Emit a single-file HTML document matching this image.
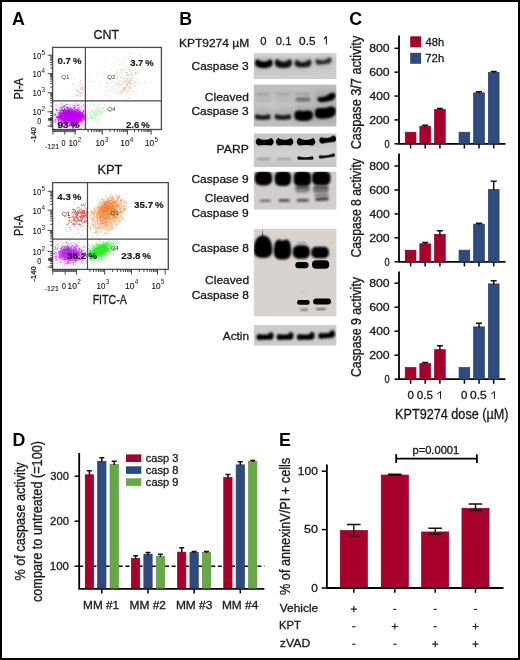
<!DOCTYPE html><html><head><meta charset="utf-8"><style>html,body{margin:0;padding:0;background:#fff;overflow:hidden}svg{display:block;will-change:transform}text{font-family:"Liberation Sans",sans-serif}</style></head><body>
<svg width="520" height="660" viewBox="0 0 520 660">
<defs>
<filter id="b05" x="-50%" y="-50%" width="200%" height="200%"><feGaussianBlur stdDeviation="0.5"/></filter>
<filter id="b1" x="-50%" y="-50%" width="200%" height="200%"><feGaussianBlur stdDeviation="1"/></filter>
<filter id="b15" x="-50%" y="-50%" width="200%" height="200%"><feGaussianBlur stdDeviation="1.5"/></filter>
<filter id="b2" x="-50%" y="-50%" width="200%" height="200%"><feGaussianBlur stdDeviation="2"/></filter>
<filter id="b3" x="-50%" y="-50%" width="200%" height="200%"><feGaussianBlur stdDeviation="3"/></filter>
</defs>
<rect x="0" y="0" width="520" height="660" fill="#fff"/>
<text x="11.9" y="24.9" font-size="17.8" font-weight="bold" fill="#000">A</text>
<text x="179.2" y="24.9" font-size="17.8" font-weight="bold" fill="#000">B</text>
<text x="349.20000000000005" y="24.9" font-size="17.8" font-weight="bold" fill="#000">C</text>
<text x="12.5" y="445.8" font-size="17.8" font-weight="bold" fill="#000">D</text>
<text x="279.0" y="445.8" font-size="17.8" font-weight="bold" fill="#000">E</text>
<text x="93.46" y="38.9" font-size="12.6" font-weight="normal" fill="#1a1a1a" stroke="#1a1a1a" stroke-width="0.3" textLength="25.72" lengthAdjust="spacingAndGlyphs" >CNT</text>
<text x="97.45" y="174.4" font-size="12.6" font-weight="normal" fill="#1a1a1a" stroke="#1a1a1a" stroke-width="0.3" textLength="24.95" lengthAdjust="spacingAndGlyphs" >KPT</text>
<path d="M107.9 84.1h1.0v1.0h-1.0zM108.4 74.2h1.0v1.0h-1.0zM97.1 75.4h1.0v1.0h-1.0zM129.8 83.1h1.0v1.0h-1.0zM128.6 81.0h1.0v1.0h-1.0zM118.3 80.2h1.0v1.0h-1.0zM85.3 88.3h1.0v1.0h-1.0zM120.1 84.0h1.0v1.0h-1.0zM84.9 57.1h1.0v1.0h-1.0zM97.8 72.4h1.0v1.0h-1.0zM116.9 77.4h1.0v1.0h-1.0zM120.3 70.3h1.0v1.0h-1.0zM116.9 82.7h1.0v1.0h-1.0zM101.4 98.6h1.0v1.0h-1.0zM120.9 92.4h1.0v1.0h-1.0zM102.1 69.1h1.0v1.0h-1.0zM106.5 76.7h1.0v1.0h-1.0zM122.1 81.0h1.0v1.0h-1.0zM104.8 66.5h1.0v1.0h-1.0zM103.7 92.7h1.0v1.0h-1.0zM99.1 80.9h1.0v1.0h-1.0zM118.8 60.1h1.0v1.0h-1.0zM112.8 93.7h1.0v1.0h-1.0zM79.8 74.1h1.0v1.0h-1.0zM110.3 68.2h1.0v1.0h-1.0zM120.0 77.3h1.0v1.0h-1.0zM88.6 87.9h1.0v1.0h-1.0zM122.7 89.4h1.0v1.0h-1.0zM135.0 82.3h1.0v1.0h-1.0zM113.9 62.4h1.0v1.0h-1.0zM121.8 70.7h1.0v1.0h-1.0zM104.8 62.8h1.0v1.0h-1.0zM96.5 71.6h1.0v1.0h-1.0zM132.6 53.6h1.0v1.0h-1.0zM88.7 80.9h1.0v1.0h-1.0zM135.1 84.9h1.0v1.0h-1.0zM117.7 69.2h1.0v1.0h-1.0zM94.1 89.7h1.0v1.0h-1.0zM129.6 79.9h1.0v1.0h-1.0zM115.9 83.2h1.0v1.0h-1.0zM137.5 85.4h1.0v1.0h-1.0zM120.3 84.6h1.0v1.0h-1.0zM86.9 93.4h1.0v1.0h-1.0zM127.3 84.4h1.0v1.0h-1.0zM80.4 70.4h1.0v1.0h-1.0zM125.5 56.3h1.0v1.0h-1.0zM109.1 90.2h1.0v1.0h-1.0zM91.0 97.3h1.0v1.0h-1.0zM120.8 76.2h1.0v1.0h-1.0zM117.2 85.8h1.0v1.0h-1.0zM113.9 91.7h1.0v1.0h-1.0zM101.4 73.0h1.0v1.0h-1.0zM128.7 78.3h1.0v1.0h-1.0zM97.9 89.4h1.0v1.0h-1.0zM135.4 72.7h1.0v1.0h-1.0zM89.9 76.4h1.0v1.0h-1.0zM109.6 74.4h1.0v1.0h-1.0zM134.5 65.7h1.0v1.0h-1.0zM132.2 62.8h1.0v1.0h-1.0zM99.4 85.6h1.0v1.0h-1.0zM130.1 88.3h1.0v1.0h-1.0zM117.5 79.7h1.0v1.0h-1.0zM114.4 84.9h1.0v1.0h-1.0zM109.2 81.3h1.0v1.0h-1.0zM121.2 78.0h1.0v1.0h-1.0zM124.2 84.8h1.0v1.0h-1.0zM144.2 81.9h1.0v1.0h-1.0zM105.2 73.5h1.0v1.0h-1.0zM111.8 89.1h1.0v1.0h-1.0zM106.6 82.6h1.0v1.0h-1.0zM94.0 80.9h1.0v1.0h-1.0zM118.4 80.9h1.0v1.0h-1.0zM105.1 85.9h1.0v1.0h-1.0zM116.5 71.7h1.0v1.0h-1.0zM150.9 82.3h1.0v1.0h-1.0zM103.1 76.8h1.0v1.0h-1.0zM108.4 77.2h1.0v1.0h-1.0zM68.4 72.2h1.0v1.0h-1.0zM128.1 64.0h1.0v1.0h-1.0zM110.9 89.4h1.0v1.0h-1.0zM125.7 95.9h1.0v1.0h-1.0zM84.8 73.8h1.0v1.0h-1.0zM106.5 85.5h1.0v1.0h-1.0zM129.4 60.6h1.0v1.0h-1.0zM122.9 60.1h1.0v1.0h-1.0zM114.8 92.3h1.0v1.0h-1.0zM109.6 80.3h1.0v1.0h-1.0zM124.8 79.7h1.0v1.0h-1.0zM110.6 96.4h1.0v1.0h-1.0zM128.8 74.5h1.0v1.0h-1.0z" fill="#c9c0c0" opacity="0.55"/>
<path d="M146.0 57.4h1.0v1.0h-1.0zM131.3 74.3h1.0v1.0h-1.0zM125.1 87.5h1.0v1.0h-1.0zM125.8 86.5h1.0v1.0h-1.0zM111.8 72.5h1.0v1.0h-1.0zM128.9 68.6h1.0v1.0h-1.0zM115.8 70.7h1.0v1.0h-1.0zM134.1 83.0h1.0v1.0h-1.0zM135.8 65.1h1.0v1.0h-1.0zM124.0 69.5h1.0v1.0h-1.0zM130.1 93.7h1.0v1.0h-1.0zM131.9 74.9h1.0v1.0h-1.0zM123.2 75.3h1.0v1.0h-1.0zM127.2 83.4h1.0v1.0h-1.0zM136.0 64.1h1.0v1.0h-1.0zM133.1 91.0h1.0v1.0h-1.0zM135.6 72.8h1.0v1.0h-1.0zM118.0 94.5h1.0v1.0h-1.0zM124.9 81.7h1.0v1.0h-1.0zM135.4 72.1h1.0v1.0h-1.0zM105.6 87.2h1.0v1.0h-1.0zM109.2 97.4h1.0v1.0h-1.0zM126.5 73.4h1.0v1.0h-1.0zM123.9 89.4h1.0v1.0h-1.0zM124.6 94.0h1.0v1.0h-1.0zM123.5 91.8h1.0v1.0h-1.0zM135.9 90.7h1.0v1.0h-1.0zM118.6 92.8h1.0v1.0h-1.0zM109.0 78.3h1.0v1.0h-1.0zM114.1 86.3h1.0v1.0h-1.0zM122.5 81.6h1.0v1.0h-1.0zM119.3 86.0h1.0v1.0h-1.0zM138.3 73.6h1.0v1.0h-1.0zM128.2 88.8h1.0v1.0h-1.0zM122.4 69.2h1.0v1.0h-1.0zM119.6 94.3h1.0v1.0h-1.0zM110.8 82.2h1.0v1.0h-1.0zM132.1 84.6h1.0v1.0h-1.0zM124.1 89.1h1.0v1.0h-1.0zM125.3 68.4h1.0v1.0h-1.0zM111.5 81.4h1.0v1.0h-1.0zM131.4 71.2h1.0v1.0h-1.0zM116.8 77.2h1.0v1.0h-1.0zM111.7 86.6h1.0v1.0h-1.0zM114.6 89.9h1.0v1.0h-1.0zM105.1 94.7h1.0v1.0h-1.0zM118.9 64.2h1.0v1.0h-1.0zM129.8 75.0h1.0v1.0h-1.0zM106.2 82.0h1.0v1.0h-1.0zM126.3 75.1h1.0v1.0h-1.0zM130.2 85.1h1.0v1.0h-1.0zM129.3 81.4h1.0v1.0h-1.0zM134.7 81.8h1.0v1.0h-1.0zM127.6 58.0h1.0v1.0h-1.0zM131.2 90.3h1.0v1.0h-1.0zM121.6 77.6h1.0v1.0h-1.0zM139.5 54.7h1.0v1.0h-1.0zM116.6 92.0h1.0v1.0h-1.0zM139.1 71.5h1.0v1.0h-1.0zM128.5 87.6h1.0v1.0h-1.0zM116.8 84.1h1.0v1.0h-1.0zM126.3 88.0h1.0v1.0h-1.0zM123.7 79.2h1.0v1.0h-1.0zM115.9 81.9h1.0v1.0h-1.0zM131.1 78.1h1.0v1.0h-1.0zM117.2 76.3h1.0v1.0h-1.0zM145.3 80.8h1.0v1.0h-1.0zM129.1 52.1h1.0v1.0h-1.0zM129.0 83.1h1.0v1.0h-1.0zM137.5 77.9h1.0v1.0h-1.0zM123.5 86.6h1.0v1.0h-1.0zM108.4 100.0h1.0v1.0h-1.0zM126.6 72.5h1.0v1.0h-1.0zM134.6 93.4h1.0v1.0h-1.0zM112.8 80.5h1.0v1.0h-1.0zM126.3 81.6h1.0v1.0h-1.0zM120.8 72.9h1.0v1.0h-1.0zM141.0 82.1h1.0v1.0h-1.0zM114.4 72.7h1.0v1.0h-1.0zM137.6 83.5h1.0v1.0h-1.0zM138.6 81.2h1.0v1.0h-1.0zM117.0 87.5h1.0v1.0h-1.0zM106.7 83.0h1.0v1.0h-1.0zM123.5 86.5h1.0v1.0h-1.0zM118.2 82.9h1.0v1.0h-1.0zM127.7 82.8h1.0v1.0h-1.0zM129.1 80.3h1.0v1.0h-1.0zM121.4 90.4h1.0v1.0h-1.0zM124.4 72.5h1.0v1.0h-1.0zM119.0 83.8h1.0v1.0h-1.0zM123.1 83.1h1.0v1.0h-1.0zM124.0 82.8h1.0v1.0h-1.0zM122.9 68.9h1.0v1.0h-1.0zM127.4 89.8h1.0v1.0h-1.0zM127.5 77.2h1.0v1.0h-1.0zM127.6 69.3h1.0v1.0h-1.0zM108.8 89.9h1.0v1.0h-1.0zM116.6 92.6h1.0v1.0h-1.0zM115.3 59.3h1.0v1.0h-1.0zM120.9 68.9h1.0v1.0h-1.0zM117.9 89.6h1.0v1.0h-1.0zM128.0 80.6h1.0v1.0h-1.0zM135.9 81.6h1.0v1.0h-1.0zM123.8 87.1h1.0v1.0h-1.0zM137.2 83.5h1.0v1.0h-1.0zM132.2 65.6h1.0v1.0h-1.0zM122.8 89.0h1.0v1.0h-1.0zM121.6 93.1h1.0v1.0h-1.0zM128.8 87.5h1.0v1.0h-1.0zM133.9 73.4h1.0v1.0h-1.0zM121.3 91.3h1.0v1.0h-1.0zM131.8 76.8h1.0v1.0h-1.0zM114.7 88.0h1.0v1.0h-1.0zM126.9 90.8h1.0v1.0h-1.0zM130.3 77.8h1.0v1.0h-1.0zM130.8 82.7h1.0v1.0h-1.0zM125.6 80.7h1.0v1.0h-1.0zM122.1 89.0h1.0v1.0h-1.0zM115.6 79.3h1.0v1.0h-1.0zM124.0 66.2h1.0v1.0h-1.0z" fill="#e8a878" opacity="0.55"/>
<path d="M125.5 71.8h1.0v1.0h-1.0zM124.6 90.7h1.0v1.0h-1.0zM129.0 81.4h1.0v1.0h-1.0zM126.2 75.1h1.0v1.0h-1.0zM133.4 80.3h1.0v1.0h-1.0zM130.8 73.5h1.0v1.0h-1.0zM126.4 72.1h1.0v1.0h-1.0zM129.7 87.4h1.0v1.0h-1.0zM120.4 91.2h1.0v1.0h-1.0zM129.2 69.3h1.0v1.0h-1.0zM120.6 83.9h1.0v1.0h-1.0zM124.8 76.8h1.0v1.0h-1.0zM127.1 85.6h1.0v1.0h-1.0zM129.2 86.3h1.0v1.0h-1.0zM132.3 86.1h1.0v1.0h-1.0zM122.4 85.7h1.0v1.0h-1.0zM123.3 80.8h1.0v1.0h-1.0zM126.7 84.4h1.0v1.0h-1.0zM128.7 71.0h1.0v1.0h-1.0zM122.7 88.8h1.0v1.0h-1.0zM126.3 82.6h1.0v1.0h-1.0zM126.8 79.0h1.0v1.0h-1.0zM129.5 83.6h1.0v1.0h-1.0zM126.7 79.7h1.0v1.0h-1.0zM126.4 65.8h1.0v1.0h-1.0zM123.6 88.2h1.0v1.0h-1.0zM121.7 91.4h1.0v1.0h-1.0zM127.5 73.9h1.0v1.0h-1.0zM126.1 82.8h1.0v1.0h-1.0zM128.6 86.4h1.0v1.0h-1.0zM126.9 78.2h1.0v1.0h-1.0zM126.5 84.1h1.0v1.0h-1.0zM129.6 83.1h1.0v1.0h-1.0zM124.5 77.5h1.0v1.0h-1.0zM125.7 80.4h1.0v1.0h-1.0zM123.1 87.6h1.0v1.0h-1.0zM125.3 86.7h1.0v1.0h-1.0zM128.8 79.0h1.0v1.0h-1.0zM135.1 72.5h1.0v1.0h-1.0zM130.9 80.4h1.0v1.0h-1.0zM130.9 63.1h1.0v1.0h-1.0zM124.4 88.7h1.0v1.0h-1.0zM129.1 97.8h1.0v1.0h-1.0zM128.1 91.6h1.0v1.0h-1.0zM129.7 87.5h1.0v1.0h-1.0zM128.8 80.9h1.0v1.0h-1.0zM128.8 74.5h1.0v1.0h-1.0zM131.1 72.2h1.0v1.0h-1.0zM127.9 97.7h1.0v1.0h-1.0zM126.2 85.0h1.0v1.0h-1.0zM131.1 79.5h1.0v1.0h-1.0zM124.2 89.0h1.0v1.0h-1.0zM129.0 86.6h1.0v1.0h-1.0zM124.3 99.2h1.0v1.0h-1.0zM132.8 77.5h1.0v1.0h-1.0z" fill="#e09050" opacity="0.55"/>
<path d="M81.1 87.0h1.0v1.0h-1.0zM82.7 86.6h1.0v1.0h-1.0zM77.2 95.0h1.0v1.0h-1.0zM77.3 95.7h1.0v1.0h-1.0zM79.8 92.2h1.0v1.0h-1.0zM80.0 95.5h1.0v1.0h-1.0zM77.4 89.7h1.0v1.0h-1.0zM74.0 78.7h1.0v1.0h-1.0zM84.7 86.8h1.0v1.0h-1.0zM79.8 87.8h1.0v1.0h-1.0zM79.5 82.4h1.0v1.0h-1.0zM80.1 79.9h1.0v1.0h-1.0zM79.7 92.2h1.0v1.0h-1.0zM81.9 88.4h1.0v1.0h-1.0zM76.4 91.1h1.0v1.0h-1.0zM83.1 89.2h1.0v1.0h-1.0zM78.1 85.1h1.0v1.0h-1.0zM76.3 87.5h1.0v1.0h-1.0zM81.2 93.6h1.0v1.0h-1.0zM77.2 90.1h1.0v1.0h-1.0zM77.9 91.2h1.0v1.0h-1.0zM80.6 92.9h1.0v1.0h-1.0zM79.0 92.6h1.0v1.0h-1.0zM80.2 95.4h1.0v1.0h-1.0zM72.4 83.8h1.0v1.0h-1.0zM80.0 82.8h1.0v1.0h-1.0zM75.8 94.4h1.0v1.0h-1.0zM77.4 94.4h1.0v1.0h-1.0zM83.0 92.1h1.0v1.0h-1.0zM82.0 89.3h1.0v1.0h-1.0zM74.4 89.8h1.0v1.0h-1.0zM81.8 86.3h1.0v1.0h-1.0zM79.6 95.2h1.0v1.0h-1.0zM76.5 94.5h1.0v1.0h-1.0zM80.6 88.9h1.0v1.0h-1.0z" fill="#e07aa0" opacity="0.6"/>
<path d="M103.2 111.4h1.0v1.0h-1.0zM99.4 108.0h1.0v1.0h-1.0zM93.9 113.0h1.0v1.0h-1.0zM99.4 103.2h1.0v1.0h-1.0zM98.5 110.9h1.0v1.0h-1.0zM96.7 113.8h1.0v1.0h-1.0zM103.0 107.4h1.0v1.0h-1.0zM87.9 108.8h1.0v1.0h-1.0zM86.7 117.0h1.0v1.0h-1.0zM104.2 111.6h1.0v1.0h-1.0zM95.5 122.7h1.0v1.0h-1.0zM90.9 110.9h1.0v1.0h-1.0zM97.2 114.5h1.0v1.0h-1.0zM87.9 109.7h1.0v1.0h-1.0zM95.7 113.6h1.0v1.0h-1.0zM86.2 114.7h1.0v1.0h-1.0zM90.7 116.2h1.0v1.0h-1.0zM93.3 112.8h1.0v1.0h-1.0zM91.9 118.5h1.0v1.0h-1.0zM102.3 108.5h1.0v1.0h-1.0zM99.1 107.8h1.0v1.0h-1.0zM94.4 116.3h1.0v1.0h-1.0zM103.1 108.2h1.0v1.0h-1.0zM93.6 114.0h1.0v1.0h-1.0zM89.9 116.1h1.0v1.0h-1.0zM87.2 106.2h1.0v1.0h-1.0zM94.2 114.1h1.0v1.0h-1.0zM90.7 118.2h1.0v1.0h-1.0zM92.4 110.8h1.0v1.0h-1.0zM96.9 104.9h1.0v1.0h-1.0zM89.9 114.3h1.0v1.0h-1.0zM99.1 110.6h1.0v1.0h-1.0zM95.9 109.4h1.0v1.0h-1.0zM95.8 120.0h1.0v1.0h-1.0zM89.9 125.2h1.0v1.0h-1.0zM90.1 114.4h1.0v1.0h-1.0zM95.0 117.3h1.0v1.0h-1.0zM86.6 105.8h1.0v1.0h-1.0zM97.6 115.4h1.0v1.0h-1.0zM97.7 123.8h1.0v1.0h-1.0zM95.2 113.8h1.0v1.0h-1.0zM99.6 112.8h1.0v1.0h-1.0zM104.0 104.0h1.0v1.0h-1.0zM98.9 109.7h1.0v1.0h-1.0zM99.5 121.0h1.0v1.0h-1.0zM94.0 111.8h1.0v1.0h-1.0zM91.0 110.2h1.0v1.0h-1.0zM90.2 117.2h1.0v1.0h-1.0zM94.2 113.2h1.0v1.0h-1.0zM93.0 117.5h1.0v1.0h-1.0zM97.0 111.4h1.0v1.0h-1.0zM98.0 111.0h1.0v1.0h-1.0zM87.1 122.0h1.0v1.0h-1.0zM96.8 107.7h1.0v1.0h-1.0zM100.5 112.4h1.0v1.0h-1.0zM96.0 116.4h1.0v1.0h-1.0zM95.2 111.9h1.0v1.0h-1.0zM94.2 111.6h1.0v1.0h-1.0zM96.1 112.7h1.0v1.0h-1.0zM98.1 109.9h1.0v1.0h-1.0zM93.8 103.3h1.0v1.0h-1.0zM91.5 116.9h1.0v1.0h-1.0zM102.0 108.7h1.0v1.0h-1.0zM93.3 120.5h1.0v1.0h-1.0zM92.0 117.0h1.0v1.0h-1.0zM104.1 109.8h1.0v1.0h-1.0zM101.4 107.3h1.0v1.0h-1.0zM95.2 112.2h1.0v1.0h-1.0zM94.7 117.9h1.0v1.0h-1.0zM108.3 105.2h1.0v1.0h-1.0zM90.5 116.4h1.0v1.0h-1.0zM87.7 117.4h1.0v1.0h-1.0zM97.4 110.6h1.0v1.0h-1.0zM97.2 104.8h1.0v1.0h-1.0zM98.6 104.4h1.0v1.0h-1.0zM89.8 111.8h1.0v1.0h-1.0zM91.6 117.7h1.0v1.0h-1.0zM94.5 111.0h1.0v1.0h-1.0zM97.3 119.2h1.0v1.0h-1.0zM94.0 114.7h1.0v1.0h-1.0zM101.4 111.7h1.0v1.0h-1.0zM86.3 127.0h1.0v1.0h-1.0zM93.8 115.0h1.0v1.0h-1.0zM99.8 114.1h1.0v1.0h-1.0zM92.4 108.7h1.0v1.0h-1.0zM94.6 117.5h1.0v1.0h-1.0zM87.5 110.5h1.0v1.0h-1.0zM93.9 104.2h1.0v1.0h-1.0zM92.4 111.5h1.0v1.0h-1.0zM96.7 108.9h1.0v1.0h-1.0zM88.7 113.0h1.0v1.0h-1.0zM93.7 110.1h1.0v1.0h-1.0zM94.1 116.4h1.0v1.0h-1.0zM101.1 118.4h1.0v1.0h-1.0zM89.3 112.6h1.0v1.0h-1.0zM89.7 114.3h1.0v1.0h-1.0zM97.1 105.7h1.0v1.0h-1.0zM96.8 112.0h1.0v1.0h-1.0zM101.2 102.1h1.0v1.0h-1.0zM98.8 112.3h1.0v1.0h-1.0zM96.8 114.1h1.0v1.0h-1.0zM101.8 109.4h1.0v1.0h-1.0zM99.2 109.4h1.0v1.0h-1.0zM98.4 107.8h1.0v1.0h-1.0zM93.3 121.1h1.0v1.0h-1.0zM96.7 111.4h1.0v1.0h-1.0zM87.1 111.7h1.0v1.0h-1.0zM95.2 116.9h1.0v1.0h-1.0zM96.6 114.5h1.0v1.0h-1.0zM93.7 119.3h1.0v1.0h-1.0zM91.7 111.3h1.0v1.0h-1.0zM99.3 111.5h1.0v1.0h-1.0zM92.3 110.9h1.0v1.0h-1.0zM92.5 116.4h1.0v1.0h-1.0zM96.1 106.7h1.0v1.0h-1.0zM96.6 113.0h1.0v1.0h-1.0zM88.0 118.5h1.0v1.0h-1.0zM92.3 112.0h1.0v1.0h-1.0zM98.8 117.5h1.0v1.0h-1.0zM89.9 116.4h1.0v1.0h-1.0zM88.7 125.4h1.0v1.0h-1.0zM91.0 119.5h1.0v1.0h-1.0zM90.1 118.0h1.0v1.0h-1.0zM91.4 116.2h1.0v1.0h-1.0zM93.4 110.1h1.0v1.0h-1.0zM106.9 109.1h1.0v1.0h-1.0zM90.5 114.8h1.0v1.0h-1.0zM101.6 111.0h1.0v1.0h-1.0zM101.1 114.0h1.0v1.0h-1.0zM89.1 118.6h1.0v1.0h-1.0zM97.0 115.0h1.0v1.0h-1.0zM99.4 114.6h1.0v1.0h-1.0zM95.0 114.9h1.0v1.0h-1.0zM109.3 103.5h1.0v1.0h-1.0zM92.0 113.8h1.0v1.0h-1.0zM99.3 109.2h1.0v1.0h-1.0zM100.9 107.1h1.0v1.0h-1.0zM95.6 110.0h1.0v1.0h-1.0zM94.9 109.5h1.0v1.0h-1.0zM95.8 109.8h1.0v1.0h-1.0zM95.2 117.1h1.0v1.0h-1.0zM88.1 114.4h1.0v1.0h-1.0zM97.2 114.3h1.0v1.0h-1.0zM92.0 104.0h1.0v1.0h-1.0zM101.5 112.0h1.0v1.0h-1.0zM94.1 111.7h1.0v1.0h-1.0zM95.6 110.5h1.0v1.0h-1.0zM87.9 111.7h1.0v1.0h-1.0zM90.4 111.4h1.0v1.0h-1.0zM87.0 118.2h1.0v1.0h-1.0z" fill="#8be88b" opacity="0.55"/>
<path d="M58.1 120.8h1.0v1.0h-1.0zM60.9 118.8h1.0v1.0h-1.0zM83.6 117.8h1.0v1.0h-1.0zM63.6 116.8h1.0v1.0h-1.0zM71.9 105.2h1.0v1.0h-1.0zM64.7 117.6h1.0v1.0h-1.0zM66.0 117.0h1.0v1.0h-1.0zM77.5 121.5h1.0v1.0h-1.0zM79.1 120.3h1.0v1.0h-1.0zM67.8 116.4h1.0v1.0h-1.0zM67.9 114.5h1.0v1.0h-1.0zM68.8 105.3h1.0v1.0h-1.0zM67.3 116.3h1.0v1.0h-1.0zM61.2 116.3h1.0v1.0h-1.0zM75.4 115.4h1.0v1.0h-1.0zM68.5 104.6h1.0v1.0h-1.0zM75.4 114.5h1.0v1.0h-1.0zM75.7 101.9h1.0v1.0h-1.0zM78.6 118.9h1.0v1.0h-1.0zM70.7 112.7h1.0v1.0h-1.0zM76.6 113.3h1.0v1.0h-1.0zM72.6 113.2h1.0v1.0h-1.0zM72.4 121.4h1.0v1.0h-1.0zM62.2 116.3h1.0v1.0h-1.0zM76.4 117.4h1.0v1.0h-1.0zM61.9 104.0h1.0v1.0h-1.0zM78.6 126.4h1.0v1.0h-1.0zM79.3 121.8h1.0v1.0h-1.0zM64.6 111.9h1.0v1.0h-1.0zM78.9 110.6h1.0v1.0h-1.0zM53.3 110.0h1.0v1.0h-1.0zM64.0 111.8h1.0v1.0h-1.0zM72.7 111.6h1.0v1.0h-1.0zM82.9 116.0h1.0v1.0h-1.0zM60.2 125.0h1.0v1.0h-1.0zM65.0 117.9h1.0v1.0h-1.0zM70.4 114.5h1.0v1.0h-1.0zM73.6 112.0h1.0v1.0h-1.0zM58.5 111.6h1.0v1.0h-1.0zM70.3 116.9h1.0v1.0h-1.0zM75.8 117.3h1.0v1.0h-1.0zM63.0 111.9h1.0v1.0h-1.0zM75.1 119.9h1.0v1.0h-1.0zM69.3 115.4h1.0v1.0h-1.0zM79.4 116.6h1.0v1.0h-1.0zM77.5 120.3h1.0v1.0h-1.0zM72.5 125.0h1.0v1.0h-1.0zM65.1 114.2h1.0v1.0h-1.0zM62.8 111.3h1.0v1.0h-1.0zM85.3 127.9h1.0v1.0h-1.0zM70.7 120.2h1.0v1.0h-1.0zM81.7 121.7h1.0v1.0h-1.0zM82.0 108.3h1.0v1.0h-1.0zM64.4 119.4h1.0v1.0h-1.0zM84.1 117.2h1.0v1.0h-1.0zM62.3 114.2h1.0v1.0h-1.0zM64.2 110.9h1.0v1.0h-1.0zM84.8 112.4h1.0v1.0h-1.0zM81.8 118.7h1.0v1.0h-1.0zM64.7 119.2h1.0v1.0h-1.0zM82.5 117.1h1.0v1.0h-1.0zM75.4 115.2h1.0v1.0h-1.0zM74.6 125.0h1.0v1.0h-1.0zM56.9 116.1h1.0v1.0h-1.0zM72.8 112.8h1.0v1.0h-1.0zM67.6 121.6h1.0v1.0h-1.0zM73.6 106.4h1.0v1.0h-1.0zM70.2 109.2h1.0v1.0h-1.0zM70.0 109.4h1.0v1.0h-1.0zM71.2 119.5h1.0v1.0h-1.0zM70.8 118.3h1.0v1.0h-1.0zM62.4 125.8h1.0v1.0h-1.0zM64.3 104.7h1.0v1.0h-1.0zM68.7 111.5h1.0v1.0h-1.0zM60.9 114.2h1.0v1.0h-1.0zM73.3 108.8h1.0v1.0h-1.0zM69.2 125.8h1.0v1.0h-1.0zM77.0 115.5h1.0v1.0h-1.0zM71.7 115.7h1.0v1.0h-1.0zM70.0 121.3h1.0v1.0h-1.0zM70.3 110.7h1.0v1.0h-1.0zM76.7 112.5h1.0v1.0h-1.0zM60.6 109.2h1.0v1.0h-1.0zM64.4 104.4h1.0v1.0h-1.0zM56.4 120.5h1.0v1.0h-1.0zM63.1 114.1h1.0v1.0h-1.0zM73.6 125.3h1.0v1.0h-1.0zM71.9 117.7h1.0v1.0h-1.0zM67.6 119.5h1.0v1.0h-1.0zM73.2 116.8h1.0v1.0h-1.0zM65.7 107.9h1.0v1.0h-1.0zM65.4 106.5h1.0v1.0h-1.0zM82.1 120.0h1.0v1.0h-1.0zM59.0 125.6h1.0v1.0h-1.0zM79.0 104.1h1.0v1.0h-1.0zM75.5 119.3h1.0v1.0h-1.0zM72.4 117.6h1.0v1.0h-1.0zM80.5 106.8h1.0v1.0h-1.0zM58.7 107.4h1.0v1.0h-1.0zM65.2 112.6h1.0v1.0h-1.0zM74.0 118.2h1.0v1.0h-1.0zM70.8 112.1h1.0v1.0h-1.0zM66.3 122.7h1.0v1.0h-1.0zM77.8 117.2h1.0v1.0h-1.0zM67.4 126.6h1.0v1.0h-1.0zM64.9 120.7h1.0v1.0h-1.0zM81.5 114.8h1.0v1.0h-1.0zM78.3 109.2h1.0v1.0h-1.0zM80.1 117.8h1.0v1.0h-1.0zM55.4 120.9h1.0v1.0h-1.0zM62.0 124.8h1.0v1.0h-1.0zM64.0 115.4h1.0v1.0h-1.0zM73.2 114.3h1.0v1.0h-1.0zM73.0 112.9h1.0v1.0h-1.0zM76.9 116.5h1.0v1.0h-1.0zM81.5 116.7h1.0v1.0h-1.0zM53.6 117.1h1.0v1.0h-1.0zM74.9 123.5h1.0v1.0h-1.0zM60.2 126.6h1.0v1.0h-1.0zM69.1 120.9h1.0v1.0h-1.0zM67.0 109.2h1.0v1.0h-1.0zM80.9 122.4h1.0v1.0h-1.0zM85.1 122.1h1.0v1.0h-1.0zM65.1 105.7h1.0v1.0h-1.0zM64.3 112.1h1.0v1.0h-1.0zM62.8 120.3h1.0v1.0h-1.0zM73.6 114.7h1.0v1.0h-1.0zM72.1 115.6h1.0v1.0h-1.0zM72.5 121.4h1.0v1.0h-1.0zM79.6 112.0h1.0v1.0h-1.0zM56.2 125.8h1.0v1.0h-1.0zM71.6 123.7h1.0v1.0h-1.0zM54.9 114.4h1.0v1.0h-1.0zM70.8 107.1h1.0v1.0h-1.0zM65.6 121.2h1.0v1.0h-1.0zM80.7 126.9h1.0v1.0h-1.0zM62.3 107.4h1.0v1.0h-1.0zM75.4 122.6h1.0v1.0h-1.0zM72.3 108.0h1.0v1.0h-1.0zM77.9 121.7h1.0v1.0h-1.0zM75.8 113.3h1.0v1.0h-1.0zM73.4 121.6h1.0v1.0h-1.0zM65.2 104.5h1.0v1.0h-1.0zM73.6 119.6h1.0v1.0h-1.0zM70.6 122.3h1.0v1.0h-1.0zM64.9 116.0h1.0v1.0h-1.0zM67.6 120.2h1.0v1.0h-1.0zM85.7 114.9h1.0v1.0h-1.0zM78.0 120.3h1.0v1.0h-1.0zM69.4 109.6h1.0v1.0h-1.0zM75.0 125.2h1.0v1.0h-1.0zM75.6 119.3h1.0v1.0h-1.0zM68.6 117.6h1.0v1.0h-1.0zM57.0 123.3h1.0v1.0h-1.0zM66.6 109.3h1.0v1.0h-1.0zM63.4 111.1h1.0v1.0h-1.0zM78.6 123.4h1.0v1.0h-1.0zM57.6 122.5h1.0v1.0h-1.0zM78.9 112.7h1.0v1.0h-1.0zM56.4 111.7h1.0v1.0h-1.0zM64.5 118.7h1.0v1.0h-1.0zM67.1 103.3h1.0v1.0h-1.0zM72.7 106.5h1.0v1.0h-1.0zM79.1 108.7h1.0v1.0h-1.0zM63.9 110.9h1.0v1.0h-1.0zM65.3 124.9h1.0v1.0h-1.0zM78.6 120.4h1.0v1.0h-1.0zM73.5 106.4h1.0v1.0h-1.0zM65.6 112.9h1.0v1.0h-1.0zM61.2 119.8h1.0v1.0h-1.0zM63.5 111.9h1.0v1.0h-1.0zM60.6 103.1h1.0v1.0h-1.0zM76.2 125.2h1.0v1.0h-1.0zM72.2 110.2h1.0v1.0h-1.0zM82.1 118.4h1.0v1.0h-1.0zM79.3 126.1h1.0v1.0h-1.0zM81.2 113.6h1.0v1.0h-1.0zM80.5 121.5h1.0v1.0h-1.0zM55.9 113.9h1.0v1.0h-1.0zM57.0 115.8h1.0v1.0h-1.0zM76.0 109.6h1.0v1.0h-1.0zM74.1 126.1h1.0v1.0h-1.0zM57.9 123.4h1.0v1.0h-1.0zM68.5 118.2h1.0v1.0h-1.0zM69.0 123.0h1.0v1.0h-1.0zM80.4 117.1h1.0v1.0h-1.0zM57.6 121.3h1.0v1.0h-1.0zM66.0 120.6h1.0v1.0h-1.0zM73.0 127.1h1.0v1.0h-1.0zM81.3 113.6h1.0v1.0h-1.0zM73.8 128.0h1.0v1.0h-1.0zM65.4 119.3h1.0v1.0h-1.0zM81.8 124.7h1.0v1.0h-1.0zM75.4 107.9h1.0v1.0h-1.0zM58.5 118.1h1.0v1.0h-1.0zM62.3 123.9h1.0v1.0h-1.0zM77.8 105.6h1.0v1.0h-1.0zM62.7 117.6h1.0v1.0h-1.0zM65.8 115.5h1.0v1.0h-1.0zM75.0 111.2h1.0v1.0h-1.0zM74.9 112.4h1.0v1.0h-1.0zM65.3 120.0h1.0v1.0h-1.0zM65.1 118.4h1.0v1.0h-1.0zM85.7 116.7h1.0v1.0h-1.0zM69.1 121.3h1.0v1.0h-1.0zM67.0 123.5h1.0v1.0h-1.0zM58.3 120.5h1.0v1.0h-1.0zM65.6 111.3h1.0v1.0h-1.0zM84.3 110.2h1.0v1.0h-1.0zM81.9 126.0h1.0v1.0h-1.0zM69.4 115.7h1.0v1.0h-1.0zM66.5 112.4h1.0v1.0h-1.0zM74.7 118.6h1.0v1.0h-1.0zM72.2 127.7h1.0v1.0h-1.0zM67.4 119.6h1.0v1.0h-1.0zM84.4 110.0h1.0v1.0h-1.0zM80.4 128.4h1.0v1.0h-1.0zM57.6 109.4h1.0v1.0h-1.0zM60.6 104.5h1.0v1.0h-1.0zM74.8 104.4h1.0v1.0h-1.0zM75.2 125.9h1.0v1.0h-1.0zM55.2 114.4h1.0v1.0h-1.0zM63.5 114.8h1.0v1.0h-1.0zM71.0 120.0h1.0v1.0h-1.0zM67.2 116.6h1.0v1.0h-1.0zM65.3 117.2h1.0v1.0h-1.0zM59.4 116.9h1.0v1.0h-1.0zM58.5 118.2h1.0v1.0h-1.0zM61.3 105.8h1.0v1.0h-1.0zM63.5 121.3h1.0v1.0h-1.0zM74.1 115.9h1.0v1.0h-1.0zM61.7 109.5h1.0v1.0h-1.0zM83.3 118.1h1.0v1.0h-1.0zM61.5 102.8h1.0v1.0h-1.0zM59.6 116.0h1.0v1.0h-1.0zM72.5 115.5h1.0v1.0h-1.0zM67.9 107.6h1.0v1.0h-1.0zM60.5 127.5h1.0v1.0h-1.0zM63.3 122.0h1.0v1.0h-1.0zM54.4 114.7h1.0v1.0h-1.0zM73.0 123.2h1.0v1.0h-1.0zM59.8 120.4h1.0v1.0h-1.0zM74.2 111.7h1.0v1.0h-1.0zM75.0 110.7h1.0v1.0h-1.0zM62.9 116.4h1.0v1.0h-1.0zM61.0 107.0h1.0v1.0h-1.0zM66.5 121.5h1.0v1.0h-1.0zM66.7 124.7h1.0v1.0h-1.0zM59.5 108.0h1.0v1.0h-1.0zM85.2 119.1h1.0v1.0h-1.0zM79.5 111.1h1.0v1.0h-1.0zM78.1 118.2h1.0v1.0h-1.0zM76.7 116.7h1.0v1.0h-1.0zM82.0 112.3h1.0v1.0h-1.0zM61.3 106.9h1.0v1.0h-1.0zM81.5 111.7h1.0v1.0h-1.0zM60.6 110.4h1.0v1.0h-1.0zM66.3 108.2h1.0v1.0h-1.0zM67.7 112.4h1.0v1.0h-1.0zM65.3 110.3h1.0v1.0h-1.0zM70.8 113.5h1.0v1.0h-1.0zM71.6 118.1h1.0v1.0h-1.0zM73.7 102.3h1.0v1.0h-1.0zM65.4 111.3h1.0v1.0h-1.0zM77.9 106.2h1.0v1.0h-1.0zM63.7 114.6h1.0v1.0h-1.0zM67.3 122.9h1.0v1.0h-1.0zM66.3 122.8h1.0v1.0h-1.0zM56.6 104.7h1.0v1.0h-1.0zM82.1 119.3h1.0v1.0h-1.0zM75.1 117.3h1.0v1.0h-1.0zM75.1 108.6h1.0v1.0h-1.0zM79.5 113.0h1.0v1.0h-1.0zM79.9 117.1h1.0v1.0h-1.0zM81.2 115.6h1.0v1.0h-1.0zM66.7 118.1h1.0v1.0h-1.0zM66.5 113.0h1.0v1.0h-1.0zM71.5 117.4h1.0v1.0h-1.0zM84.9 116.8h1.0v1.0h-1.0zM71.7 117.4h1.0v1.0h-1.0zM69.1 111.7h1.0v1.0h-1.0zM69.9 112.3h1.0v1.0h-1.0zM66.3 104.0h1.0v1.0h-1.0zM70.0 113.8h1.0v1.0h-1.0zM60.2 109.1h1.0v1.0h-1.0zM70.2 115.5h1.0v1.0h-1.0zM84.2 117.4h1.0v1.0h-1.0zM72.1 114.1h1.0v1.0h-1.0zM64.7 126.2h1.0v1.0h-1.0zM80.0 127.7h1.0v1.0h-1.0zM67.2 116.7h1.0v1.0h-1.0zM62.1 122.8h1.0v1.0h-1.0zM57.3 120.2h1.0v1.0h-1.0zM80.9 125.7h1.0v1.0h-1.0zM61.6 123.6h1.0v1.0h-1.0zM63.7 111.6h1.0v1.0h-1.0zM57.9 124.0h1.0v1.0h-1.0zM63.3 114.3h1.0v1.0h-1.0zM65.3 104.8h1.0v1.0h-1.0zM64.1 124.2h1.0v1.0h-1.0zM63.9 113.2h1.0v1.0h-1.0zM60.2 123.4h1.0v1.0h-1.0zM54.3 108.2h1.0v1.0h-1.0zM73.2 111.5h1.0v1.0h-1.0zM77.9 116.6h1.0v1.0h-1.0zM59.3 120.5h1.0v1.0h-1.0zM78.5 104.1h1.0v1.0h-1.0zM77.7 104.4h1.0v1.0h-1.0zM63.7 114.2h1.0v1.0h-1.0zM80.7 107.0h1.0v1.0h-1.0zM62.1 103.3h1.0v1.0h-1.0zM68.2 118.7h1.0v1.0h-1.0zM54.5 112.7h1.0v1.0h-1.0zM75.3 126.8h1.0v1.0h-1.0zM76.8 114.5h1.0v1.0h-1.0zM59.3 110.4h1.0v1.0h-1.0zM64.2 117.5h1.0v1.0h-1.0zM70.0 127.3h1.0v1.0h-1.0zM73.2 109.5h1.0v1.0h-1.0zM85.2 122.7h1.0v1.0h-1.0zM71.5 111.8h1.0v1.0h-1.0zM79.2 111.3h1.0v1.0h-1.0zM58.0 117.8h1.0v1.0h-1.0zM72.8 120.4h1.0v1.0h-1.0zM76.7 125.7h1.0v1.0h-1.0zM62.5 122.9h1.0v1.0h-1.0zM61.1 121.0h1.0v1.0h-1.0zM72.2 118.1h1.0v1.0h-1.0zM79.7 116.4h1.0v1.0h-1.0zM81.1 122.2h1.0v1.0h-1.0zM71.8 112.8h1.0v1.0h-1.0zM63.3 113.1h1.0v1.0h-1.0zM68.6 116.3h1.0v1.0h-1.0zM77.8 110.9h1.0v1.0h-1.0zM63.8 114.4h1.0v1.0h-1.0zM72.3 109.8h1.0v1.0h-1.0zM70.4 118.3h1.0v1.0h-1.0zM72.3 120.4h1.0v1.0h-1.0zM73.2 117.6h1.0v1.0h-1.0zM73.4 115.2h1.0v1.0h-1.0zM62.7 112.7h1.0v1.0h-1.0zM69.9 124.9h1.0v1.0h-1.0zM55.4 103.9h1.0v1.0h-1.0zM65.9 110.8h1.0v1.0h-1.0zM65.2 117.7h1.0v1.0h-1.0zM71.0 118.3h1.0v1.0h-1.0zM70.2 122.6h1.0v1.0h-1.0zM72.0 114.8h1.0v1.0h-1.0zM73.9 106.5h1.0v1.0h-1.0zM75.5 117.7h1.0v1.0h-1.0zM67.0 111.6h1.0v1.0h-1.0zM57.1 110.5h1.0v1.0h-1.0zM77.1 120.0h1.0v1.0h-1.0zM70.3 119.8h1.0v1.0h-1.0zM64.8 117.0h1.0v1.0h-1.0zM70.9 120.1h1.0v1.0h-1.0zM69.8 115.6h1.0v1.0h-1.0zM69.2 112.3h1.0v1.0h-1.0zM83.8 106.4h1.0v1.0h-1.0zM77.1 121.9h1.0v1.0h-1.0zM77.8 108.8h1.0v1.0h-1.0zM62.2 118.2h1.0v1.0h-1.0zM75.3 109.9h1.0v1.0h-1.0zM66.8 113.9h1.0v1.0h-1.0zM71.1 118.7h1.0v1.0h-1.0zM67.8 108.5h1.0v1.0h-1.0zM82.3 126.9h1.0v1.0h-1.0zM69.5 123.2h1.0v1.0h-1.0zM74.7 120.8h1.0v1.0h-1.0zM75.1 111.5h1.0v1.0h-1.0zM76.0 123.1h1.0v1.0h-1.0zM67.3 112.6h1.0v1.0h-1.0zM62.8 117.3h1.0v1.0h-1.0zM70.2 120.9h1.0v1.0h-1.0zM76.9 119.6h1.0v1.0h-1.0zM73.1 115.1h1.0v1.0h-1.0zM69.3 111.1h1.0v1.0h-1.0zM72.2 116.3h1.0v1.0h-1.0zM73.5 110.9h1.0v1.0h-1.0zM70.9 116.8h1.0v1.0h-1.0zM76.2 109.6h1.0v1.0h-1.0zM74.5 122.9h1.0v1.0h-1.0zM76.2 114.1h1.0v1.0h-1.0zM65.8 115.0h1.0v1.0h-1.0zM77.4 126.6h1.0v1.0h-1.0zM69.0 112.3h1.0v1.0h-1.0zM74.1 117.8h1.0v1.0h-1.0zM61.9 111.7h1.0v1.0h-1.0zM69.5 120.9h1.0v1.0h-1.0zM59.2 109.9h1.0v1.0h-1.0zM75.2 108.5h1.0v1.0h-1.0zM71.5 118.8h1.0v1.0h-1.0zM69.4 109.9h1.0v1.0h-1.0zM69.9 114.3h1.0v1.0h-1.0zM73.7 111.0h1.0v1.0h-1.0zM80.9 105.6h1.0v1.0h-1.0zM68.8 116.6h1.0v1.0h-1.0zM79.6 112.5h1.0v1.0h-1.0zM75.7 112.8h1.0v1.0h-1.0zM77.5 127.8h1.0v1.0h-1.0zM66.7 119.4h1.0v1.0h-1.0zM61.7 122.8h1.0v1.0h-1.0zM82.0 116.7h1.0v1.0h-1.0zM59.7 119.1h1.0v1.0h-1.0zM81.4 123.6h1.0v1.0h-1.0zM78.2 104.6h1.0v1.0h-1.0zM64.0 125.7h1.0v1.0h-1.0zM58.9 123.9h1.0v1.0h-1.0zM81.1 114.3h1.0v1.0h-1.0zM58.9 115.8h1.0v1.0h-1.0zM68.6 116.2h1.0v1.0h-1.0zM77.1 115.6h1.0v1.0h-1.0zM72.3 119.3h1.0v1.0h-1.0zM70.4 128.5h1.0v1.0h-1.0zM74.7 117.0h1.0v1.0h-1.0zM68.5 112.4h1.0v1.0h-1.0zM83.3 117.5h1.0v1.0h-1.0zM60.3 112.8h1.0v1.0h-1.0zM69.2 113.6h1.0v1.0h-1.0zM80.8 108.9h1.0v1.0h-1.0zM75.2 117.4h1.0v1.0h-1.0zM59.3 116.8h1.0v1.0h-1.0zM69.6 119.8h1.0v1.0h-1.0zM66.2 118.5h1.0v1.0h-1.0zM54.7 109.5h1.0v1.0h-1.0zM78.0 123.3h1.0v1.0h-1.0zM70.4 112.6h1.0v1.0h-1.0zM80.8 102.9h1.0v1.0h-1.0zM62.9 120.9h1.0v1.0h-1.0zM76.7 109.8h1.0v1.0h-1.0zM72.0 110.7h1.0v1.0h-1.0zM71.0 122.4h1.0v1.0h-1.0zM77.5 103.0h1.0v1.0h-1.0zM77.8 104.9h1.0v1.0h-1.0zM81.3 119.1h1.0v1.0h-1.0zM70.5 123.3h1.0v1.0h-1.0zM64.4 111.9h1.0v1.0h-1.0zM67.0 116.0h1.0v1.0h-1.0zM60.2 119.6h1.0v1.0h-1.0zM75.7 117.0h1.0v1.0h-1.0zM82.9 112.9h1.0v1.0h-1.0zM77.7 103.9h1.0v1.0h-1.0zM72.4 115.4h1.0v1.0h-1.0zM65.8 112.5h1.0v1.0h-1.0zM67.2 111.8h1.0v1.0h-1.0zM65.3 113.1h1.0v1.0h-1.0zM60.5 115.6h1.0v1.0h-1.0zM78.0 114.9h1.0v1.0h-1.0zM65.8 125.3h1.0v1.0h-1.0zM79.8 122.5h1.0v1.0h-1.0zM81.5 114.4h1.0v1.0h-1.0zM69.3 123.7h1.0v1.0h-1.0zM65.2 115.7h1.0v1.0h-1.0zM74.1 118.9h1.0v1.0h-1.0zM67.9 122.9h1.0v1.0h-1.0zM68.8 121.2h1.0v1.0h-1.0zM80.7 120.8h1.0v1.0h-1.0zM77.5 109.0h1.0v1.0h-1.0zM58.0 112.5h1.0v1.0h-1.0zM75.0 126.3h1.0v1.0h-1.0zM58.9 118.5h1.0v1.0h-1.0zM62.4 111.7h1.0v1.0h-1.0zM67.9 121.0h1.0v1.0h-1.0zM72.5 124.2h1.0v1.0h-1.0zM61.1 122.3h1.0v1.0h-1.0zM79.3 117.0h1.0v1.0h-1.0zM75.0 112.8h1.0v1.0h-1.0zM60.1 113.9h1.0v1.0h-1.0zM65.9 127.2h1.0v1.0h-1.0zM72.4 118.5h1.0v1.0h-1.0zM77.6 111.4h1.0v1.0h-1.0zM79.2 118.9h1.0v1.0h-1.0zM56.1 120.4h1.0v1.0h-1.0zM75.7 119.4h1.0v1.0h-1.0zM85.6 113.8h1.0v1.0h-1.0zM75.4 121.4h1.0v1.0h-1.0zM61.9 124.3h1.0v1.0h-1.0zM56.7 108.0h1.0v1.0h-1.0zM75.5 109.4h1.0v1.0h-1.0zM69.4 105.8h1.0v1.0h-1.0zM71.2 109.1h1.0v1.0h-1.0zM73.7 106.5h1.0v1.0h-1.0zM74.8 114.8h1.0v1.0h-1.0zM71.1 116.1h1.0v1.0h-1.0zM71.7 107.9h1.0v1.0h-1.0zM61.6 113.5h1.0v1.0h-1.0zM74.6 103.6h1.0v1.0h-1.0zM63.2 112.5h1.0v1.0h-1.0zM60.5 118.6h1.0v1.0h-1.0zM69.2 111.2h1.0v1.0h-1.0zM61.1 121.7h1.0v1.0h-1.0zM64.2 120.3h1.0v1.0h-1.0zM74.8 104.2h1.0v1.0h-1.0zM60.2 116.5h1.0v1.0h-1.0zM73.7 121.6h1.0v1.0h-1.0zM78.1 123.2h1.0v1.0h-1.0zM66.9 115.1h1.0v1.0h-1.0zM77.9 113.7h1.0v1.0h-1.0zM80.5 106.2h1.0v1.0h-1.0zM76.7 115.4h1.0v1.0h-1.0zM73.5 116.6h1.0v1.0h-1.0zM60.3 113.5h1.0v1.0h-1.0zM84.9 111.1h1.0v1.0h-1.0zM59.1 115.6h1.0v1.0h-1.0zM66.8 110.6h1.0v1.0h-1.0zM62.5 123.3h1.0v1.0h-1.0zM65.3 109.4h1.0v1.0h-1.0zM78.0 120.2h1.0v1.0h-1.0zM60.6 121.4h1.0v1.0h-1.0zM81.2 114.8h1.0v1.0h-1.0zM58.1 119.8h1.0v1.0h-1.0zM79.2 116.4h1.0v1.0h-1.0zM53.3 114.2h1.0v1.0h-1.0zM74.5 121.5h1.0v1.0h-1.0zM65.9 116.3h1.0v1.0h-1.0zM82.0 110.4h1.0v1.0h-1.0zM78.1 112.1h1.0v1.0h-1.0zM74.9 121.0h1.0v1.0h-1.0zM59.3 115.9h1.0v1.0h-1.0zM72.8 120.3h1.0v1.0h-1.0zM61.7 110.1h1.0v1.0h-1.0zM68.7 115.1h1.0v1.0h-1.0zM56.3 122.5h1.0v1.0h-1.0zM65.4 125.8h1.0v1.0h-1.0zM78.6 116.6h1.0v1.0h-1.0zM77.4 109.3h1.0v1.0h-1.0zM67.4 112.8h1.0v1.0h-1.0zM58.4 116.6h1.0v1.0h-1.0zM69.1 125.8h1.0v1.0h-1.0zM61.8 113.5h1.0v1.0h-1.0zM74.5 119.1h1.0v1.0h-1.0zM70.8 113.4h1.0v1.0h-1.0zM75.2 118.8h1.0v1.0h-1.0zM57.4 108.8h1.0v1.0h-1.0zM71.9 116.9h1.0v1.0h-1.0zM71.6 110.8h1.0v1.0h-1.0zM68.6 110.6h1.0v1.0h-1.0zM74.1 121.0h1.0v1.0h-1.0zM62.8 113.5h1.0v1.0h-1.0zM61.6 118.5h1.0v1.0h-1.0zM58.2 119.8h1.0v1.0h-1.0zM70.5 118.4h1.0v1.0h-1.0zM73.8 111.4h1.0v1.0h-1.0zM70.9 123.0h1.0v1.0h-1.0zM69.2 112.0h1.0v1.0h-1.0zM53.7 117.6h1.0v1.0h-1.0zM70.7 120.5h1.0v1.0h-1.0zM66.7 119.7h1.0v1.0h-1.0zM78.2 115.5h1.0v1.0h-1.0zM66.2 115.3h1.0v1.0h-1.0zM61.3 115.1h1.0v1.0h-1.0zM67.6 117.9h1.0v1.0h-1.0zM83.2 125.0h1.0v1.0h-1.0zM66.3 120.4h1.0v1.0h-1.0zM73.3 121.5h1.0v1.0h-1.0zM70.7 118.2h1.0v1.0h-1.0zM66.0 111.4h1.0v1.0h-1.0zM78.8 124.9h1.0v1.0h-1.0zM76.8 119.3h1.0v1.0h-1.0zM73.0 113.6h1.0v1.0h-1.0zM53.6 120.8h1.0v1.0h-1.0zM72.4 112.9h1.0v1.0h-1.0zM61.3 124.8h1.0v1.0h-1.0zM53.4 128.0h1.0v1.0h-1.0zM63.7 116.4h1.0v1.0h-1.0zM65.7 117.5h1.0v1.0h-1.0zM68.5 111.6h1.0v1.0h-1.0zM80.7 111.4h1.0v1.0h-1.0zM65.7 120.1h1.0v1.0h-1.0zM65.4 113.7h1.0v1.0h-1.0zM73.9 114.1h1.0v1.0h-1.0zM58.7 115.8h1.0v1.0h-1.0zM68.4 127.6h1.0v1.0h-1.0zM60.1 122.8h1.0v1.0h-1.0zM63.0 114.2h1.0v1.0h-1.0zM67.4 118.3h1.0v1.0h-1.0zM78.7 127.9h1.0v1.0h-1.0zM64.5 125.1h1.0v1.0h-1.0zM80.0 121.8h1.0v1.0h-1.0zM63.3 122.4h1.0v1.0h-1.0zM69.5 118.8h1.0v1.0h-1.0zM67.9 120.8h1.0v1.0h-1.0zM81.1 123.9h1.0v1.0h-1.0zM68.6 123.0h1.0v1.0h-1.0zM84.3 110.4h1.0v1.0h-1.0zM84.5 107.8h1.0v1.0h-1.0zM75.7 120.4h1.0v1.0h-1.0zM84.6 118.3h1.0v1.0h-1.0zM65.9 111.3h1.0v1.0h-1.0zM58.6 121.5h1.0v1.0h-1.0zM68.2 111.8h1.0v1.0h-1.0zM75.6 111.5h1.0v1.0h-1.0zM66.3 113.5h1.0v1.0h-1.0zM69.0 106.3h1.0v1.0h-1.0zM73.1 117.0h1.0v1.0h-1.0zM73.8 120.2h1.0v1.0h-1.0zM67.5 122.5h1.0v1.0h-1.0zM78.5 117.9h1.0v1.0h-1.0zM66.6 113.4h1.0v1.0h-1.0zM77.1 109.4h1.0v1.0h-1.0zM69.0 111.6h1.0v1.0h-1.0zM57.3 120.4h1.0v1.0h-1.0zM70.3 116.7h1.0v1.0h-1.0zM78.8 106.8h1.0v1.0h-1.0zM69.9 118.4h1.0v1.0h-1.0zM78.4 109.4h1.0v1.0h-1.0zM77.3 117.9h1.0v1.0h-1.0zM83.4 123.9h1.0v1.0h-1.0zM70.5 113.7h1.0v1.0h-1.0zM67.3 110.4h1.0v1.0h-1.0zM70.2 104.3h1.0v1.0h-1.0zM69.7 119.3h1.0v1.0h-1.0zM79.9 114.2h1.0v1.0h-1.0zM83.7 112.3h1.0v1.0h-1.0zM69.2 104.3h1.0v1.0h-1.0zM63.3 111.4h1.0v1.0h-1.0zM84.4 119.9h1.0v1.0h-1.0zM60.3 119.9h1.0v1.0h-1.0zM75.0 115.0h1.0v1.0h-1.0zM70.7 114.6h1.0v1.0h-1.0zM65.5 105.2h1.0v1.0h-1.0zM69.7 124.7h1.0v1.0h-1.0zM83.8 114.7h1.0v1.0h-1.0zM63.6 115.2h1.0v1.0h-1.0zM78.8 118.7h1.0v1.0h-1.0zM65.1 118.8h1.0v1.0h-1.0zM68.6 119.8h1.0v1.0h-1.0zM66.7 107.2h1.0v1.0h-1.0zM71.0 121.3h1.0v1.0h-1.0zM60.2 115.8h1.0v1.0h-1.0zM78.6 114.1h1.0v1.0h-1.0zM78.2 123.0h1.0v1.0h-1.0zM61.7 126.8h1.0v1.0h-1.0zM55.2 113.2h1.0v1.0h-1.0zM77.3 124.9h1.0v1.0h-1.0zM61.9 112.3h1.0v1.0h-1.0zM72.3 104.3h1.0v1.0h-1.0zM76.4 120.0h1.0v1.0h-1.0zM66.4 119.9h1.0v1.0h-1.0zM77.7 118.5h1.0v1.0h-1.0zM75.3 126.1h1.0v1.0h-1.0zM66.1 117.5h1.0v1.0h-1.0zM65.7 123.0h1.0v1.0h-1.0zM66.7 119.5h1.0v1.0h-1.0zM71.8 116.9h1.0v1.0h-1.0zM83.5 121.7h1.0v1.0h-1.0zM82.6 115.5h1.0v1.0h-1.0zM79.0 121.3h1.0v1.0h-1.0zM64.9 118.2h1.0v1.0h-1.0zM69.3 116.3h1.0v1.0h-1.0zM82.5 112.0h1.0v1.0h-1.0zM55.1 105.6h1.0v1.0h-1.0zM66.3 112.5h1.0v1.0h-1.0zM70.6 120.1h1.0v1.0h-1.0zM74.7 111.9h1.0v1.0h-1.0zM75.8 125.0h1.0v1.0h-1.0zM82.8 104.2h1.0v1.0h-1.0zM78.7 126.4h1.0v1.0h-1.0zM78.1 107.1h1.0v1.0h-1.0zM67.7 120.2h1.0v1.0h-1.0zM74.3 111.4h1.0v1.0h-1.0zM62.4 122.5h1.0v1.0h-1.0zM58.3 125.5h1.0v1.0h-1.0zM70.7 118.4h1.0v1.0h-1.0zM58.3 112.8h1.0v1.0h-1.0zM76.8 107.3h1.0v1.0h-1.0zM59.3 116.8h1.0v1.0h-1.0zM74.9 121.1h1.0v1.0h-1.0zM67.1 115.2h1.0v1.0h-1.0zM68.3 112.9h1.0v1.0h-1.0zM72.8 117.5h1.0v1.0h-1.0zM64.8 118.1h1.0v1.0h-1.0zM70.4 116.0h1.0v1.0h-1.0zM80.6 105.7h1.0v1.0h-1.0zM72.8 109.8h1.0v1.0h-1.0zM67.6 125.9h1.0v1.0h-1.0zM60.6 115.9h1.0v1.0h-1.0zM65.1 122.4h1.0v1.0h-1.0zM61.6 106.0h1.0v1.0h-1.0zM75.2 114.3h1.0v1.0h-1.0zM67.6 123.2h1.0v1.0h-1.0zM62.4 114.2h1.0v1.0h-1.0zM71.8 119.1h1.0v1.0h-1.0zM65.8 123.0h1.0v1.0h-1.0zM83.3 114.4h1.0v1.0h-1.0zM71.8 114.4h1.0v1.0h-1.0zM64.7 108.5h1.0v1.0h-1.0zM66.9 124.6h1.0v1.0h-1.0zM80.9 114.3h1.0v1.0h-1.0zM65.7 112.1h1.0v1.0h-1.0zM59.6 127.8h1.0v1.0h-1.0zM76.6 117.2h1.0v1.0h-1.0zM66.0 110.1h1.0v1.0h-1.0zM82.5 121.4h1.0v1.0h-1.0zM61.8 122.7h1.0v1.0h-1.0zM60.4 120.5h1.0v1.0h-1.0zM61.7 113.9h1.0v1.0h-1.0zM75.0 119.2h1.0v1.0h-1.0zM79.7 111.3h1.0v1.0h-1.0zM84.9 124.9h1.0v1.0h-1.0zM70.4 119.4h1.0v1.0h-1.0zM63.4 115.5h1.0v1.0h-1.0zM58.5 117.1h1.0v1.0h-1.0zM72.3 124.9h1.0v1.0h-1.0zM79.1 121.6h1.0v1.0h-1.0zM67.2 115.1h1.0v1.0h-1.0zM67.4 117.9h1.0v1.0h-1.0zM56.2 113.3h1.0v1.0h-1.0zM70.7 113.3h1.0v1.0h-1.0zM85.7 115.9h1.0v1.0h-1.0zM84.8 123.8h1.0v1.0h-1.0zM66.0 119.0h1.0v1.0h-1.0zM82.3 114.4h1.0v1.0h-1.0zM71.3 113.0h1.0v1.0h-1.0zM71.0 114.3h1.0v1.0h-1.0zM71.3 122.8h1.0v1.0h-1.0zM83.2 117.3h1.0v1.0h-1.0zM72.3 121.8h1.0v1.0h-1.0zM67.9 109.9h1.0v1.0h-1.0zM80.6 110.7h1.0v1.0h-1.0zM79.0 110.5h1.0v1.0h-1.0zM78.2 125.9h1.0v1.0h-1.0zM61.7 125.8h1.0v1.0h-1.0zM63.0 105.5h1.0v1.0h-1.0zM77.1 120.9h1.0v1.0h-1.0zM70.0 114.6h1.0v1.0h-1.0zM67.0 114.7h1.0v1.0h-1.0zM54.2 113.0h1.0v1.0h-1.0zM67.2 112.1h1.0v1.0h-1.0zM74.1 123.1h1.0v1.0h-1.0zM77.1 109.2h1.0v1.0h-1.0zM72.0 117.4h1.0v1.0h-1.0zM83.6 124.0h1.0v1.0h-1.0zM75.3 124.1h1.0v1.0h-1.0zM66.9 126.1h1.0v1.0h-1.0zM66.6 119.0h1.0v1.0h-1.0zM78.9 110.8h1.0v1.0h-1.0zM64.1 105.5h1.0v1.0h-1.0zM72.0 116.2h1.0v1.0h-1.0zM67.5 119.6h1.0v1.0h-1.0zM71.3 114.8h1.0v1.0h-1.0zM77.7 127.4h1.0v1.0h-1.0zM66.4 110.6h1.0v1.0h-1.0zM65.0 117.1h1.0v1.0h-1.0zM75.8 111.1h1.0v1.0h-1.0zM79.6 110.1h1.0v1.0h-1.0zM78.0 119.2h1.0v1.0h-1.0zM68.1 115.5h1.0v1.0h-1.0zM74.8 121.9h1.0v1.0h-1.0zM58.3 118.2h1.0v1.0h-1.0zM63.7 120.4h1.0v1.0h-1.0zM83.0 116.8h1.0v1.0h-1.0zM69.5 117.6h1.0v1.0h-1.0zM75.6 117.5h1.0v1.0h-1.0zM66.9 111.9h1.0v1.0h-1.0zM68.9 124.1h1.0v1.0h-1.0zM69.6 124.9h1.0v1.0h-1.0zM73.0 116.4h1.0v1.0h-1.0zM55.4 112.4h1.0v1.0h-1.0zM81.9 108.4h1.0v1.0h-1.0zM61.5 109.7h1.0v1.0h-1.0zM65.5 120.5h1.0v1.0h-1.0zM75.9 103.8h1.0v1.0h-1.0zM83.8 112.8h1.0v1.0h-1.0zM65.1 126.9h1.0v1.0h-1.0zM69.8 108.8h1.0v1.0h-1.0zM64.7 112.0h1.0v1.0h-1.0zM61.3 114.4h1.0v1.0h-1.0zM78.5 118.7h1.0v1.0h-1.0zM61.5 117.2h1.0v1.0h-1.0zM70.8 121.3h1.0v1.0h-1.0zM67.5 119.3h1.0v1.0h-1.0zM60.6 118.5h1.0v1.0h-1.0zM63.2 114.2h1.0v1.0h-1.0zM72.2 118.6h1.0v1.0h-1.0zM67.9 121.8h1.0v1.0h-1.0zM68.7 108.4h1.0v1.0h-1.0zM78.5 114.2h1.0v1.0h-1.0zM81.6 112.4h1.0v1.0h-1.0zM75.7 118.5h1.0v1.0h-1.0zM60.3 125.3h1.0v1.0h-1.0zM53.3 122.2h1.0v1.0h-1.0zM80.5 119.6h1.0v1.0h-1.0zM76.6 113.4h1.0v1.0h-1.0zM70.4 117.9h1.0v1.0h-1.0zM74.3 120.9h1.0v1.0h-1.0zM68.6 112.1h1.0v1.0h-1.0zM65.4 119.1h1.0v1.0h-1.0zM55.4 108.7h1.0v1.0h-1.0zM66.7 113.0h1.0v1.0h-1.0zM67.4 114.9h1.0v1.0h-1.0zM77.6 104.1h1.0v1.0h-1.0zM67.7 119.5h1.0v1.0h-1.0zM75.0 124.0h1.0v1.0h-1.0zM80.1 109.9h1.0v1.0h-1.0zM76.3 114.4h1.0v1.0h-1.0zM63.2 126.1h1.0v1.0h-1.0zM64.8 111.2h1.0v1.0h-1.0zM66.8 111.2h1.0v1.0h-1.0zM79.7 118.9h1.0v1.0h-1.0z" fill="#dd66ff" opacity="0.45"/>
<ellipse cx="71" cy="116.3" rx="13" ry="6.5" fill="#c400f0" filter="url(#b1)"/>
<path d="M80.4 118.0h1.0v1.0h-1.0zM66.9 120.5h1.0v1.0h-1.0zM66.6 114.4h1.0v1.0h-1.0zM69.9 116.5h1.0v1.0h-1.0zM79.0 113.9h1.0v1.0h-1.0zM73.4 116.2h1.0v1.0h-1.0zM62.5 111.9h1.0v1.0h-1.0zM69.5 117.9h1.0v1.0h-1.0zM73.2 118.2h1.0v1.0h-1.0zM71.3 114.5h1.0v1.0h-1.0zM73.9 112.2h1.0v1.0h-1.0zM61.9 115.0h1.0v1.0h-1.0zM61.4 114.2h1.0v1.0h-1.0zM66.0 114.1h1.0v1.0h-1.0zM70.7 113.1h1.0v1.0h-1.0zM68.1 109.4h1.0v1.0h-1.0zM72.0 112.7h1.0v1.0h-1.0zM73.7 104.9h1.0v1.0h-1.0zM65.6 117.3h1.0v1.0h-1.0zM54.5 114.8h1.0v1.0h-1.0zM71.6 116.7h1.0v1.0h-1.0zM60.9 117.2h1.0v1.0h-1.0zM72.0 112.4h1.0v1.0h-1.0zM76.0 116.1h1.0v1.0h-1.0zM71.1 114.5h1.0v1.0h-1.0zM74.7 116.7h1.0v1.0h-1.0zM78.7 118.1h1.0v1.0h-1.0zM66.8 115.4h1.0v1.0h-1.0zM77.2 114.8h1.0v1.0h-1.0zM73.6 118.4h1.0v1.0h-1.0zM69.8 106.9h1.0v1.0h-1.0zM71.9 117.2h1.0v1.0h-1.0zM71.9 113.2h1.0v1.0h-1.0zM79.2 115.8h1.0v1.0h-1.0zM66.8 113.4h1.0v1.0h-1.0zM73.4 111.9h1.0v1.0h-1.0zM64.2 124.4h1.0v1.0h-1.0zM79.9 120.6h1.0v1.0h-1.0zM80.2 118.7h1.0v1.0h-1.0zM59.6 121.2h1.0v1.0h-1.0zM79.4 118.3h1.0v1.0h-1.0zM57.7 121.4h1.0v1.0h-1.0zM80.3 114.3h1.0v1.0h-1.0zM71.9 119.5h1.0v1.0h-1.0zM70.4 120.8h1.0v1.0h-1.0zM71.6 119.1h1.0v1.0h-1.0zM71.6 110.3h1.0v1.0h-1.0zM72.9 121.6h1.0v1.0h-1.0zM78.7 123.3h1.0v1.0h-1.0zM74.8 113.9h1.0v1.0h-1.0zM71.1 108.5h1.0v1.0h-1.0zM69.7 120.0h1.0v1.0h-1.0zM56.3 117.1h1.0v1.0h-1.0zM76.6 121.7h1.0v1.0h-1.0zM64.7 113.6h1.0v1.0h-1.0zM58.3 112.1h1.0v1.0h-1.0zM74.6 124.7h1.0v1.0h-1.0zM63.2 121.9h1.0v1.0h-1.0zM73.9 114.3h1.0v1.0h-1.0zM70.5 117.2h1.0v1.0h-1.0zM85.5 123.6h1.0v1.0h-1.0zM77.7 121.9h1.0v1.0h-1.0zM74.5 117.8h1.0v1.0h-1.0zM69.8 114.6h1.0v1.0h-1.0zM62.6 124.3h1.0v1.0h-1.0zM68.0 107.8h1.0v1.0h-1.0zM72.8 116.2h1.0v1.0h-1.0zM72.2 123.7h1.0v1.0h-1.0zM70.3 115.2h1.0v1.0h-1.0zM65.9 116.2h1.0v1.0h-1.0zM68.0 117.1h1.0v1.0h-1.0zM65.2 124.2h1.0v1.0h-1.0zM76.9 119.6h1.0v1.0h-1.0zM75.9 119.6h1.0v1.0h-1.0zM75.6 122.1h1.0v1.0h-1.0zM77.9 121.8h1.0v1.0h-1.0zM67.6 116.3h1.0v1.0h-1.0zM66.0 120.2h1.0v1.0h-1.0zM76.7 114.4h1.0v1.0h-1.0zM75.0 127.0h1.0v1.0h-1.0zM79.4 111.7h1.0v1.0h-1.0zM70.4 118.9h1.0v1.0h-1.0zM70.8 117.9h1.0v1.0h-1.0zM79.0 117.6h1.0v1.0h-1.0zM63.5 119.2h1.0v1.0h-1.0zM70.3 116.8h1.0v1.0h-1.0zM67.1 110.6h1.0v1.0h-1.0zM62.5 114.9h1.0v1.0h-1.0zM63.7 105.2h1.0v1.0h-1.0zM78.8 111.5h1.0v1.0h-1.0zM66.1 118.5h1.0v1.0h-1.0zM54.6 121.8h1.0v1.0h-1.0zM65.8 119.0h1.0v1.0h-1.0zM67.7 117.6h1.0v1.0h-1.0zM71.7 116.3h1.0v1.0h-1.0zM58.5 110.3h1.0v1.0h-1.0zM70.7 122.1h1.0v1.0h-1.0zM67.3 118.5h1.0v1.0h-1.0zM72.1 118.3h1.0v1.0h-1.0zM77.8 110.2h1.0v1.0h-1.0zM72.9 115.6h1.0v1.0h-1.0zM68.9 112.8h1.0v1.0h-1.0zM65.6 112.1h1.0v1.0h-1.0zM63.5 126.6h1.0v1.0h-1.0zM82.6 116.3h1.0v1.0h-1.0zM76.1 112.3h1.0v1.0h-1.0zM72.0 122.2h1.0v1.0h-1.0zM70.7 112.2h1.0v1.0h-1.0zM69.4 112.2h1.0v1.0h-1.0zM61.5 115.3h1.0v1.0h-1.0zM68.3 113.0h1.0v1.0h-1.0zM65.0 112.5h1.0v1.0h-1.0zM72.6 122.0h1.0v1.0h-1.0zM69.6 125.5h1.0v1.0h-1.0zM60.0 117.4h1.0v1.0h-1.0zM63.1 115.6h1.0v1.0h-1.0zM71.7 118.6h1.0v1.0h-1.0zM78.7 114.0h1.0v1.0h-1.0zM62.5 115.5h1.0v1.0h-1.0zM73.0 113.4h1.0v1.0h-1.0zM77.1 123.2h1.0v1.0h-1.0zM61.3 117.8h1.0v1.0h-1.0zM77.9 108.4h1.0v1.0h-1.0zM72.4 115.4h1.0v1.0h-1.0zM61.3 121.7h1.0v1.0h-1.0zM72.5 114.3h1.0v1.0h-1.0zM74.0 118.9h1.0v1.0h-1.0zM76.2 118.7h1.0v1.0h-1.0zM73.8 111.5h1.0v1.0h-1.0zM68.1 116.8h1.0v1.0h-1.0zM68.4 112.0h1.0v1.0h-1.0zM58.6 117.3h1.0v1.0h-1.0zM71.2 113.9h1.0v1.0h-1.0zM68.2 112.7h1.0v1.0h-1.0zM65.9 115.9h1.0v1.0h-1.0zM66.6 119.1h1.0v1.0h-1.0zM70.0 116.8h1.0v1.0h-1.0zM73.8 121.5h1.0v1.0h-1.0zM75.1 117.2h1.0v1.0h-1.0zM69.9 113.0h1.0v1.0h-1.0zM68.7 119.1h1.0v1.0h-1.0zM72.5 114.7h1.0v1.0h-1.0zM61.9 110.0h1.0v1.0h-1.0zM73.2 120.5h1.0v1.0h-1.0zM73.6 110.7h1.0v1.0h-1.0zM69.5 117.2h1.0v1.0h-1.0zM64.7 117.7h1.0v1.0h-1.0zM69.6 112.9h1.0v1.0h-1.0zM62.5 119.6h1.0v1.0h-1.0zM73.4 112.7h1.0v1.0h-1.0zM64.1 119.9h1.0v1.0h-1.0zM75.1 115.1h1.0v1.0h-1.0zM81.9 115.1h1.0v1.0h-1.0zM63.8 120.8h1.0v1.0h-1.0zM69.7 117.7h1.0v1.0h-1.0zM71.3 112.2h1.0v1.0h-1.0zM62.9 115.5h1.0v1.0h-1.0zM80.6 112.2h1.0v1.0h-1.0zM80.3 117.2h1.0v1.0h-1.0zM63.4 117.4h1.0v1.0h-1.0zM74.9 112.6h1.0v1.0h-1.0zM56.5 117.8h1.0v1.0h-1.0zM63.4 118.1h1.0v1.0h-1.0zM58.0 115.7h1.0v1.0h-1.0zM65.5 110.2h1.0v1.0h-1.0zM69.4 117.0h1.0v1.0h-1.0zM67.2 111.5h1.0v1.0h-1.0zM72.4 109.2h1.0v1.0h-1.0zM74.6 118.3h1.0v1.0h-1.0zM82.4 119.9h1.0v1.0h-1.0zM73.4 117.4h1.0v1.0h-1.0zM71.2 110.9h1.0v1.0h-1.0zM81.0 118.5h1.0v1.0h-1.0zM69.1 111.6h1.0v1.0h-1.0zM81.1 118.5h1.0v1.0h-1.0zM62.9 119.0h1.0v1.0h-1.0zM83.9 116.2h1.0v1.0h-1.0zM73.7 114.6h1.0v1.0h-1.0zM66.7 120.7h1.0v1.0h-1.0zM70.2 119.5h1.0v1.0h-1.0zM68.9 119.3h1.0v1.0h-1.0zM76.6 112.2h1.0v1.0h-1.0zM63.7 116.0h1.0v1.0h-1.0zM76.7 117.4h1.0v1.0h-1.0zM79.4 110.7h1.0v1.0h-1.0zM74.4 113.8h1.0v1.0h-1.0zM71.7 117.6h1.0v1.0h-1.0zM64.4 115.4h1.0v1.0h-1.0zM63.1 117.4h1.0v1.0h-1.0zM65.2 114.3h1.0v1.0h-1.0zM72.5 113.6h1.0v1.0h-1.0zM78.8 113.7h1.0v1.0h-1.0zM76.8 117.5h1.0v1.0h-1.0zM64.0 115.4h1.0v1.0h-1.0zM65.3 114.8h1.0v1.0h-1.0zM69.2 123.7h1.0v1.0h-1.0zM68.2 122.7h1.0v1.0h-1.0zM74.0 111.0h1.0v1.0h-1.0zM55.3 119.1h1.0v1.0h-1.0zM57.5 119.2h1.0v1.0h-1.0zM78.0 117.9h1.0v1.0h-1.0zM69.6 115.3h1.0v1.0h-1.0zM72.8 115.1h1.0v1.0h-1.0zM67.4 114.8h1.0v1.0h-1.0zM78.9 113.8h1.0v1.0h-1.0zM73.6 111.6h1.0v1.0h-1.0zM66.2 110.7h1.0v1.0h-1.0zM69.7 119.1h1.0v1.0h-1.0zM73.1 114.3h1.0v1.0h-1.0zM75.1 114.9h1.0v1.0h-1.0zM73.5 117.4h1.0v1.0h-1.0zM74.7 106.2h1.0v1.0h-1.0zM62.2 119.4h1.0v1.0h-1.0zM70.3 125.4h1.0v1.0h-1.0zM69.4 114.1h1.0v1.0h-1.0zM81.1 118.6h1.0v1.0h-1.0zM83.9 118.4h1.0v1.0h-1.0zM69.6 119.2h1.0v1.0h-1.0zM65.7 114.5h1.0v1.0h-1.0zM67.2 115.4h1.0v1.0h-1.0zM76.3 114.3h1.0v1.0h-1.0zM73.2 114.3h1.0v1.0h-1.0zM77.0 105.1h1.0v1.0h-1.0zM69.6 117.0h1.0v1.0h-1.0zM63.7 120.4h1.0v1.0h-1.0zM72.5 121.5h1.0v1.0h-1.0zM77.5 118.9h1.0v1.0h-1.0zM70.0 111.9h1.0v1.0h-1.0zM69.5 114.4h1.0v1.0h-1.0zM72.7 114.4h1.0v1.0h-1.0zM78.9 114.4h1.0v1.0h-1.0zM69.4 120.1h1.0v1.0h-1.0zM71.0 111.4h1.0v1.0h-1.0zM73.8 115.5h1.0v1.0h-1.0zM57.1 117.1h1.0v1.0h-1.0zM63.9 113.3h1.0v1.0h-1.0zM74.3 117.5h1.0v1.0h-1.0zM69.0 125.1h1.0v1.0h-1.0zM73.8 113.8h1.0v1.0h-1.0zM72.6 115.8h1.0v1.0h-1.0zM56.1 109.9h1.0v1.0h-1.0zM61.6 124.7h1.0v1.0h-1.0zM69.8 115.2h1.0v1.0h-1.0zM67.2 120.3h1.0v1.0h-1.0zM71.2 123.2h1.0v1.0h-1.0zM76.3 123.0h1.0v1.0h-1.0zM70.2 117.8h1.0v1.0h-1.0zM68.1 115.6h1.0v1.0h-1.0zM59.3 113.9h1.0v1.0h-1.0zM64.6 113.7h1.0v1.0h-1.0zM79.2 117.4h1.0v1.0h-1.0zM79.3 119.8h1.0v1.0h-1.0zM77.2 120.4h1.0v1.0h-1.0zM66.9 119.5h1.0v1.0h-1.0zM68.8 114.2h1.0v1.0h-1.0zM79.1 125.1h1.0v1.0h-1.0zM64.4 123.3h1.0v1.0h-1.0zM76.6 112.9h1.0v1.0h-1.0zM72.8 117.8h1.0v1.0h-1.0zM73.5 114.9h1.0v1.0h-1.0zM62.3 116.4h1.0v1.0h-1.0zM76.8 119.5h1.0v1.0h-1.0zM75.5 120.8h1.0v1.0h-1.0zM64.3 116.1h1.0v1.0h-1.0zM73.3 120.3h1.0v1.0h-1.0zM72.1 118.4h1.0v1.0h-1.0zM71.9 124.8h1.0v1.0h-1.0zM56.3 116.2h1.0v1.0h-1.0zM58.6 116.8h1.0v1.0h-1.0zM61.3 113.6h1.0v1.0h-1.0zM72.5 123.2h1.0v1.0h-1.0zM74.1 119.0h1.0v1.0h-1.0zM77.9 117.1h1.0v1.0h-1.0zM65.2 115.9h1.0v1.0h-1.0zM73.3 115.2h1.0v1.0h-1.0zM66.5 114.8h1.0v1.0h-1.0zM60.9 112.2h1.0v1.0h-1.0zM70.4 114.8h1.0v1.0h-1.0zM71.3 122.0h1.0v1.0h-1.0zM73.0 116.2h1.0v1.0h-1.0zM63.1 111.9h1.0v1.0h-1.0zM73.5 112.8h1.0v1.0h-1.0zM73.9 112.0h1.0v1.0h-1.0zM71.9 116.0h1.0v1.0h-1.0zM77.7 114.7h1.0v1.0h-1.0zM68.5 117.3h1.0v1.0h-1.0zM71.4 123.1h1.0v1.0h-1.0zM69.3 114.1h1.0v1.0h-1.0zM68.8 118.2h1.0v1.0h-1.0zM72.6 119.1h1.0v1.0h-1.0zM61.7 126.3h1.0v1.0h-1.0zM83.4 116.2h1.0v1.0h-1.0zM62.9 116.9h1.0v1.0h-1.0zM73.8 107.3h1.0v1.0h-1.0zM71.1 110.3h1.0v1.0h-1.0zM74.1 121.9h1.0v1.0h-1.0zM78.0 110.2h1.0v1.0h-1.0zM80.3 120.0h1.0v1.0h-1.0zM68.6 118.3h1.0v1.0h-1.0zM81.2 115.0h1.0v1.0h-1.0zM70.9 114.0h1.0v1.0h-1.0zM78.8 107.6h1.0v1.0h-1.0zM80.6 112.4h1.0v1.0h-1.0zM77.2 109.7h1.0v1.0h-1.0zM64.7 113.9h1.0v1.0h-1.0zM76.6 109.7h1.0v1.0h-1.0zM75.1 113.7h1.0v1.0h-1.0zM79.4 115.0h1.0v1.0h-1.0zM74.3 115.6h1.0v1.0h-1.0zM83.1 114.8h1.0v1.0h-1.0zM70.8 124.3h1.0v1.0h-1.0zM71.5 119.1h1.0v1.0h-1.0zM66.0 117.1h1.0v1.0h-1.0zM55.7 116.7h1.0v1.0h-1.0zM66.6 110.2h1.0v1.0h-1.0zM61.5 120.9h1.0v1.0h-1.0zM73.9 110.2h1.0v1.0h-1.0zM83.2 113.5h1.0v1.0h-1.0zM68.5 117.3h1.0v1.0h-1.0zM63.3 109.8h1.0v1.0h-1.0zM66.0 121.1h1.0v1.0h-1.0zM77.4 109.9h1.0v1.0h-1.0zM79.1 116.4h1.0v1.0h-1.0zM74.4 116.5h1.0v1.0h-1.0zM73.8 112.3h1.0v1.0h-1.0zM64.9 113.5h1.0v1.0h-1.0zM68.5 118.8h1.0v1.0h-1.0zM62.8 122.7h1.0v1.0h-1.0zM66.7 113.9h1.0v1.0h-1.0zM75.7 118.1h1.0v1.0h-1.0zM68.7 112.0h1.0v1.0h-1.0zM64.3 109.8h1.0v1.0h-1.0zM78.7 120.7h1.0v1.0h-1.0zM83.6 118.3h1.0v1.0h-1.0zM73.2 119.4h1.0v1.0h-1.0zM77.4 115.3h1.0v1.0h-1.0zM73.4 125.0h1.0v1.0h-1.0zM59.6 110.6h1.0v1.0h-1.0zM64.5 119.3h1.0v1.0h-1.0zM79.0 114.9h1.0v1.0h-1.0zM75.5 116.1h1.0v1.0h-1.0zM73.0 114.1h1.0v1.0h-1.0zM70.8 116.3h1.0v1.0h-1.0zM78.6 125.3h1.0v1.0h-1.0zM58.8 118.5h1.0v1.0h-1.0zM71.0 120.2h1.0v1.0h-1.0zM78.2 119.5h1.0v1.0h-1.0zM76.5 112.5h1.0v1.0h-1.0zM59.5 123.1h1.0v1.0h-1.0zM79.1 112.4h1.0v1.0h-1.0zM79.7 119.0h1.0v1.0h-1.0zM54.5 119.9h1.0v1.0h-1.0zM64.3 121.0h1.0v1.0h-1.0zM66.4 113.3h1.0v1.0h-1.0zM60.6 115.4h1.0v1.0h-1.0zM77.9 113.6h1.0v1.0h-1.0zM58.5 125.0h1.0v1.0h-1.0zM83.4 119.1h1.0v1.0h-1.0zM67.4 111.4h1.0v1.0h-1.0zM60.0 118.6h1.0v1.0h-1.0zM79.8 112.0h1.0v1.0h-1.0zM71.0 115.2h1.0v1.0h-1.0zM69.3 118.3h1.0v1.0h-1.0zM85.1 113.7h1.0v1.0h-1.0zM76.7 120.7h1.0v1.0h-1.0zM69.1 115.7h1.0v1.0h-1.0zM62.0 120.7h1.0v1.0h-1.0zM67.4 113.7h1.0v1.0h-1.0zM71.5 112.8h1.0v1.0h-1.0zM64.0 115.1h1.0v1.0h-1.0zM81.0 115.5h1.0v1.0h-1.0zM74.6 110.4h1.0v1.0h-1.0zM57.9 123.7h1.0v1.0h-1.0zM68.3 110.1h1.0v1.0h-1.0zM70.3 118.8h1.0v1.0h-1.0zM59.3 112.7h1.0v1.0h-1.0zM72.8 112.6h1.0v1.0h-1.0zM76.4 120.2h1.0v1.0h-1.0zM74.0 114.6h1.0v1.0h-1.0zM70.7 113.7h1.0v1.0h-1.0zM70.1 117.6h1.0v1.0h-1.0zM69.0 120.2h1.0v1.0h-1.0zM73.3 119.6h1.0v1.0h-1.0zM75.4 115.3h1.0v1.0h-1.0zM67.8 120.4h1.0v1.0h-1.0zM75.2 118.4h1.0v1.0h-1.0zM65.6 118.9h1.0v1.0h-1.0zM76.4 115.5h1.0v1.0h-1.0zM75.4 125.1h1.0v1.0h-1.0zM58.3 118.8h1.0v1.0h-1.0zM63.1 110.8h1.0v1.0h-1.0zM69.4 118.5h1.0v1.0h-1.0zM71.4 111.6h1.0v1.0h-1.0zM61.3 114.0h1.0v1.0h-1.0zM71.1 112.9h1.0v1.0h-1.0zM60.8 123.4h1.0v1.0h-1.0zM65.3 115.7h1.0v1.0h-1.0zM67.3 113.9h1.0v1.0h-1.0zM71.3 115.1h1.0v1.0h-1.0zM75.2 111.5h1.0v1.0h-1.0zM60.9 124.2h1.0v1.0h-1.0zM70.5 119.4h1.0v1.0h-1.0zM79.0 118.6h1.0v1.0h-1.0zM71.2 110.0h1.0v1.0h-1.0zM60.2 120.3h1.0v1.0h-1.0zM75.6 118.6h1.0v1.0h-1.0zM59.8 107.6h1.0v1.0h-1.0zM63.8 111.5h1.0v1.0h-1.0zM72.1 112.1h1.0v1.0h-1.0zM81.7 113.8h1.0v1.0h-1.0zM67.2 119.8h1.0v1.0h-1.0zM73.2 112.6h1.0v1.0h-1.0zM76.6 124.1h1.0v1.0h-1.0zM62.7 115.3h1.0v1.0h-1.0zM63.7 108.4h1.0v1.0h-1.0zM75.3 119.1h1.0v1.0h-1.0zM77.6 118.0h1.0v1.0h-1.0zM57.3 116.2h1.0v1.0h-1.0zM66.5 111.5h1.0v1.0h-1.0zM63.5 119.4h1.0v1.0h-1.0zM69.0 124.3h1.0v1.0h-1.0zM74.2 108.5h1.0v1.0h-1.0zM77.1 121.4h1.0v1.0h-1.0zM71.2 111.4h1.0v1.0h-1.0zM83.0 110.9h1.0v1.0h-1.0zM70.4 108.5h1.0v1.0h-1.0zM62.5 109.4h1.0v1.0h-1.0zM78.4 121.1h1.0v1.0h-1.0zM68.2 110.8h1.0v1.0h-1.0zM70.6 117.8h1.0v1.0h-1.0zM60.6 111.6h1.0v1.0h-1.0zM70.3 119.2h1.0v1.0h-1.0zM71.5 118.1h1.0v1.0h-1.0zM62.5 106.1h1.0v1.0h-1.0zM73.1 112.5h1.0v1.0h-1.0zM70.2 114.8h1.0v1.0h-1.0zM74.3 113.1h1.0v1.0h-1.0zM80.9 116.4h1.0v1.0h-1.0zM74.6 118.9h1.0v1.0h-1.0zM78.1 118.0h1.0v1.0h-1.0zM59.0 113.7h1.0v1.0h-1.0zM83.7 118.2h1.0v1.0h-1.0zM74.8 118.2h1.0v1.0h-1.0zM66.6 113.5h1.0v1.0h-1.0zM66.6 121.1h1.0v1.0h-1.0zM73.5 123.6h1.0v1.0h-1.0zM74.4 124.1h1.0v1.0h-1.0zM74.1 111.4h1.0v1.0h-1.0zM82.9 117.7h1.0v1.0h-1.0zM79.2 117.2h1.0v1.0h-1.0zM68.8 117.0h1.0v1.0h-1.0zM63.3 111.4h1.0v1.0h-1.0zM64.9 114.1h1.0v1.0h-1.0zM61.7 115.9h1.0v1.0h-1.0zM73.1 124.7h1.0v1.0h-1.0zM83.6 116.1h1.0v1.0h-1.0zM77.1 115.4h1.0v1.0h-1.0zM73.7 116.2h1.0v1.0h-1.0zM67.3 116.6h1.0v1.0h-1.0zM60.8 118.1h1.0v1.0h-1.0zM69.0 111.8h1.0v1.0h-1.0zM68.5 118.6h1.0v1.0h-1.0zM66.3 118.3h1.0v1.0h-1.0zM74.9 122.7h1.0v1.0h-1.0zM63.5 115.8h1.0v1.0h-1.0zM74.5 122.5h1.0v1.0h-1.0zM72.8 119.4h1.0v1.0h-1.0zM60.9 113.9h1.0v1.0h-1.0zM82.4 115.1h1.0v1.0h-1.0zM69.1 109.7h1.0v1.0h-1.0zM75.4 117.4h1.0v1.0h-1.0zM84.9 117.0h1.0v1.0h-1.0zM69.3 110.5h1.0v1.0h-1.0zM70.4 120.2h1.0v1.0h-1.0zM76.1 121.4h1.0v1.0h-1.0zM77.0 116.1h1.0v1.0h-1.0zM75.2 117.0h1.0v1.0h-1.0zM61.8 123.4h1.0v1.0h-1.0zM73.6 111.9h1.0v1.0h-1.0zM73.7 117.5h1.0v1.0h-1.0zM77.9 122.3h1.0v1.0h-1.0zM81.6 112.4h1.0v1.0h-1.0zM58.1 117.5h1.0v1.0h-1.0zM73.3 117.8h1.0v1.0h-1.0zM63.3 114.4h1.0v1.0h-1.0zM72.3 119.4h1.0v1.0h-1.0zM66.8 106.5h1.0v1.0h-1.0zM78.4 115.8h1.0v1.0h-1.0zM70.2 112.2h1.0v1.0h-1.0zM76.1 108.8h1.0v1.0h-1.0zM71.8 116.8h1.0v1.0h-1.0zM73.1 121.7h1.0v1.0h-1.0zM70.3 116.7h1.0v1.0h-1.0zM76.9 109.8h1.0v1.0h-1.0zM69.0 116.6h1.0v1.0h-1.0zM77.6 113.0h1.0v1.0h-1.0zM76.6 117.9h1.0v1.0h-1.0zM60.7 110.1h1.0v1.0h-1.0zM61.0 116.9h1.0v1.0h-1.0zM72.4 119.3h1.0v1.0h-1.0zM76.7 114.0h1.0v1.0h-1.0zM78.4 119.7h1.0v1.0h-1.0zM74.3 118.3h1.0v1.0h-1.0zM62.1 117.8h1.0v1.0h-1.0zM63.8 111.3h1.0v1.0h-1.0zM68.6 116.9h1.0v1.0h-1.0zM70.6 114.9h1.0v1.0h-1.0zM64.0 117.1h1.0v1.0h-1.0zM65.8 110.4h1.0v1.0h-1.0zM71.6 122.4h1.0v1.0h-1.0zM68.2 111.9h1.0v1.0h-1.0zM80.6 123.5h1.0v1.0h-1.0zM69.0 115.4h1.0v1.0h-1.0zM72.5 128.6h1.0v1.0h-1.0zM71.9 120.5h1.0v1.0h-1.0zM74.1 108.7h1.0v1.0h-1.0zM63.3 111.1h1.0v1.0h-1.0zM74.0 116.7h1.0v1.0h-1.0zM83.5 115.2h1.0v1.0h-1.0zM73.1 116.6h1.0v1.0h-1.0zM72.0 126.0h1.0v1.0h-1.0zM73.0 122.5h1.0v1.0h-1.0zM80.0 113.8h1.0v1.0h-1.0zM75.8 114.7h1.0v1.0h-1.0zM71.8 117.0h1.0v1.0h-1.0zM71.1 114.3h1.0v1.0h-1.0zM81.9 115.2h1.0v1.0h-1.0zM75.9 123.3h1.0v1.0h-1.0zM75.4 120.6h1.0v1.0h-1.0zM80.7 120.9h1.0v1.0h-1.0zM83.0 110.3h1.0v1.0h-1.0zM84.7 116.4h1.0v1.0h-1.0zM58.8 113.6h1.0v1.0h-1.0zM61.3 116.2h1.0v1.0h-1.0zM60.6 112.1h1.0v1.0h-1.0zM73.1 117.0h1.0v1.0h-1.0zM65.4 115.3h1.0v1.0h-1.0zM70.3 116.6h1.0v1.0h-1.0zM71.0 115.4h1.0v1.0h-1.0zM77.1 109.6h1.0v1.0h-1.0zM67.6 116.9h1.0v1.0h-1.0zM68.2 114.0h1.0v1.0h-1.0zM67.9 117.2h1.0v1.0h-1.0zM79.7 115.5h1.0v1.0h-1.0zM69.1 117.8h1.0v1.0h-1.0zM69.3 108.2h1.0v1.0h-1.0zM72.9 114.7h1.0v1.0h-1.0zM67.0 118.9h1.0v1.0h-1.0zM71.3 113.9h1.0v1.0h-1.0zM55.8 109.1h1.0v1.0h-1.0zM71.1 115.8h1.0v1.0h-1.0zM74.1 117.2h1.0v1.0h-1.0zM67.7 111.0h1.0v1.0h-1.0zM63.3 115.7h1.0v1.0h-1.0zM63.0 119.5h1.0v1.0h-1.0zM61.7 108.8h1.0v1.0h-1.0zM69.6 108.8h1.0v1.0h-1.0zM82.4 112.1h1.0v1.0h-1.0zM70.6 115.3h1.0v1.0h-1.0zM65.3 108.9h1.0v1.0h-1.0zM58.0 119.9h1.0v1.0h-1.0zM78.1 125.4h1.0v1.0h-1.0zM60.8 118.7h1.0v1.0h-1.0zM70.9 119.9h1.0v1.0h-1.0zM67.4 119.3h1.0v1.0h-1.0zM77.3 118.8h1.0v1.0h-1.0zM81.1 115.6h1.0v1.0h-1.0zM81.8 113.4h1.0v1.0h-1.0zM82.7 104.8h1.0v1.0h-1.0zM71.1 112.9h1.0v1.0h-1.0zM71.0 120.6h1.0v1.0h-1.0zM76.0 116.7h1.0v1.0h-1.0zM82.9 110.1h1.0v1.0h-1.0zM65.3 122.6h1.0v1.0h-1.0zM73.3 107.6h1.0v1.0h-1.0zM73.4 111.3h1.0v1.0h-1.0zM81.3 121.1h1.0v1.0h-1.0zM67.2 121.7h1.0v1.0h-1.0zM65.2 120.2h1.0v1.0h-1.0zM75.1 115.8h1.0v1.0h-1.0zM61.0 115.1h1.0v1.0h-1.0zM55.0 113.9h1.0v1.0h-1.0zM58.0 121.4h1.0v1.0h-1.0zM64.2 106.1h1.0v1.0h-1.0zM75.1 117.8h1.0v1.0h-1.0zM67.5 125.2h1.0v1.0h-1.0zM76.4 116.6h1.0v1.0h-1.0zM66.5 103.9h1.0v1.0h-1.0zM74.4 120.3h1.0v1.0h-1.0zM66.9 110.4h1.0v1.0h-1.0zM70.7 109.3h1.0v1.0h-1.0zM71.1 119.5h1.0v1.0h-1.0zM81.6 117.4h1.0v1.0h-1.0zM72.4 119.4h1.0v1.0h-1.0zM80.8 115.0h1.0v1.0h-1.0zM62.4 113.0h1.0v1.0h-1.0zM62.2 112.6h1.0v1.0h-1.0zM70.2 117.7h1.0v1.0h-1.0zM72.1 116.6h1.0v1.0h-1.0zM68.5 118.1h1.0v1.0h-1.0z" fill="#c000f0" opacity="0.9"/>
<path d="M86.6 216.9h1.0v1.0h-1.0zM78.1 224.1h1.0v1.0h-1.0zM81.5 216.6h1.0v1.0h-1.0zM77.5 220.6h1.0v1.0h-1.0zM77.0 210.8h1.0v1.0h-1.0zM79.5 212.9h1.0v1.0h-1.0zM86.3 211.3h1.0v1.0h-1.0zM80.9 213.6h1.0v1.0h-1.0zM82.6 211.1h1.0v1.0h-1.0zM77.1 212.3h1.0v1.0h-1.0zM84.9 213.8h1.0v1.0h-1.0zM83.6 212.3h1.0v1.0h-1.0zM74.6 210.9h1.0v1.0h-1.0zM77.5 213.0h1.0v1.0h-1.0zM82.1 216.2h1.0v1.0h-1.0zM74.4 211.3h1.0v1.0h-1.0zM80.5 216.7h1.0v1.0h-1.0zM72.1 223.4h1.0v1.0h-1.0zM79.9 219.8h1.0v1.0h-1.0zM76.4 215.7h1.0v1.0h-1.0zM80.1 223.9h1.0v1.0h-1.0zM78.4 220.3h1.0v1.0h-1.0zM80.5 211.3h1.0v1.0h-1.0zM81.8 217.8h1.0v1.0h-1.0zM74.7 219.8h1.0v1.0h-1.0zM74.7 212.1h1.0v1.0h-1.0zM81.7 213.3h1.0v1.0h-1.0zM72.6 208.9h1.0v1.0h-1.0zM80.2 216.2h1.0v1.0h-1.0zM76.6 217.0h1.0v1.0h-1.0zM68.5 220.3h1.0v1.0h-1.0zM83.1 215.5h1.0v1.0h-1.0zM75.4 216.7h1.0v1.0h-1.0zM81.0 220.1h1.0v1.0h-1.0zM82.1 215.7h1.0v1.0h-1.0zM74.6 220.9h1.0v1.0h-1.0zM84.8 215.1h1.0v1.0h-1.0zM79.6 208.6h1.0v1.0h-1.0zM82.3 212.4h1.0v1.0h-1.0zM80.3 218.0h1.0v1.0h-1.0zM83.4 211.4h1.0v1.0h-1.0zM85.1 215.5h1.0v1.0h-1.0zM79.7 213.1h1.0v1.0h-1.0zM73.7 218.1h1.0v1.0h-1.0zM83.1 221.2h1.0v1.0h-1.0zM77.6 217.7h1.0v1.0h-1.0zM80.5 215.5h1.0v1.0h-1.0zM74.8 211.5h1.0v1.0h-1.0zM79.4 208.9h1.0v1.0h-1.0zM80.9 220.6h1.0v1.0h-1.0zM71.4 213.0h1.0v1.0h-1.0zM84.5 209.9h1.0v1.0h-1.0zM83.9 212.0h1.0v1.0h-1.0zM81.5 221.3h1.0v1.0h-1.0zM82.5 213.1h1.0v1.0h-1.0zM80.4 216.2h1.0v1.0h-1.0zM76.2 217.2h1.0v1.0h-1.0zM84.5 221.5h1.0v1.0h-1.0zM70.8 222.1h1.0v1.0h-1.0zM80.9 220.4h1.0v1.0h-1.0zM76.2 213.7h1.0v1.0h-1.0zM82.5 211.3h1.0v1.0h-1.0zM76.7 220.6h1.0v1.0h-1.0zM73.8 223.1h1.0v1.0h-1.0zM87.2 213.6h1.0v1.0h-1.0zM79.6 220.7h1.0v1.0h-1.0zM69.1 215.2h1.0v1.0h-1.0zM83.6 216.8h1.0v1.0h-1.0zM82.4 216.5h1.0v1.0h-1.0zM70.2 217.0h1.0v1.0h-1.0zM81.9 213.3h1.0v1.0h-1.0zM80.4 217.9h1.0v1.0h-1.0zM72.9 214.2h1.0v1.0h-1.0zM66.8 224.6h1.0v1.0h-1.0zM72.2 208.8h1.0v1.0h-1.0zM85.7 212.3h1.0v1.0h-1.0zM87.2 211.1h1.0v1.0h-1.0zM81.1 215.2h1.0v1.0h-1.0zM78.5 219.5h1.0v1.0h-1.0zM71.9 220.3h1.0v1.0h-1.0zM74.9 211.5h1.0v1.0h-1.0zM84.2 216.3h1.0v1.0h-1.0zM74.6 211.0h1.0v1.0h-1.0zM85.1 203.3h1.0v1.0h-1.0zM84.8 212.8h1.0v1.0h-1.0zM75.7 214.9h1.0v1.0h-1.0zM77.9 212.0h1.0v1.0h-1.0zM80.6 219.6h1.0v1.0h-1.0zM68.8 217.1h1.0v1.0h-1.0zM74.0 212.8h1.0v1.0h-1.0zM73.7 208.9h1.0v1.0h-1.0zM74.8 209.4h1.0v1.0h-1.0zM77.2 213.3h1.0v1.0h-1.0zM80.9 220.1h1.0v1.0h-1.0zM84.9 212.7h1.0v1.0h-1.0zM84.4 211.6h1.0v1.0h-1.0zM79.3 210.5h1.0v1.0h-1.0zM73.4 209.6h1.0v1.0h-1.0zM83.7 216.5h1.0v1.0h-1.0zM81.3 218.5h1.0v1.0h-1.0zM84.0 214.4h1.0v1.0h-1.0zM73.5 219.8h1.0v1.0h-1.0zM72.8 223.3h1.0v1.0h-1.0zM75.7 217.5h1.0v1.0h-1.0zM78.6 215.5h1.0v1.0h-1.0zM78.0 212.9h1.0v1.0h-1.0zM81.5 205.0h1.0v1.0h-1.0zM73.3 211.4h1.0v1.0h-1.0zM84.2 221.9h1.0v1.0h-1.0zM78.2 219.2h1.0v1.0h-1.0zM84.4 207.5h1.0v1.0h-1.0zM75.8 214.5h1.0v1.0h-1.0zM79.1 211.3h1.0v1.0h-1.0zM80.7 215.0h1.0v1.0h-1.0zM85.4 220.3h1.0v1.0h-1.0zM85.4 213.5h1.0v1.0h-1.0zM78.9 223.2h1.0v1.0h-1.0zM81.5 214.5h1.0v1.0h-1.0zM84.2 213.2h1.0v1.0h-1.0zM75.3 221.6h1.0v1.0h-1.0zM76.7 220.7h1.0v1.0h-1.0zM74.3 217.2h1.0v1.0h-1.0zM83.0 214.8h1.0v1.0h-1.0zM81.7 216.4h1.0v1.0h-1.0zM71.8 211.9h1.0v1.0h-1.0zM78.9 224.2h1.0v1.0h-1.0zM79.1 210.7h1.0v1.0h-1.0zM75.2 216.6h1.0v1.0h-1.0zM84.1 214.7h1.0v1.0h-1.0zM77.4 211.1h1.0v1.0h-1.0zM78.9 211.8h1.0v1.0h-1.0zM83.9 205.2h1.0v1.0h-1.0zM84.2 221.1h1.0v1.0h-1.0zM84.4 205.3h1.0v1.0h-1.0zM80.4 217.1h1.0v1.0h-1.0zM75.0 210.9h1.0v1.0h-1.0zM83.2 216.6h1.0v1.0h-1.0zM76.9 214.7h1.0v1.0h-1.0zM76.3 213.3h1.0v1.0h-1.0zM79.6 220.4h1.0v1.0h-1.0zM68.2 216.8h1.0v1.0h-1.0zM81.1 218.8h1.0v1.0h-1.0zM72.7 211.2h1.0v1.0h-1.0zM67.9 211.4h1.0v1.0h-1.0zM81.8 218.6h1.0v1.0h-1.0zM77.0 212.6h1.0v1.0h-1.0zM83.0 217.1h1.0v1.0h-1.0zM81.9 205.1h1.0v1.0h-1.0zM81.8 210.3h1.0v1.0h-1.0zM75.2 223.8h1.0v1.0h-1.0zM82.0 215.3h1.0v1.0h-1.0zM75.7 216.0h1.0v1.0h-1.0zM75.2 217.2h1.0v1.0h-1.0zM86.5 217.2h1.0v1.0h-1.0zM72.9 216.4h1.0v1.0h-1.0zM78.1 209.5h1.0v1.0h-1.0zM80.6 212.5h1.0v1.0h-1.0zM86.7 215.2h1.0v1.0h-1.0zM74.3 217.1h1.0v1.0h-1.0zM77.4 212.7h1.0v1.0h-1.0zM76.5 221.3h1.0v1.0h-1.0zM77.0 207.5h1.0v1.0h-1.0zM74.4 220.6h1.0v1.0h-1.0zM77.4 214.1h1.0v1.0h-1.0zM69.7 220.0h1.0v1.0h-1.0zM79.6 216.5h1.0v1.0h-1.0zM85.8 217.4h1.0v1.0h-1.0zM75.4 213.5h1.0v1.0h-1.0zM81.0 209.3h1.0v1.0h-1.0zM86.4 215.7h1.0v1.0h-1.0zM85.9 214.6h1.0v1.0h-1.0zM80.5 212.2h1.0v1.0h-1.0zM82.3 215.5h1.0v1.0h-1.0zM84.8 218.9h1.0v1.0h-1.0zM82.3 211.7h1.0v1.0h-1.0zM85.9 220.9h1.0v1.0h-1.0zM73.9 218.8h1.0v1.0h-1.0zM84.0 216.5h1.0v1.0h-1.0zM83.7 213.5h1.0v1.0h-1.0zM79.3 223.5h1.0v1.0h-1.0zM75.1 213.9h1.0v1.0h-1.0zM68.4 220.1h1.0v1.0h-1.0zM79.6 212.5h1.0v1.0h-1.0zM77.0 219.1h1.0v1.0h-1.0zM79.7 220.8h1.0v1.0h-1.0zM84.2 213.6h1.0v1.0h-1.0zM84.0 210.3h1.0v1.0h-1.0zM85.8 220.7h1.0v1.0h-1.0zM77.4 218.5h1.0v1.0h-1.0zM67.9 223.2h1.0v1.0h-1.0zM86.4 208.1h1.0v1.0h-1.0zM67.4 212.0h1.0v1.0h-1.0zM86.4 211.8h1.0v1.0h-1.0zM79.3 220.0h1.0v1.0h-1.0zM75.1 219.8h1.0v1.0h-1.0zM77.4 217.5h1.0v1.0h-1.0zM82.4 225.2h1.0v1.0h-1.0zM71.0 221.5h1.0v1.0h-1.0zM80.6 226.1h1.0v1.0h-1.0zM78.3 207.1h1.0v1.0h-1.0zM82.2 210.8h1.0v1.0h-1.0zM75.9 212.1h1.0v1.0h-1.0zM82.1 212.1h1.0v1.0h-1.0zM73.4 215.8h1.0v1.0h-1.0zM83.0 209.9h1.0v1.0h-1.0zM83.0 212.2h1.0v1.0h-1.0zM75.2 209.8h1.0v1.0h-1.0zM72.1 215.7h1.0v1.0h-1.0zM73.0 224.5h1.0v1.0h-1.0zM83.0 204.1h1.0v1.0h-1.0zM81.5 219.0h1.0v1.0h-1.0zM80.0 217.3h1.0v1.0h-1.0zM79.2 216.3h1.0v1.0h-1.0zM81.6 211.1h1.0v1.0h-1.0zM82.5 215.1h1.0v1.0h-1.0zM79.7 211.7h1.0v1.0h-1.0zM72.6 218.4h1.0v1.0h-1.0zM76.1 222.8h1.0v1.0h-1.0zM86.7 209.6h1.0v1.0h-1.0zM74.2 226.2h1.0v1.0h-1.0zM76.8 214.9h1.0v1.0h-1.0zM68.0 213.6h1.0v1.0h-1.0zM71.4 216.8h1.0v1.0h-1.0zM66.6 224.1h1.0v1.0h-1.0zM77.4 212.8h1.0v1.0h-1.0zM75.4 220.0h1.0v1.0h-1.0zM69.1 221.5h1.0v1.0h-1.0zM77.0 216.8h1.0v1.0h-1.0zM66.3 217.6h1.0v1.0h-1.0zM81.7 209.9h1.0v1.0h-1.0zM82.1 222.6h1.0v1.0h-1.0zM81.7 211.1h1.0v1.0h-1.0zM73.3 219.0h1.0v1.0h-1.0zM81.9 218.5h1.0v1.0h-1.0zM74.2 223.9h1.0v1.0h-1.0zM83.6 219.8h1.0v1.0h-1.0zM68.9 218.3h1.0v1.0h-1.0zM81.3 211.5h1.0v1.0h-1.0zM80.9 204.6h1.0v1.0h-1.0zM69.0 227.0h1.0v1.0h-1.0z" fill="#cc2020" opacity="0.72"/>
<path d="M76.5 228.1h1.0v1.0h-1.0zM58.9 223.5h1.0v1.0h-1.0zM57.5 222.1h1.0v1.0h-1.0zM71.9 223.4h1.0v1.0h-1.0zM66.2 211.6h1.0v1.0h-1.0zM66.4 231.0h1.0v1.0h-1.0zM75.6 233.9h1.0v1.0h-1.0zM67.6 230.7h1.0v1.0h-1.0zM72.5 226.4h1.0v1.0h-1.0zM83.3 227.2h1.0v1.0h-1.0zM73.3 209.5h1.0v1.0h-1.0zM76.5 233.7h1.0v1.0h-1.0zM71.1 224.7h1.0v1.0h-1.0zM62.2 211.3h1.0v1.0h-1.0zM73.6 209.4h1.0v1.0h-1.0zM73.0 210.4h1.0v1.0h-1.0zM78.3 224.8h1.0v1.0h-1.0zM84.1 223.3h1.0v1.0h-1.0zM78.6 228.3h1.0v1.0h-1.0zM79.5 212.1h1.0v1.0h-1.0zM81.6 235.3h1.0v1.0h-1.0zM58.1 197.3h1.0v1.0h-1.0zM76.2 232.6h1.0v1.0h-1.0zM80.4 235.2h1.0v1.0h-1.0zM71.0 219.7h1.0v1.0h-1.0zM79.0 232.3h1.0v1.0h-1.0zM80.5 229.9h1.0v1.0h-1.0zM72.2 236.3h1.0v1.0h-1.0zM79.7 236.9h1.0v1.0h-1.0zM56.0 233.4h1.0v1.0h-1.0zM56.8 225.7h1.0v1.0h-1.0zM70.8 226.5h1.0v1.0h-1.0zM72.3 222.5h1.0v1.0h-1.0zM77.5 229.6h1.0v1.0h-1.0zM69.7 200.4h1.0v1.0h-1.0zM69.9 230.5h1.0v1.0h-1.0zM69.4 229.4h1.0v1.0h-1.0zM73.1 216.4h1.0v1.0h-1.0zM75.2 225.4h1.0v1.0h-1.0zM83.6 213.9h1.0v1.0h-1.0zM69.1 236.3h1.0v1.0h-1.0zM83.1 222.0h1.0v1.0h-1.0zM69.9 228.7h1.0v1.0h-1.0zM64.9 219.7h1.0v1.0h-1.0zM74.2 201.6h1.0v1.0h-1.0zM80.7 234.1h1.0v1.0h-1.0zM84.4 212.9h1.0v1.0h-1.0zM65.8 216.7h1.0v1.0h-1.0zM68.3 221.9h1.0v1.0h-1.0zM77.6 230.7h1.0v1.0h-1.0z" fill="#e8a0b0" opacity="0.5"/>
<path d="M120.4 197.9h1.0v1.0h-1.0zM114.7 213.6h1.0v1.0h-1.0zM94.4 218.5h1.0v1.0h-1.0zM92.1 236.2h1.0v1.0h-1.0zM98.8 227.5h1.0v1.0h-1.0zM118.9 203.7h1.0v1.0h-1.0zM97.1 217.7h1.0v1.0h-1.0zM95.6 227.0h1.0v1.0h-1.0zM107.7 204.7h1.0v1.0h-1.0zM99.2 224.1h1.0v1.0h-1.0zM91.6 237.2h1.0v1.0h-1.0zM98.2 213.6h1.0v1.0h-1.0zM96.8 235.2h1.0v1.0h-1.0zM114.2 227.2h1.0v1.0h-1.0zM112.5 213.5h1.0v1.0h-1.0zM122.8 217.7h1.0v1.0h-1.0zM110.3 219.7h1.0v1.0h-1.0zM113.3 215.5h1.0v1.0h-1.0zM104.3 195.7h1.0v1.0h-1.0zM126.5 193.9h1.0v1.0h-1.0zM125.3 223.7h1.0v1.0h-1.0zM100.0 218.5h1.0v1.0h-1.0zM105.8 190.8h1.0v1.0h-1.0zM102.7 218.2h1.0v1.0h-1.0zM117.7 197.1h1.0v1.0h-1.0zM109.3 214.2h1.0v1.0h-1.0zM107.5 215.4h1.0v1.0h-1.0zM102.3 198.9h1.0v1.0h-1.0zM110.5 217.4h1.0v1.0h-1.0zM111.8 227.2h1.0v1.0h-1.0zM96.9 220.9h1.0v1.0h-1.0zM105.8 222.6h1.0v1.0h-1.0zM104.3 207.4h1.0v1.0h-1.0zM108.5 219.5h1.0v1.0h-1.0zM96.3 231.8h1.0v1.0h-1.0zM117.5 216.5h1.0v1.0h-1.0zM104.9 211.5h1.0v1.0h-1.0zM89.6 225.7h1.0v1.0h-1.0zM96.3 210.4h1.0v1.0h-1.0zM116.0 200.8h1.0v1.0h-1.0zM100.8 225.3h1.0v1.0h-1.0zM124.6 201.4h1.0v1.0h-1.0zM117.0 203.7h1.0v1.0h-1.0zM109.9 218.8h1.0v1.0h-1.0zM94.6 228.8h1.0v1.0h-1.0zM124.0 210.3h1.0v1.0h-1.0zM108.7 199.6h1.0v1.0h-1.0zM123.9 210.5h1.0v1.0h-1.0zM93.2 226.1h1.0v1.0h-1.0zM91.4 209.4h1.0v1.0h-1.0z" fill="#f5a070" opacity="0.5"/>
<path d="M125.8 201.7h1.0v1.0h-1.0zM101.4 211.2h1.0v1.0h-1.0zM102.2 220.5h1.0v1.0h-1.0zM119.4 200.9h1.0v1.0h-1.0zM110.7 197.4h1.0v1.0h-1.0zM120.0 208.5h1.0v1.0h-1.0zM101.0 229.1h1.0v1.0h-1.0zM106.1 225.9h1.0v1.0h-1.0zM116.1 224.6h1.0v1.0h-1.0zM100.2 217.0h1.0v1.0h-1.0zM110.1 211.2h1.0v1.0h-1.0zM119.9 203.2h1.0v1.0h-1.0zM115.5 222.3h1.0v1.0h-1.0zM90.4 212.0h1.0v1.0h-1.0zM99.3 212.2h1.0v1.0h-1.0zM110.3 211.3h1.0v1.0h-1.0zM107.7 209.9h1.0v1.0h-1.0zM106.3 218.3h1.0v1.0h-1.0zM113.3 205.1h1.0v1.0h-1.0zM106.0 207.9h1.0v1.0h-1.0zM105.5 202.5h1.0v1.0h-1.0zM115.1 216.7h1.0v1.0h-1.0zM106.0 208.6h1.0v1.0h-1.0zM103.1 209.8h1.0v1.0h-1.0zM93.9 232.6h1.0v1.0h-1.0zM97.1 222.6h1.0v1.0h-1.0zM112.1 198.8h1.0v1.0h-1.0zM90.7 224.6h1.0v1.0h-1.0zM102.8 216.3h1.0v1.0h-1.0zM107.0 209.3h1.0v1.0h-1.0zM105.8 211.9h1.0v1.0h-1.0zM117.6 209.3h1.0v1.0h-1.0zM106.7 209.6h1.0v1.0h-1.0zM101.6 209.8h1.0v1.0h-1.0zM107.1 229.5h1.0v1.0h-1.0zM116.5 212.5h1.0v1.0h-1.0zM121.2 217.3h1.0v1.0h-1.0zM108.8 212.0h1.0v1.0h-1.0zM97.7 219.6h1.0v1.0h-1.0zM104.3 201.6h1.0v1.0h-1.0zM108.8 217.5h1.0v1.0h-1.0zM108.7 209.5h1.0v1.0h-1.0zM110.9 221.7h1.0v1.0h-1.0zM104.4 219.3h1.0v1.0h-1.0zM115.7 206.7h1.0v1.0h-1.0zM108.4 207.2h1.0v1.0h-1.0zM112.1 209.0h1.0v1.0h-1.0zM116.7 203.9h1.0v1.0h-1.0zM121.4 206.1h1.0v1.0h-1.0zM99.9 209.0h1.0v1.0h-1.0zM112.6 204.7h1.0v1.0h-1.0zM122.3 219.1h1.0v1.0h-1.0zM111.4 200.4h1.0v1.0h-1.0zM106.8 208.0h1.0v1.0h-1.0zM91.6 223.3h1.0v1.0h-1.0zM125.7 202.5h1.0v1.0h-1.0zM113.9 222.3h1.0v1.0h-1.0zM98.8 214.2h1.0v1.0h-1.0zM109.3 217.1h1.0v1.0h-1.0zM97.3 219.4h1.0v1.0h-1.0zM106.1 222.4h1.0v1.0h-1.0zM93.4 214.3h1.0v1.0h-1.0zM102.7 212.9h1.0v1.0h-1.0zM113.1 206.4h1.0v1.0h-1.0zM114.1 220.0h1.0v1.0h-1.0zM115.2 209.2h1.0v1.0h-1.0zM99.9 214.5h1.0v1.0h-1.0zM112.7 212.9h1.0v1.0h-1.0zM111.9 217.0h1.0v1.0h-1.0zM99.5 208.9h1.0v1.0h-1.0zM119.3 205.4h1.0v1.0h-1.0zM99.9 208.8h1.0v1.0h-1.0zM115.2 201.4h1.0v1.0h-1.0zM99.6 225.6h1.0v1.0h-1.0zM108.1 214.1h1.0v1.0h-1.0zM101.5 214.1h1.0v1.0h-1.0zM102.7 215.4h1.0v1.0h-1.0zM113.6 200.9h1.0v1.0h-1.0zM99.2 199.2h1.0v1.0h-1.0zM119.8 208.6h1.0v1.0h-1.0zM106.9 213.6h1.0v1.0h-1.0zM115.5 213.5h1.0v1.0h-1.0zM114.2 209.9h1.0v1.0h-1.0zM106.0 213.9h1.0v1.0h-1.0zM91.2 229.1h1.0v1.0h-1.0zM93.6 210.6h1.0v1.0h-1.0zM112.7 212.4h1.0v1.0h-1.0zM113.9 225.8h1.0v1.0h-1.0zM105.1 232.0h1.0v1.0h-1.0zM99.5 216.0h1.0v1.0h-1.0zM115.5 209.1h1.0v1.0h-1.0zM106.0 211.4h1.0v1.0h-1.0zM117.8 218.9h1.0v1.0h-1.0zM106.4 219.0h1.0v1.0h-1.0zM98.8 226.4h1.0v1.0h-1.0zM118.9 209.1h1.0v1.0h-1.0zM104.1 211.0h1.0v1.0h-1.0zM105.4 204.0h1.0v1.0h-1.0zM95.5 232.3h1.0v1.0h-1.0zM106.9 218.7h1.0v1.0h-1.0zM109.6 217.0h1.0v1.0h-1.0zM94.0 210.8h1.0v1.0h-1.0zM112.4 220.4h1.0v1.0h-1.0zM97.3 212.7h1.0v1.0h-1.0zM97.9 222.9h1.0v1.0h-1.0zM109.9 213.2h1.0v1.0h-1.0zM101.5 218.9h1.0v1.0h-1.0zM107.3 207.6h1.0v1.0h-1.0zM109.8 207.3h1.0v1.0h-1.0zM115.1 216.3h1.0v1.0h-1.0zM101.2 221.1h1.0v1.0h-1.0zM107.6 207.8h1.0v1.0h-1.0zM99.2 202.9h1.0v1.0h-1.0zM97.4 220.5h1.0v1.0h-1.0zM117.3 204.9h1.0v1.0h-1.0zM108.4 216.4h1.0v1.0h-1.0zM113.6 215.3h1.0v1.0h-1.0zM117.4 216.6h1.0v1.0h-1.0zM100.5 219.7h1.0v1.0h-1.0zM107.2 218.8h1.0v1.0h-1.0zM104.4 222.0h1.0v1.0h-1.0zM118.2 202.8h1.0v1.0h-1.0zM102.4 217.9h1.0v1.0h-1.0zM111.2 213.7h1.0v1.0h-1.0zM114.1 201.4h1.0v1.0h-1.0zM113.6 221.4h1.0v1.0h-1.0zM116.4 214.1h1.0v1.0h-1.0zM105.0 218.1h1.0v1.0h-1.0zM106.4 200.9h1.0v1.0h-1.0zM101.9 215.6h1.0v1.0h-1.0zM102.6 207.8h1.0v1.0h-1.0zM105.0 211.6h1.0v1.0h-1.0zM107.6 213.4h1.0v1.0h-1.0zM108.5 221.8h1.0v1.0h-1.0zM108.2 217.0h1.0v1.0h-1.0zM103.6 221.0h1.0v1.0h-1.0zM104.1 209.8h1.0v1.0h-1.0zM96.5 225.4h1.0v1.0h-1.0zM102.5 217.7h1.0v1.0h-1.0zM116.6 215.0h1.0v1.0h-1.0zM126.1 205.8h1.0v1.0h-1.0zM115.1 216.8h1.0v1.0h-1.0zM101.4 216.5h1.0v1.0h-1.0zM102.2 207.1h1.0v1.0h-1.0zM109.5 206.5h1.0v1.0h-1.0zM121.3 202.5h1.0v1.0h-1.0zM102.4 216.5h1.0v1.0h-1.0zM102.6 216.1h1.0v1.0h-1.0zM101.8 203.9h1.0v1.0h-1.0zM119.9 213.0h1.0v1.0h-1.0zM108.3 209.6h1.0v1.0h-1.0zM105.8 217.0h1.0v1.0h-1.0zM95.2 211.6h1.0v1.0h-1.0zM99.4 227.4h1.0v1.0h-1.0zM98.0 227.2h1.0v1.0h-1.0zM106.3 214.5h1.0v1.0h-1.0zM118.5 217.1h1.0v1.0h-1.0zM115.0 202.0h1.0v1.0h-1.0zM116.7 224.6h1.0v1.0h-1.0zM106.1 210.2h1.0v1.0h-1.0zM97.7 226.0h1.0v1.0h-1.0zM109.5 213.1h1.0v1.0h-1.0zM96.5 231.6h1.0v1.0h-1.0zM114.4 211.1h1.0v1.0h-1.0zM119.5 201.3h1.0v1.0h-1.0zM114.5 202.8h1.0v1.0h-1.0zM119.0 207.2h1.0v1.0h-1.0zM117.4 206.6h1.0v1.0h-1.0zM110.4 222.4h1.0v1.0h-1.0zM99.3 217.7h1.0v1.0h-1.0zM99.9 223.8h1.0v1.0h-1.0zM101.9 212.8h1.0v1.0h-1.0zM105.3 224.5h1.0v1.0h-1.0zM98.1 217.1h1.0v1.0h-1.0zM104.2 210.4h1.0v1.0h-1.0zM100.3 215.1h1.0v1.0h-1.0zM108.7 200.3h1.0v1.0h-1.0zM109.0 203.3h1.0v1.0h-1.0zM107.1 233.2h1.0v1.0h-1.0zM98.8 216.5h1.0v1.0h-1.0zM104.8 223.1h1.0v1.0h-1.0zM103.0 200.4h1.0v1.0h-1.0zM93.3 220.6h1.0v1.0h-1.0zM109.2 222.2h1.0v1.0h-1.0zM102.4 221.3h1.0v1.0h-1.0zM98.0 228.3h1.0v1.0h-1.0zM106.4 208.5h1.0v1.0h-1.0zM108.5 228.1h1.0v1.0h-1.0zM99.8 206.2h1.0v1.0h-1.0zM98.4 207.5h1.0v1.0h-1.0zM106.6 217.1h1.0v1.0h-1.0zM105.6 216.2h1.0v1.0h-1.0zM117.1 207.8h1.0v1.0h-1.0zM109.1 207.5h1.0v1.0h-1.0zM104.9 218.2h1.0v1.0h-1.0zM110.9 199.3h1.0v1.0h-1.0zM98.9 217.6h1.0v1.0h-1.0zM105.8 224.1h1.0v1.0h-1.0zM102.7 198.2h1.0v1.0h-1.0zM116.9 196.5h1.0v1.0h-1.0zM98.8 220.3h1.0v1.0h-1.0zM109.0 217.8h1.0v1.0h-1.0zM103.3 234.1h1.0v1.0h-1.0zM111.6 206.3h1.0v1.0h-1.0zM117.7 195.8h1.0v1.0h-1.0zM102.0 218.3h1.0v1.0h-1.0zM108.2 205.5h1.0v1.0h-1.0zM120.4 221.4h1.0v1.0h-1.0zM99.1 220.1h1.0v1.0h-1.0zM101.6 212.4h1.0v1.0h-1.0zM115.4 212.0h1.0v1.0h-1.0zM106.1 215.2h1.0v1.0h-1.0zM97.0 228.0h1.0v1.0h-1.0zM100.6 227.4h1.0v1.0h-1.0zM103.1 211.6h1.0v1.0h-1.0zM119.6 210.9h1.0v1.0h-1.0zM101.6 211.5h1.0v1.0h-1.0zM112.1 227.9h1.0v1.0h-1.0zM112.2 208.7h1.0v1.0h-1.0zM97.5 211.9h1.0v1.0h-1.0zM106.0 216.4h1.0v1.0h-1.0zM101.4 226.9h1.0v1.0h-1.0zM98.9 211.0h1.0v1.0h-1.0zM111.2 216.5h1.0v1.0h-1.0zM103.7 223.3h1.0v1.0h-1.0zM95.0 232.2h1.0v1.0h-1.0zM108.0 230.2h1.0v1.0h-1.0zM107.5 225.0h1.0v1.0h-1.0zM105.3 216.3h1.0v1.0h-1.0zM111.5 197.6h1.0v1.0h-1.0zM105.2 229.1h1.0v1.0h-1.0zM114.8 213.9h1.0v1.0h-1.0zM108.7 225.1h1.0v1.0h-1.0zM109.9 197.0h1.0v1.0h-1.0zM99.0 214.5h1.0v1.0h-1.0zM108.2 209.8h1.0v1.0h-1.0zM106.1 228.4h1.0v1.0h-1.0zM115.0 216.1h1.0v1.0h-1.0zM107.1 214.5h1.0v1.0h-1.0zM110.1 214.9h1.0v1.0h-1.0zM100.9 222.9h1.0v1.0h-1.0zM100.0 216.3h1.0v1.0h-1.0zM104.0 205.4h1.0v1.0h-1.0zM112.1 211.5h1.0v1.0h-1.0zM97.1 217.0h1.0v1.0h-1.0zM95.3 230.4h1.0v1.0h-1.0zM111.4 229.1h1.0v1.0h-1.0zM102.2 221.7h1.0v1.0h-1.0zM98.8 209.9h1.0v1.0h-1.0zM106.2 217.7h1.0v1.0h-1.0zM114.8 208.8h1.0v1.0h-1.0zM116.4 218.6h1.0v1.0h-1.0zM99.6 215.2h1.0v1.0h-1.0zM99.2 231.2h1.0v1.0h-1.0zM102.3 223.2h1.0v1.0h-1.0zM114.7 209.0h1.0v1.0h-1.0zM102.9 218.4h1.0v1.0h-1.0zM100.4 205.8h1.0v1.0h-1.0zM98.8 219.9h1.0v1.0h-1.0zM108.6 228.2h1.0v1.0h-1.0zM91.5 224.0h1.0v1.0h-1.0zM97.2 227.3h1.0v1.0h-1.0zM112.9 212.9h1.0v1.0h-1.0zM119.5 206.2h1.0v1.0h-1.0zM102.5 206.8h1.0v1.0h-1.0zM101.4 217.0h1.0v1.0h-1.0zM112.7 222.6h1.0v1.0h-1.0zM104.7 208.7h1.0v1.0h-1.0zM104.2 211.5h1.0v1.0h-1.0zM103.0 212.1h1.0v1.0h-1.0zM99.6 216.3h1.0v1.0h-1.0zM102.7 214.2h1.0v1.0h-1.0zM95.3 219.6h1.0v1.0h-1.0zM111.8 217.6h1.0v1.0h-1.0zM102.4 206.2h1.0v1.0h-1.0zM96.0 208.3h1.0v1.0h-1.0zM101.6 213.4h1.0v1.0h-1.0zM92.0 225.2h1.0v1.0h-1.0zM94.0 213.1h1.0v1.0h-1.0zM100.9 223.2h1.0v1.0h-1.0zM122.5 205.3h1.0v1.0h-1.0zM104.7 211.6h1.0v1.0h-1.0zM105.3 213.2h1.0v1.0h-1.0zM106.1 207.8h1.0v1.0h-1.0zM110.0 208.5h1.0v1.0h-1.0zM111.8 203.2h1.0v1.0h-1.0zM124.8 209.2h1.0v1.0h-1.0zM92.1 225.4h1.0v1.0h-1.0zM103.0 205.8h1.0v1.0h-1.0zM110.7 208.3h1.0v1.0h-1.0zM113.2 207.1h1.0v1.0h-1.0zM114.6 212.4h1.0v1.0h-1.0zM110.0 214.2h1.0v1.0h-1.0zM103.9 212.1h1.0v1.0h-1.0zM110.8 218.5h1.0v1.0h-1.0zM103.6 233.9h1.0v1.0h-1.0zM121.2 199.2h1.0v1.0h-1.0zM116.1 210.0h1.0v1.0h-1.0zM109.0 206.7h1.0v1.0h-1.0zM120.9 202.0h1.0v1.0h-1.0zM106.3 208.2h1.0v1.0h-1.0zM123.2 218.4h1.0v1.0h-1.0zM95.9 214.4h1.0v1.0h-1.0zM110.1 209.3h1.0v1.0h-1.0zM104.0 206.2h1.0v1.0h-1.0zM109.1 204.2h1.0v1.0h-1.0zM104.3 228.7h1.0v1.0h-1.0zM110.1 207.3h1.0v1.0h-1.0zM104.1 207.1h1.0v1.0h-1.0zM108.0 219.5h1.0v1.0h-1.0zM114.8 208.8h1.0v1.0h-1.0zM97.0 217.1h1.0v1.0h-1.0zM121.0 211.1h1.0v1.0h-1.0zM106.5 197.0h1.0v1.0h-1.0zM103.4 219.9h1.0v1.0h-1.0zM99.1 228.1h1.0v1.0h-1.0zM102.3 208.5h1.0v1.0h-1.0zM102.1 215.0h1.0v1.0h-1.0zM115.4 206.2h1.0v1.0h-1.0zM92.1 218.9h1.0v1.0h-1.0zM111.4 225.2h1.0v1.0h-1.0zM97.6 229.8h1.0v1.0h-1.0zM112.7 215.7h1.0v1.0h-1.0zM100.6 209.1h1.0v1.0h-1.0zM99.0 224.7h1.0v1.0h-1.0zM108.8 222.2h1.0v1.0h-1.0zM122.2 208.5h1.0v1.0h-1.0zM106.6 230.0h1.0v1.0h-1.0zM96.1 214.4h1.0v1.0h-1.0zM103.9 212.0h1.0v1.0h-1.0zM108.2 206.6h1.0v1.0h-1.0zM116.7 199.2h1.0v1.0h-1.0zM100.2 202.6h1.0v1.0h-1.0zM95.3 223.2h1.0v1.0h-1.0zM112.3 210.5h1.0v1.0h-1.0zM114.1 216.5h1.0v1.0h-1.0zM102.2 215.5h1.0v1.0h-1.0zM110.1 229.5h1.0v1.0h-1.0zM103.3 218.5h1.0v1.0h-1.0zM111.6 222.4h1.0v1.0h-1.0zM110.6 221.6h1.0v1.0h-1.0zM98.1 215.2h1.0v1.0h-1.0zM90.8 219.6h1.0v1.0h-1.0zM107.7 216.0h1.0v1.0h-1.0zM108.2 202.7h1.0v1.0h-1.0zM101.2 214.8h1.0v1.0h-1.0zM108.4 206.4h1.0v1.0h-1.0zM106.1 208.3h1.0v1.0h-1.0zM96.0 212.7h1.0v1.0h-1.0zM100.3 223.5h1.0v1.0h-1.0zM118.2 214.7h1.0v1.0h-1.0zM105.2 210.1h1.0v1.0h-1.0zM93.9 214.6h1.0v1.0h-1.0zM120.1 218.7h1.0v1.0h-1.0zM108.9 211.3h1.0v1.0h-1.0zM107.0 217.5h1.0v1.0h-1.0zM106.9 217.6h1.0v1.0h-1.0zM100.6 216.8h1.0v1.0h-1.0zM104.1 224.0h1.0v1.0h-1.0zM96.6 228.6h1.0v1.0h-1.0zM106.3 210.2h1.0v1.0h-1.0zM107.2 215.0h1.0v1.0h-1.0zM105.1 218.3h1.0v1.0h-1.0zM102.2 201.9h1.0v1.0h-1.0zM112.8 211.7h1.0v1.0h-1.0zM120.9 212.1h1.0v1.0h-1.0zM101.3 220.7h1.0v1.0h-1.0zM97.9 216.7h1.0v1.0h-1.0zM93.6 224.5h1.0v1.0h-1.0zM111.7 203.9h1.0v1.0h-1.0zM110.8 220.3h1.0v1.0h-1.0zM113.7 206.1h1.0v1.0h-1.0zM101.2 207.0h1.0v1.0h-1.0zM96.2 220.7h1.0v1.0h-1.0zM107.3 224.6h1.0v1.0h-1.0zM109.3 210.6h1.0v1.0h-1.0zM95.1 231.2h1.0v1.0h-1.0zM108.4 213.3h1.0v1.0h-1.0zM98.6 208.6h1.0v1.0h-1.0zM112.3 204.1h1.0v1.0h-1.0zM111.9 217.4h1.0v1.0h-1.0zM103.8 201.9h1.0v1.0h-1.0zM110.4 224.3h1.0v1.0h-1.0zM100.1 206.3h1.0v1.0h-1.0zM116.1 211.9h1.0v1.0h-1.0zM101.8 226.1h1.0v1.0h-1.0zM104.7 218.6h1.0v1.0h-1.0zM103.6 209.2h1.0v1.0h-1.0zM108.8 206.4h1.0v1.0h-1.0zM92.2 215.1h1.0v1.0h-1.0zM117.3 219.3h1.0v1.0h-1.0zM120.5 211.1h1.0v1.0h-1.0zM103.4 219.2h1.0v1.0h-1.0zM99.1 223.0h1.0v1.0h-1.0zM103.3 217.6h1.0v1.0h-1.0zM99.9 215.6h1.0v1.0h-1.0zM115.2 209.3h1.0v1.0h-1.0zM101.4 218.5h1.0v1.0h-1.0zM114.3 209.8h1.0v1.0h-1.0zM97.3 204.9h1.0v1.0h-1.0zM95.8 226.9h1.0v1.0h-1.0zM106.3 218.3h1.0v1.0h-1.0zM116.0 213.1h1.0v1.0h-1.0zM111.0 208.5h1.0v1.0h-1.0zM93.6 224.2h1.0v1.0h-1.0zM106.2 219.1h1.0v1.0h-1.0zM98.1 216.2h1.0v1.0h-1.0zM123.8 201.0h1.0v1.0h-1.0zM107.8 224.5h1.0v1.0h-1.0zM105.1 215.8h1.0v1.0h-1.0zM89.2 227.0h1.0v1.0h-1.0zM103.3 226.0h1.0v1.0h-1.0zM106.2 211.3h1.0v1.0h-1.0zM110.6 210.8h1.0v1.0h-1.0zM102.7 228.3h1.0v1.0h-1.0zM115.2 212.0h1.0v1.0h-1.0zM113.7 218.3h1.0v1.0h-1.0zM111.8 212.7h1.0v1.0h-1.0zM107.6 217.2h1.0v1.0h-1.0zM111.7 215.2h1.0v1.0h-1.0zM102.4 215.2h1.0v1.0h-1.0zM110.8 204.7h1.0v1.0h-1.0zM106.9 220.3h1.0v1.0h-1.0zM108.4 211.3h1.0v1.0h-1.0zM106.8 210.3h1.0v1.0h-1.0zM115.2 208.0h1.0v1.0h-1.0zM93.1 209.5h1.0v1.0h-1.0zM109.5 214.9h1.0v1.0h-1.0zM103.1 204.9h1.0v1.0h-1.0zM105.8 207.8h1.0v1.0h-1.0zM101.5 216.1h1.0v1.0h-1.0zM100.6 219.0h1.0v1.0h-1.0zM100.8 212.6h1.0v1.0h-1.0zM105.1 226.6h1.0v1.0h-1.0zM120.1 216.9h1.0v1.0h-1.0zM100.9 216.4h1.0v1.0h-1.0zM114.6 217.8h1.0v1.0h-1.0zM93.5 218.7h1.0v1.0h-1.0zM100.8 222.5h1.0v1.0h-1.0zM112.3 207.8h1.0v1.0h-1.0zM124.8 205.3h1.0v1.0h-1.0zM106.3 229.7h1.0v1.0h-1.0zM102.6 211.9h1.0v1.0h-1.0zM119.3 209.3h1.0v1.0h-1.0zM111.0 202.5h1.0v1.0h-1.0zM121.9 216.5h1.0v1.0h-1.0zM110.0 218.7h1.0v1.0h-1.0zM102.8 211.8h1.0v1.0h-1.0zM93.9 222.0h1.0v1.0h-1.0zM117.3 217.2h1.0v1.0h-1.0zM114.7 217.0h1.0v1.0h-1.0zM99.3 206.5h1.0v1.0h-1.0zM112.3 213.5h1.0v1.0h-1.0zM115.2 208.9h1.0v1.0h-1.0zM99.7 220.4h1.0v1.0h-1.0zM102.4 202.7h1.0v1.0h-1.0zM101.9 208.9h1.0v1.0h-1.0zM97.7 213.1h1.0v1.0h-1.0zM121.4 205.5h1.0v1.0h-1.0zM116.5 210.0h1.0v1.0h-1.0zM110.3 207.5h1.0v1.0h-1.0zM106.4 200.9h1.0v1.0h-1.0zM121.9 202.5h1.0v1.0h-1.0zM111.9 207.6h1.0v1.0h-1.0zM109.2 203.9h1.0v1.0h-1.0zM103.9 222.6h1.0v1.0h-1.0zM111.9 196.7h1.0v1.0h-1.0zM114.1 201.0h1.0v1.0h-1.0zM109.4 217.4h1.0v1.0h-1.0zM101.7 213.6h1.0v1.0h-1.0zM105.0 218.1h1.0v1.0h-1.0zM114.6 222.3h1.0v1.0h-1.0zM109.7 229.1h1.0v1.0h-1.0zM99.1 231.3h1.0v1.0h-1.0zM104.8 221.1h1.0v1.0h-1.0zM106.0 215.2h1.0v1.0h-1.0zM99.4 220.1h1.0v1.0h-1.0zM123.8 209.1h1.0v1.0h-1.0zM106.8 214.2h1.0v1.0h-1.0zM112.9 210.3h1.0v1.0h-1.0zM107.0 215.9h1.0v1.0h-1.0zM117.8 217.7h1.0v1.0h-1.0zM98.2 212.3h1.0v1.0h-1.0zM107.2 220.9h1.0v1.0h-1.0zM115.1 209.5h1.0v1.0h-1.0zM124.7 206.3h1.0v1.0h-1.0zM118.7 221.2h1.0v1.0h-1.0zM120.3 210.8h1.0v1.0h-1.0zM111.8 200.1h1.0v1.0h-1.0zM92.2 214.7h1.0v1.0h-1.0zM113.0 220.4h1.0v1.0h-1.0zM106.1 222.8h1.0v1.0h-1.0zM111.8 224.6h1.0v1.0h-1.0zM93.8 212.4h1.0v1.0h-1.0zM99.0 208.7h1.0v1.0h-1.0zM120.7 201.6h1.0v1.0h-1.0zM100.1 213.5h1.0v1.0h-1.0zM114.4 207.7h1.0v1.0h-1.0zM113.1 216.3h1.0v1.0h-1.0zM99.4 207.0h1.0v1.0h-1.0zM120.6 203.3h1.0v1.0h-1.0zM98.1 220.5h1.0v1.0h-1.0zM107.5 206.5h1.0v1.0h-1.0zM116.1 218.1h1.0v1.0h-1.0zM109.3 207.2h1.0v1.0h-1.0zM99.7 200.4h1.0v1.0h-1.0zM110.2 216.1h1.0v1.0h-1.0zM99.3 217.2h1.0v1.0h-1.0zM92.8 224.3h1.0v1.0h-1.0zM103.5 211.5h1.0v1.0h-1.0zM112.2 211.2h1.0v1.0h-1.0zM115.3 215.2h1.0v1.0h-1.0zM116.7 211.5h1.0v1.0h-1.0zM92.8 227.7h1.0v1.0h-1.0zM109.1 202.2h1.0v1.0h-1.0zM107.6 221.0h1.0v1.0h-1.0zM98.5 217.6h1.0v1.0h-1.0zM100.8 208.4h1.0v1.0h-1.0zM101.9 226.2h1.0v1.0h-1.0zM112.7 211.8h1.0v1.0h-1.0zM106.3 215.4h1.0v1.0h-1.0zM109.4 214.7h1.0v1.0h-1.0zM92.7 226.8h1.0v1.0h-1.0zM112.9 202.3h1.0v1.0h-1.0zM105.8 213.8h1.0v1.0h-1.0zM102.1 220.2h1.0v1.0h-1.0zM104.7 212.7h1.0v1.0h-1.0zM99.0 214.8h1.0v1.0h-1.0zM98.4 217.6h1.0v1.0h-1.0zM118.0 218.1h1.0v1.0h-1.0zM110.6 201.9h1.0v1.0h-1.0zM115.6 218.4h1.0v1.0h-1.0zM107.1 211.4h1.0v1.0h-1.0zM116.1 202.0h1.0v1.0h-1.0zM103.8 233.9h1.0v1.0h-1.0zM115.3 195.0h1.0v1.0h-1.0zM107.2 225.0h1.0v1.0h-1.0zM101.8 220.8h1.0v1.0h-1.0zM107.8 202.0h1.0v1.0h-1.0zM101.8 225.1h1.0v1.0h-1.0zM116.9 205.6h1.0v1.0h-1.0zM116.4 204.9h1.0v1.0h-1.0zM109.1 213.1h1.0v1.0h-1.0zM96.6 220.5h1.0v1.0h-1.0zM100.1 209.8h1.0v1.0h-1.0zM100.0 208.8h1.0v1.0h-1.0zM114.4 211.9h1.0v1.0h-1.0zM109.1 211.1h1.0v1.0h-1.0zM107.5 211.8h1.0v1.0h-1.0zM97.9 205.2h1.0v1.0h-1.0zM107.6 222.0h1.0v1.0h-1.0zM109.0 226.3h1.0v1.0h-1.0zM95.6 216.2h1.0v1.0h-1.0zM101.8 225.9h1.0v1.0h-1.0zM121.2 204.6h1.0v1.0h-1.0zM113.1 209.8h1.0v1.0h-1.0zM98.7 216.3h1.0v1.0h-1.0zM98.3 229.7h1.0v1.0h-1.0zM111.9 221.8h1.0v1.0h-1.0zM113.7 212.3h1.0v1.0h-1.0zM115.5 224.7h1.0v1.0h-1.0zM98.4 223.6h1.0v1.0h-1.0zM109.8 211.6h1.0v1.0h-1.0zM104.6 219.2h1.0v1.0h-1.0zM111.8 217.6h1.0v1.0h-1.0zM103.6 204.7h1.0v1.0h-1.0zM118.0 220.4h1.0v1.0h-1.0zM102.3 215.5h1.0v1.0h-1.0zM113.8 197.4h1.0v1.0h-1.0zM109.3 207.5h1.0v1.0h-1.0zM124.1 207.8h1.0v1.0h-1.0zM108.8 210.0h1.0v1.0h-1.0zM108.5 199.0h1.0v1.0h-1.0zM96.3 206.1h1.0v1.0h-1.0zM114.5 210.5h1.0v1.0h-1.0zM116.6 194.0h1.0v1.0h-1.0zM102.0 227.6h1.0v1.0h-1.0zM100.4 201.4h1.0v1.0h-1.0zM100.8 213.5h1.0v1.0h-1.0zM106.9 224.6h1.0v1.0h-1.0zM118.1 222.4h1.0v1.0h-1.0zM111.9 208.2h1.0v1.0h-1.0zM102.9 203.6h1.0v1.0h-1.0zM117.6 220.2h1.0v1.0h-1.0zM107.7 206.6h1.0v1.0h-1.0zM112.6 215.9h1.0v1.0h-1.0zM108.3 204.2h1.0v1.0h-1.0zM109.0 208.7h1.0v1.0h-1.0zM113.2 216.6h1.0v1.0h-1.0zM110.7 209.2h1.0v1.0h-1.0zM119.7 215.6h1.0v1.0h-1.0zM117.6 216.9h1.0v1.0h-1.0zM112.5 215.1h1.0v1.0h-1.0zM98.1 202.6h1.0v1.0h-1.0zM99.2 221.9h1.0v1.0h-1.0zM114.6 212.7h1.0v1.0h-1.0zM107.7 228.6h1.0v1.0h-1.0zM103.7 200.8h1.0v1.0h-1.0zM94.1 216.2h1.0v1.0h-1.0zM112.8 217.8h1.0v1.0h-1.0zM105.2 221.3h1.0v1.0h-1.0zM106.6 208.3h1.0v1.0h-1.0zM103.8 221.3h1.0v1.0h-1.0zM115.0 202.0h1.0v1.0h-1.0zM98.8 218.1h1.0v1.0h-1.0zM96.6 221.3h1.0v1.0h-1.0zM111.2 207.5h1.0v1.0h-1.0zM106.8 218.0h1.0v1.0h-1.0zM92.5 219.2h1.0v1.0h-1.0zM112.0 219.6h1.0v1.0h-1.0zM116.7 209.8h1.0v1.0h-1.0zM95.0 229.3h1.0v1.0h-1.0zM113.4 206.5h1.0v1.0h-1.0zM115.6 219.2h1.0v1.0h-1.0zM105.8 195.4h1.0v1.0h-1.0zM103.1 209.3h1.0v1.0h-1.0zM100.0 215.9h1.0v1.0h-1.0zM98.0 220.5h1.0v1.0h-1.0zM122.7 198.6h1.0v1.0h-1.0zM115.7 206.5h1.0v1.0h-1.0zM111.5 211.3h1.0v1.0h-1.0zM117.7 204.3h1.0v1.0h-1.0zM113.1 205.5h1.0v1.0h-1.0zM108.9 213.2h1.0v1.0h-1.0zM116.1 197.9h1.0v1.0h-1.0zM95.8 229.4h1.0v1.0h-1.0zM110.2 226.5h1.0v1.0h-1.0zM98.4 218.9h1.0v1.0h-1.0zM112.0 226.4h1.0v1.0h-1.0zM106.6 210.5h1.0v1.0h-1.0zM113.0 211.0h1.0v1.0h-1.0zM100.8 222.5h1.0v1.0h-1.0zM91.2 211.7h1.0v1.0h-1.0zM118.3 205.8h1.0v1.0h-1.0zM104.3 218.0h1.0v1.0h-1.0zM116.3 214.8h1.0v1.0h-1.0zM99.0 212.4h1.0v1.0h-1.0zM115.7 209.8h1.0v1.0h-1.0zM101.8 223.0h1.0v1.0h-1.0zM98.1 211.6h1.0v1.0h-1.0zM101.2 219.0h1.0v1.0h-1.0zM103.0 224.5h1.0v1.0h-1.0zM101.7 213.8h1.0v1.0h-1.0zM111.7 213.9h1.0v1.0h-1.0zM98.6 229.3h1.0v1.0h-1.0zM111.8 208.3h1.0v1.0h-1.0zM108.7 204.4h1.0v1.0h-1.0zM96.8 215.4h1.0v1.0h-1.0zM110.0 213.7h1.0v1.0h-1.0zM100.6 205.2h1.0v1.0h-1.0zM93.1 232.1h1.0v1.0h-1.0zM110.1 206.4h1.0v1.0h-1.0zM116.9 214.7h1.0v1.0h-1.0zM103.6 210.3h1.0v1.0h-1.0zM116.5 213.1h1.0v1.0h-1.0zM120.6 211.9h1.0v1.0h-1.0zM102.2 211.0h1.0v1.0h-1.0zM101.2 218.2h1.0v1.0h-1.0zM109.1 218.1h1.0v1.0h-1.0zM110.7 204.1h1.0v1.0h-1.0zM105.3 207.0h1.0v1.0h-1.0zM111.0 201.9h1.0v1.0h-1.0zM102.2 208.8h1.0v1.0h-1.0zM101.9 213.8h1.0v1.0h-1.0zM119.5 207.3h1.0v1.0h-1.0zM95.1 216.0h1.0v1.0h-1.0zM113.2 216.2h1.0v1.0h-1.0zM109.0 229.4h1.0v1.0h-1.0zM116.2 211.3h1.0v1.0h-1.0zM117.1 199.4h1.0v1.0h-1.0zM105.6 207.5h1.0v1.0h-1.0zM108.5 226.5h1.0v1.0h-1.0zM102.9 228.4h1.0v1.0h-1.0zM98.6 228.7h1.0v1.0h-1.0zM93.0 212.3h1.0v1.0h-1.0zM115.3 210.2h1.0v1.0h-1.0zM108.2 213.5h1.0v1.0h-1.0zM108.5 212.0h1.0v1.0h-1.0zM98.9 214.7h1.0v1.0h-1.0zM107.9 206.4h1.0v1.0h-1.0zM110.9 226.8h1.0v1.0h-1.0zM93.4 214.6h1.0v1.0h-1.0zM104.7 215.0h1.0v1.0h-1.0zM107.8 207.8h1.0v1.0h-1.0zM106.7 214.2h1.0v1.0h-1.0zM106.3 226.7h1.0v1.0h-1.0zM108.1 201.7h1.0v1.0h-1.0zM94.1 223.6h1.0v1.0h-1.0zM104.2 210.0h1.0v1.0h-1.0zM95.8 215.7h1.0v1.0h-1.0zM106.2 208.7h1.0v1.0h-1.0zM104.1 222.2h1.0v1.0h-1.0zM113.5 216.0h1.0v1.0h-1.0zM105.6 203.6h1.0v1.0h-1.0zM113.4 223.7h1.0v1.0h-1.0zM117.5 219.5h1.0v1.0h-1.0zM109.3 216.2h1.0v1.0h-1.0zM106.9 224.2h1.0v1.0h-1.0zM104.8 232.2h1.0v1.0h-1.0zM113.4 209.0h1.0v1.0h-1.0zM107.0 201.0h1.0v1.0h-1.0zM101.0 213.8h1.0v1.0h-1.0zM114.6 211.8h1.0v1.0h-1.0zM104.6 220.0h1.0v1.0h-1.0zM90.5 227.7h1.0v1.0h-1.0zM123.0 210.5h1.0v1.0h-1.0zM106.5 215.5h1.0v1.0h-1.0zM112.5 208.0h1.0v1.0h-1.0zM108.0 217.7h1.0v1.0h-1.0zM104.1 218.2h1.0v1.0h-1.0zM109.8 218.8h1.0v1.0h-1.0zM98.9 212.7h1.0v1.0h-1.0zM103.5 225.0h1.0v1.0h-1.0zM109.1 199.9h1.0v1.0h-1.0zM96.5 233.6h1.0v1.0h-1.0zM109.8 202.5h1.0v1.0h-1.0zM99.5 217.9h1.0v1.0h-1.0zM118.8 222.7h1.0v1.0h-1.0zM104.0 212.7h1.0v1.0h-1.0zM122.8 200.2h1.0v1.0h-1.0zM119.9 212.0h1.0v1.0h-1.0zM107.8 224.1h1.0v1.0h-1.0zM111.0 205.8h1.0v1.0h-1.0zM94.4 218.8h1.0v1.0h-1.0zM111.2 223.5h1.0v1.0h-1.0zM112.1 224.4h1.0v1.0h-1.0zM113.6 213.3h1.0v1.0h-1.0zM110.6 215.9h1.0v1.0h-1.0zM101.8 215.0h1.0v1.0h-1.0zM108.1 210.0h1.0v1.0h-1.0zM94.9 206.8h1.0v1.0h-1.0zM111.2 216.7h1.0v1.0h-1.0zM107.9 204.2h1.0v1.0h-1.0zM114.0 208.2h1.0v1.0h-1.0zM111.4 208.8h1.0v1.0h-1.0zM119.2 220.5h1.0v1.0h-1.0zM109.1 199.3h1.0v1.0h-1.0zM103.9 212.9h1.0v1.0h-1.0zM110.8 211.6h1.0v1.0h-1.0zM109.9 199.7h1.0v1.0h-1.0zM101.7 227.6h1.0v1.0h-1.0zM95.0 225.9h1.0v1.0h-1.0zM95.5 228.3h1.0v1.0h-1.0zM91.7 222.4h1.0v1.0h-1.0zM103.6 225.3h1.0v1.0h-1.0zM116.7 211.9h1.0v1.0h-1.0zM121.8 216.5h1.0v1.0h-1.0zM103.1 207.5h1.0v1.0h-1.0zM110.4 211.8h1.0v1.0h-1.0zM103.1 202.4h1.0v1.0h-1.0zM105.8 213.5h1.0v1.0h-1.0zM115.1 206.8h1.0v1.0h-1.0zM94.1 210.1h1.0v1.0h-1.0zM106.7 216.1h1.0v1.0h-1.0zM113.0 208.7h1.0v1.0h-1.0zM111.5 213.5h1.0v1.0h-1.0zM120.9 208.4h1.0v1.0h-1.0zM108.2 218.2h1.0v1.0h-1.0zM117.1 202.8h1.0v1.0h-1.0zM103.1 213.2h1.0v1.0h-1.0zM115.9 210.9h1.0v1.0h-1.0zM114.5 199.7h1.0v1.0h-1.0zM119.6 212.7h1.0v1.0h-1.0zM97.1 218.1h1.0v1.0h-1.0zM113.2 219.7h1.0v1.0h-1.0zM108.4 209.2h1.0v1.0h-1.0zM113.3 205.5h1.0v1.0h-1.0zM106.4 220.4h1.0v1.0h-1.0zM95.1 221.4h1.0v1.0h-1.0zM90.8 212.5h1.0v1.0h-1.0zM96.8 217.0h1.0v1.0h-1.0zM112.9 211.4h1.0v1.0h-1.0zM114.5 212.0h1.0v1.0h-1.0zM105.3 218.6h1.0v1.0h-1.0zM105.0 215.8h1.0v1.0h-1.0zM115.6 206.2h1.0v1.0h-1.0zM116.5 201.5h1.0v1.0h-1.0zM105.2 200.6h1.0v1.0h-1.0zM102.6 228.5h1.0v1.0h-1.0zM109.9 223.2h1.0v1.0h-1.0zM94.9 210.3h1.0v1.0h-1.0zM110.9 219.3h1.0v1.0h-1.0zM113.9 197.8h1.0v1.0h-1.0zM111.2 211.8h1.0v1.0h-1.0zM108.0 217.5h1.0v1.0h-1.0zM104.7 201.1h1.0v1.0h-1.0zM98.2 205.5h1.0v1.0h-1.0zM96.1 216.9h1.0v1.0h-1.0zM117.8 204.2h1.0v1.0h-1.0zM100.7 207.0h1.0v1.0h-1.0zM92.7 219.8h1.0v1.0h-1.0zM103.0 213.5h1.0v1.0h-1.0zM99.1 220.9h1.0v1.0h-1.0zM97.1 222.1h1.0v1.0h-1.0zM101.5 222.4h1.0v1.0h-1.0zM99.7 220.3h1.0v1.0h-1.0zM110.6 212.0h1.0v1.0h-1.0zM120.5 210.4h1.0v1.0h-1.0zM99.7 222.4h1.0v1.0h-1.0zM100.2 212.1h1.0v1.0h-1.0zM107.1 215.4h1.0v1.0h-1.0zM104.9 224.0h1.0v1.0h-1.0zM105.7 217.1h1.0v1.0h-1.0zM119.6 199.3h1.0v1.0h-1.0zM107.4 220.3h1.0v1.0h-1.0zM102.1 201.5h1.0v1.0h-1.0zM98.7 218.6h1.0v1.0h-1.0zM108.6 228.4h1.0v1.0h-1.0zM118.0 197.3h1.0v1.0h-1.0zM115.6 218.3h1.0v1.0h-1.0zM120.4 207.8h1.0v1.0h-1.0zM102.4 216.9h1.0v1.0h-1.0zM119.8 214.3h1.0v1.0h-1.0zM121.1 215.2h1.0v1.0h-1.0zM102.1 207.6h1.0v1.0h-1.0zM104.1 212.5h1.0v1.0h-1.0zM99.5 212.1h1.0v1.0h-1.0zM107.1 233.4h1.0v1.0h-1.0zM106.5 209.9h1.0v1.0h-1.0zM108.0 221.3h1.0v1.0h-1.0zM100.2 213.2h1.0v1.0h-1.0zM92.5 225.1h1.0v1.0h-1.0zM112.6 224.1h1.0v1.0h-1.0zM114.2 209.1h1.0v1.0h-1.0zM103.8 212.7h1.0v1.0h-1.0zM97.0 224.0h1.0v1.0h-1.0zM102.0 210.0h1.0v1.0h-1.0zM111.3 213.3h1.0v1.0h-1.0zM102.2 213.9h1.0v1.0h-1.0zM102.9 226.5h1.0v1.0h-1.0zM115.3 205.0h1.0v1.0h-1.0zM106.7 225.3h1.0v1.0h-1.0zM104.6 229.4h1.0v1.0h-1.0zM110.7 218.1h1.0v1.0h-1.0zM89.8 227.3h1.0v1.0h-1.0zM109.8 217.7h1.0v1.0h-1.0zM111.0 216.8h1.0v1.0h-1.0zM102.8 222.9h1.0v1.0h-1.0zM107.5 205.2h1.0v1.0h-1.0zM98.6 218.4h1.0v1.0h-1.0zM109.8 195.0h1.0v1.0h-1.0zM89.9 228.9h1.0v1.0h-1.0zM94.3 216.7h1.0v1.0h-1.0zM102.0 220.4h1.0v1.0h-1.0zM118.7 222.8h1.0v1.0h-1.0zM98.6 227.2h1.0v1.0h-1.0zM96.9 220.3h1.0v1.0h-1.0zM108.4 218.5h1.0v1.0h-1.0zM100.4 227.4h1.0v1.0h-1.0zM106.4 214.1h1.0v1.0h-1.0zM104.8 206.1h1.0v1.0h-1.0zM113.0 214.5h1.0v1.0h-1.0zM110.8 227.8h1.0v1.0h-1.0zM99.8 214.3h1.0v1.0h-1.0zM107.1 221.0h1.0v1.0h-1.0zM105.5 222.2h1.0v1.0h-1.0zM110.8 198.2h1.0v1.0h-1.0zM101.3 199.5h1.0v1.0h-1.0zM104.6 211.5h1.0v1.0h-1.0zM111.9 213.6h1.0v1.0h-1.0zM106.5 224.5h1.0v1.0h-1.0zM111.9 202.1h1.0v1.0h-1.0zM101.3 218.8h1.0v1.0h-1.0zM121.1 207.1h1.0v1.0h-1.0zM105.6 216.7h1.0v1.0h-1.0zM113.5 210.9h1.0v1.0h-1.0zM109.4 209.7h1.0v1.0h-1.0zM102.4 209.2h1.0v1.0h-1.0zM112.5 207.4h1.0v1.0h-1.0zM111.6 215.6h1.0v1.0h-1.0zM99.0 207.0h1.0v1.0h-1.0zM105.6 221.1h1.0v1.0h-1.0zM118.3 212.9h1.0v1.0h-1.0zM103.8 219.6h1.0v1.0h-1.0zM107.1 219.0h1.0v1.0h-1.0zM98.5 208.2h1.0v1.0h-1.0zM101.7 215.6h1.0v1.0h-1.0zM109.9 210.0h1.0v1.0h-1.0zM109.9 218.5h1.0v1.0h-1.0zM97.4 216.7h1.0v1.0h-1.0zM94.1 214.3h1.0v1.0h-1.0zM114.5 205.4h1.0v1.0h-1.0zM122.5 212.4h1.0v1.0h-1.0zM114.4 212.1h1.0v1.0h-1.0zM114.2 220.3h1.0v1.0h-1.0zM107.9 209.3h1.0v1.0h-1.0zM102.4 231.5h1.0v1.0h-1.0zM105.5 210.8h1.0v1.0h-1.0zM101.1 202.4h1.0v1.0h-1.0zM102.9 218.2h1.0v1.0h-1.0zM103.0 209.3h1.0v1.0h-1.0zM110.4 216.5h1.0v1.0h-1.0zM103.4 217.9h1.0v1.0h-1.0zM98.9 224.0h1.0v1.0h-1.0zM98.8 214.3h1.0v1.0h-1.0zM108.1 210.1h1.0v1.0h-1.0zM119.6 195.0h1.0v1.0h-1.0zM108.0 203.2h1.0v1.0h-1.0zM109.6 202.4h1.0v1.0h-1.0zM111.8 216.6h1.0v1.0h-1.0zM121.2 218.6h1.0v1.0h-1.0zM103.2 223.2h1.0v1.0h-1.0zM103.2 214.5h1.0v1.0h-1.0zM102.8 201.1h1.0v1.0h-1.0zM112.0 195.5h1.0v1.0h-1.0zM105.0 219.0h1.0v1.0h-1.0zM108.0 200.7h1.0v1.0h-1.0zM101.6 221.6h1.0v1.0h-1.0zM116.1 223.7h1.0v1.0h-1.0zM91.9 223.4h1.0v1.0h-1.0zM103.0 221.8h1.0v1.0h-1.0zM93.0 218.0h1.0v1.0h-1.0zM112.9 206.5h1.0v1.0h-1.0zM104.0 207.1h1.0v1.0h-1.0zM116.3 199.7h1.0v1.0h-1.0zM99.4 214.1h1.0v1.0h-1.0zM104.4 232.3h1.0v1.0h-1.0zM109.3 206.3h1.0v1.0h-1.0zM111.8 215.0h1.0v1.0h-1.0zM109.3 212.6h1.0v1.0h-1.0zM110.8 203.0h1.0v1.0h-1.0zM97.0 214.2h1.0v1.0h-1.0zM97.8 223.2h1.0v1.0h-1.0zM123.1 218.2h1.0v1.0h-1.0zM110.7 215.4h1.0v1.0h-1.0zM101.3 205.4h1.0v1.0h-1.0zM111.6 200.2h1.0v1.0h-1.0zM109.5 211.9h1.0v1.0h-1.0zM113.2 212.1h1.0v1.0h-1.0zM107.9 208.9h1.0v1.0h-1.0zM92.7 216.5h1.0v1.0h-1.0zM112.8 220.4h1.0v1.0h-1.0zM118.4 201.6h1.0v1.0h-1.0zM99.2 222.6h1.0v1.0h-1.0zM109.6 200.6h1.0v1.0h-1.0zM102.4 228.6h1.0v1.0h-1.0zM91.8 220.9h1.0v1.0h-1.0zM95.5 231.4h1.0v1.0h-1.0zM103.3 206.9h1.0v1.0h-1.0zM92.8 213.4h1.0v1.0h-1.0zM125.1 208.1h1.0v1.0h-1.0zM104.8 205.3h1.0v1.0h-1.0zM109.8 209.1h1.0v1.0h-1.0zM100.0 228.0h1.0v1.0h-1.0zM110.7 205.4h1.0v1.0h-1.0zM119.3 209.0h1.0v1.0h-1.0zM111.2 213.7h1.0v1.0h-1.0zM116.8 215.4h1.0v1.0h-1.0zM104.1 221.0h1.0v1.0h-1.0zM103.8 216.3h1.0v1.0h-1.0zM120.6 200.2h1.0v1.0h-1.0zM98.4 213.9h1.0v1.0h-1.0zM102.9 226.2h1.0v1.0h-1.0zM120.2 205.4h1.0v1.0h-1.0zM108.5 210.5h1.0v1.0h-1.0zM112.6 217.4h1.0v1.0h-1.0zM113.3 218.0h1.0v1.0h-1.0zM123.1 206.7h1.0v1.0h-1.0zM112.8 210.3h1.0v1.0h-1.0zM107.3 215.7h1.0v1.0h-1.0zM106.6 217.0h1.0v1.0h-1.0zM99.9 215.4h1.0v1.0h-1.0zM102.0 206.3h1.0v1.0h-1.0zM101.1 212.1h1.0v1.0h-1.0zM105.8 201.6h1.0v1.0h-1.0zM104.9 205.5h1.0v1.0h-1.0zM100.2 218.1h1.0v1.0h-1.0zM116.2 212.9h1.0v1.0h-1.0zM102.9 211.9h1.0v1.0h-1.0zM118.1 196.5h1.0v1.0h-1.0zM116.5 198.1h1.0v1.0h-1.0zM101.7 216.3h1.0v1.0h-1.0zM105.2 228.4h1.0v1.0h-1.0zM111.1 212.1h1.0v1.0h-1.0zM114.9 211.4h1.0v1.0h-1.0zM100.3 225.7h1.0v1.0h-1.0zM119.5 219.9h1.0v1.0h-1.0zM97.2 233.3h1.0v1.0h-1.0zM103.5 221.6h1.0v1.0h-1.0zM93.6 210.6h1.0v1.0h-1.0zM116.8 214.4h1.0v1.0h-1.0zM110.7 211.1h1.0v1.0h-1.0zM107.0 215.9h1.0v1.0h-1.0zM113.3 209.5h1.0v1.0h-1.0zM99.5 213.8h1.0v1.0h-1.0zM123.4 202.3h1.0v1.0h-1.0zM106.3 229.9h1.0v1.0h-1.0zM115.8 211.8h1.0v1.0h-1.0zM113.1 209.5h1.0v1.0h-1.0zM99.5 225.0h1.0v1.0h-1.0zM108.1 226.8h1.0v1.0h-1.0zM104.8 211.7h1.0v1.0h-1.0zM109.9 211.4h1.0v1.0h-1.0zM104.4 207.6h1.0v1.0h-1.0zM109.1 215.9h1.0v1.0h-1.0zM122.2 208.1h1.0v1.0h-1.0zM92.4 223.3h1.0v1.0h-1.0zM126.1 203.3h1.0v1.0h-1.0zM100.3 215.1h1.0v1.0h-1.0zM105.4 202.1h1.0v1.0h-1.0zM111.8 205.0h1.0v1.0h-1.0zM91.6 213.8h1.0v1.0h-1.0zM112.3 227.9h1.0v1.0h-1.0zM117.4 211.7h1.0v1.0h-1.0zM102.7 213.4h1.0v1.0h-1.0zM115.1 206.7h1.0v1.0h-1.0zM110.5 220.7h1.0v1.0h-1.0zM99.4 212.0h1.0v1.0h-1.0zM110.7 212.7h1.0v1.0h-1.0zM106.0 210.0h1.0v1.0h-1.0zM106.5 229.5h1.0v1.0h-1.0zM118.3 196.5h1.0v1.0h-1.0zM107.4 214.6h1.0v1.0h-1.0zM107.3 202.5h1.0v1.0h-1.0zM105.9 215.6h1.0v1.0h-1.0zM101.3 218.7h1.0v1.0h-1.0zM107.8 216.9h1.0v1.0h-1.0zM105.6 210.7h1.0v1.0h-1.0zM108.5 222.4h1.0v1.0h-1.0zM114.5 210.6h1.0v1.0h-1.0zM103.1 224.2h1.0v1.0h-1.0zM111.5 219.6h1.0v1.0h-1.0zM104.7 207.8h1.0v1.0h-1.0zM108.6 208.3h1.0v1.0h-1.0zM116.6 217.5h1.0v1.0h-1.0zM88.8 226.2h1.0v1.0h-1.0zM118.1 218.4h1.0v1.0h-1.0zM103.1 208.4h1.0v1.0h-1.0zM115.1 219.4h1.0v1.0h-1.0zM107.5 204.3h1.0v1.0h-1.0zM94.3 220.9h1.0v1.0h-1.0zM100.1 210.9h1.0v1.0h-1.0zM110.7 221.3h1.0v1.0h-1.0zM89.8 214.9h1.0v1.0h-1.0zM117.8 209.6h1.0v1.0h-1.0zM104.1 220.3h1.0v1.0h-1.0zM97.5 207.4h1.0v1.0h-1.0zM107.2 226.8h1.0v1.0h-1.0zM115.5 210.8h1.0v1.0h-1.0zM115.4 207.5h1.0v1.0h-1.0zM97.2 203.8h1.0v1.0h-1.0zM109.3 220.6h1.0v1.0h-1.0zM110.1 212.5h1.0v1.0h-1.0zM103.7 224.2h1.0v1.0h-1.0zM106.6 202.3h1.0v1.0h-1.0zM118.4 204.4h1.0v1.0h-1.0zM110.3 212.8h1.0v1.0h-1.0zM115.8 212.8h1.0v1.0h-1.0zM117.2 211.9h1.0v1.0h-1.0zM103.2 211.2h1.0v1.0h-1.0zM112.4 205.1h1.0v1.0h-1.0zM114.7 209.2h1.0v1.0h-1.0zM99.3 209.7h1.0v1.0h-1.0zM105.8 229.1h1.0v1.0h-1.0zM113.4 211.8h1.0v1.0h-1.0zM99.4 232.5h1.0v1.0h-1.0zM104.7 214.9h1.0v1.0h-1.0zM103.5 226.3h1.0v1.0h-1.0zM108.5 209.7h1.0v1.0h-1.0zM108.5 205.2h1.0v1.0h-1.0zM98.2 215.9h1.0v1.0h-1.0zM123.6 198.7h1.0v1.0h-1.0zM105.8 201.4h1.0v1.0h-1.0zM108.4 215.2h1.0v1.0h-1.0zM113.2 200.7h1.0v1.0h-1.0zM102.0 210.5h1.0v1.0h-1.0zM104.9 233.6h1.0v1.0h-1.0zM105.3 214.3h1.0v1.0h-1.0zM102.8 222.2h1.0v1.0h-1.0zM119.8 200.4h1.0v1.0h-1.0zM115.8 211.0h1.0v1.0h-1.0zM117.4 218.9h1.0v1.0h-1.0zM112.5 198.1h1.0v1.0h-1.0zM108.1 209.5h1.0v1.0h-1.0zM110.7 212.9h1.0v1.0h-1.0zM115.8 197.5h1.0v1.0h-1.0zM100.8 215.7h1.0v1.0h-1.0zM109.7 209.7h1.0v1.0h-1.0zM106.8 214.6h1.0v1.0h-1.0zM115.8 209.8h1.0v1.0h-1.0zM109.0 198.2h1.0v1.0h-1.0zM110.0 193.8h1.0v1.0h-1.0zM110.4 211.9h1.0v1.0h-1.0zM107.0 208.0h1.0v1.0h-1.0zM103.5 222.2h1.0v1.0h-1.0zM110.0 212.7h1.0v1.0h-1.0zM102.9 217.3h1.0v1.0h-1.0zM117.0 210.2h1.0v1.0h-1.0zM103.9 205.4h1.0v1.0h-1.0zM107.8 206.1h1.0v1.0h-1.0zM95.0 225.7h1.0v1.0h-1.0zM101.8 199.1h1.0v1.0h-1.0zM101.0 231.5h1.0v1.0h-1.0zM106.1 203.4h1.0v1.0h-1.0zM97.8 223.4h1.0v1.0h-1.0zM110.4 214.5h1.0v1.0h-1.0zM105.4 218.6h1.0v1.0h-1.0zM119.9 213.3h1.0v1.0h-1.0zM105.6 202.9h1.0v1.0h-1.0zM110.7 225.6h1.0v1.0h-1.0zM112.4 201.6h1.0v1.0h-1.0zM108.5 224.2h1.0v1.0h-1.0zM101.7 220.1h1.0v1.0h-1.0zM117.1 223.8h1.0v1.0h-1.0zM110.1 218.7h1.0v1.0h-1.0zM104.0 214.9h1.0v1.0h-1.0zM103.6 225.2h1.0v1.0h-1.0zM88.5 223.0h1.0v1.0h-1.0zM96.3 212.4h1.0v1.0h-1.0zM94.2 211.2h1.0v1.0h-1.0zM106.8 214.3h1.0v1.0h-1.0zM122.0 206.6h1.0v1.0h-1.0zM109.9 215.9h1.0v1.0h-1.0zM109.2 225.4h1.0v1.0h-1.0zM108.2 214.8h1.0v1.0h-1.0zM106.1 214.4h1.0v1.0h-1.0zM106.5 222.4h1.0v1.0h-1.0zM107.2 214.5h1.0v1.0h-1.0zM106.6 220.4h1.0v1.0h-1.0zM103.0 223.3h1.0v1.0h-1.0zM102.2 221.5h1.0v1.0h-1.0zM123.1 210.0h1.0v1.0h-1.0zM106.3 204.5h1.0v1.0h-1.0zM113.2 211.8h1.0v1.0h-1.0zM114.6 205.7h1.0v1.0h-1.0zM111.4 227.4h1.0v1.0h-1.0zM110.4 210.0h1.0v1.0h-1.0zM96.1 218.0h1.0v1.0h-1.0zM112.5 216.9h1.0v1.0h-1.0zM97.6 208.9h1.0v1.0h-1.0zM98.8 208.6h1.0v1.0h-1.0zM104.7 217.1h1.0v1.0h-1.0zM123.1 209.7h1.0v1.0h-1.0zM119.2 195.7h1.0v1.0h-1.0zM119.9 215.8h1.0v1.0h-1.0zM110.7 219.5h1.0v1.0h-1.0zM112.2 228.0h1.0v1.0h-1.0zM113.8 197.0h1.0v1.0h-1.0zM106.3 225.3h1.0v1.0h-1.0zM104.1 209.6h1.0v1.0h-1.0zM104.1 217.7h1.0v1.0h-1.0zM108.6 208.3h1.0v1.0h-1.0zM111.5 217.5h1.0v1.0h-1.0zM99.3 207.6h1.0v1.0h-1.0zM90.5 217.5h1.0v1.0h-1.0zM107.1 208.2h1.0v1.0h-1.0zM101.9 214.8h1.0v1.0h-1.0zM107.2 218.7h1.0v1.0h-1.0zM114.0 215.1h1.0v1.0h-1.0zM116.4 202.5h1.0v1.0h-1.0zM112.1 215.2h1.0v1.0h-1.0zM98.2 211.6h1.0v1.0h-1.0zM110.7 213.2h1.0v1.0h-1.0zM96.5 213.3h1.0v1.0h-1.0zM119.8 216.3h1.0v1.0h-1.0zM107.7 225.0h1.0v1.0h-1.0zM99.4 215.4h1.0v1.0h-1.0zM115.0 208.2h1.0v1.0h-1.0zM97.6 222.4h1.0v1.0h-1.0zM108.3 203.1h1.0v1.0h-1.0zM104.5 203.2h1.0v1.0h-1.0zM107.4 208.0h1.0v1.0h-1.0zM98.7 213.3h1.0v1.0h-1.0zM108.7 228.0h1.0v1.0h-1.0zM109.4 226.1h1.0v1.0h-1.0zM98.1 217.9h1.0v1.0h-1.0zM103.3 202.3h1.0v1.0h-1.0zM109.1 207.0h1.0v1.0h-1.0zM102.2 207.2h1.0v1.0h-1.0zM115.6 207.5h1.0v1.0h-1.0zM105.8 216.0h1.0v1.0h-1.0zM96.7 219.8h1.0v1.0h-1.0zM105.6 218.2h1.0v1.0h-1.0zM103.8 215.5h1.0v1.0h-1.0zM111.4 220.4h1.0v1.0h-1.0zM101.2 224.2h1.0v1.0h-1.0zM98.7 215.5h1.0v1.0h-1.0zM108.1 214.8h1.0v1.0h-1.0zM105.5 222.3h1.0v1.0h-1.0zM101.1 228.8h1.0v1.0h-1.0zM91.9 220.3h1.0v1.0h-1.0zM111.5 212.5h1.0v1.0h-1.0zM109.2 221.0h1.0v1.0h-1.0zM100.2 221.4h1.0v1.0h-1.0zM115.9 208.8h1.0v1.0h-1.0zM99.8 207.8h1.0v1.0h-1.0zM110.6 206.0h1.0v1.0h-1.0zM96.0 215.7h1.0v1.0h-1.0zM119.8 214.9h1.0v1.0h-1.0zM98.4 225.8h1.0v1.0h-1.0zM103.0 233.9h1.0v1.0h-1.0zM102.4 220.7h1.0v1.0h-1.0zM111.7 208.5h1.0v1.0h-1.0zM105.7 224.1h1.0v1.0h-1.0zM111.2 211.9h1.0v1.0h-1.0zM110.7 227.2h1.0v1.0h-1.0zM114.8 215.1h1.0v1.0h-1.0zM109.8 199.9h1.0v1.0h-1.0zM108.1 209.5h1.0v1.0h-1.0zM113.2 206.7h1.0v1.0h-1.0zM110.8 203.8h1.0v1.0h-1.0zM114.5 205.1h1.0v1.0h-1.0zM106.8 218.9h1.0v1.0h-1.0zM104.3 215.1h1.0v1.0h-1.0zM115.9 225.4h1.0v1.0h-1.0zM91.8 212.1h1.0v1.0h-1.0zM112.7 219.7h1.0v1.0h-1.0zM103.0 216.3h1.0v1.0h-1.0zM105.4 233.6h1.0v1.0h-1.0zM105.3 204.7h1.0v1.0h-1.0zM94.0 208.2h1.0v1.0h-1.0zM117.9 206.7h1.0v1.0h-1.0zM123.4 213.2h1.0v1.0h-1.0zM110.2 218.2h1.0v1.0h-1.0zM113.6 219.2h1.0v1.0h-1.0zM98.8 212.4h1.0v1.0h-1.0zM102.4 216.6h1.0v1.0h-1.0zM104.9 204.5h1.0v1.0h-1.0zM101.2 231.0h1.0v1.0h-1.0zM124.8 200.3h1.0v1.0h-1.0zM110.2 212.5h1.0v1.0h-1.0zM99.9 222.6h1.0v1.0h-1.0zM106.4 228.1h1.0v1.0h-1.0zM110.8 210.0h1.0v1.0h-1.0zM114.1 205.4h1.0v1.0h-1.0zM114.4 216.9h1.0v1.0h-1.0zM92.2 217.9h1.0v1.0h-1.0zM109.7 219.3h1.0v1.0h-1.0zM108.3 213.4h1.0v1.0h-1.0zM104.1 212.7h1.0v1.0h-1.0zM107.0 205.1h1.0v1.0h-1.0zM112.4 209.3h1.0v1.0h-1.0zM111.4 208.2h1.0v1.0h-1.0zM110.4 213.8h1.0v1.0h-1.0zM114.5 215.1h1.0v1.0h-1.0zM114.8 209.7h1.0v1.0h-1.0zM106.5 212.0h1.0v1.0h-1.0zM96.5 216.9h1.0v1.0h-1.0zM116.1 217.0h1.0v1.0h-1.0zM99.9 219.1h1.0v1.0h-1.0zM113.3 200.4h1.0v1.0h-1.0zM109.9 215.7h1.0v1.0h-1.0zM113.3 213.8h1.0v1.0h-1.0zM123.7 204.5h1.0v1.0h-1.0zM117.7 220.6h1.0v1.0h-1.0zM107.7 204.2h1.0v1.0h-1.0zM118.5 209.4h1.0v1.0h-1.0zM111.4 216.4h1.0v1.0h-1.0zM115.0 219.5h1.0v1.0h-1.0zM95.1 206.7h1.0v1.0h-1.0zM108.2 213.6h1.0v1.0h-1.0zM113.5 210.5h1.0v1.0h-1.0zM105.5 231.4h1.0v1.0h-1.0zM118.5 219.4h1.0v1.0h-1.0zM115.7 204.2h1.0v1.0h-1.0zM106.3 213.7h1.0v1.0h-1.0zM97.8 210.2h1.0v1.0h-1.0zM108.4 203.4h1.0v1.0h-1.0zM111.6 216.2h1.0v1.0h-1.0zM105.0 211.9h1.0v1.0h-1.0zM112.1 216.1h1.0v1.0h-1.0zM110.1 202.7h1.0v1.0h-1.0zM101.5 213.0h1.0v1.0h-1.0zM91.7 213.0h1.0v1.0h-1.0zM100.8 222.9h1.0v1.0h-1.0zM103.5 211.2h1.0v1.0h-1.0zM100.5 212.8h1.0v1.0h-1.0zM93.8 221.1h1.0v1.0h-1.0zM117.0 211.6h1.0v1.0h-1.0zM102.5 226.2h1.0v1.0h-1.0zM111.1 203.9h1.0v1.0h-1.0zM102.2 210.7h1.0v1.0h-1.0zM106.6 224.2h1.0v1.0h-1.0zM101.1 215.0h1.0v1.0h-1.0zM107.9 203.8h1.0v1.0h-1.0zM103.0 220.6h1.0v1.0h-1.0zM116.5 194.9h1.0v1.0h-1.0zM112.9 209.4h1.0v1.0h-1.0zM117.8 215.1h1.0v1.0h-1.0zM123.5 210.4h1.0v1.0h-1.0zM103.7 208.3h1.0v1.0h-1.0zM95.0 223.1h1.0v1.0h-1.0zM111.3 219.2h1.0v1.0h-1.0zM109.9 200.5h1.0v1.0h-1.0zM103.6 213.3h1.0v1.0h-1.0zM108.3 219.9h1.0v1.0h-1.0zM118.9 212.0h1.0v1.0h-1.0zM89.7 212.0h1.0v1.0h-1.0zM89.1 214.3h1.0v1.0h-1.0zM96.9 219.7h1.0v1.0h-1.0zM105.1 223.9h1.0v1.0h-1.0zM116.1 206.9h1.0v1.0h-1.0zM114.9 211.2h1.0v1.0h-1.0zM110.8 223.7h1.0v1.0h-1.0zM97.4 217.0h1.0v1.0h-1.0zM119.9 202.9h1.0v1.0h-1.0zM108.8 214.4h1.0v1.0h-1.0zM103.5 204.5h1.0v1.0h-1.0zM101.2 208.0h1.0v1.0h-1.0zM116.1 212.7h1.0v1.0h-1.0z" fill="#f58a40" opacity="0.55"/>
<ellipse cx="107" cy="209" rx="7.5" ry="5.5" fill="#f07a20" filter="url(#b2)" opacity="0.5" transform="rotate(-25 107 209)"/>
<path d="M111.9 201.3h1.0v1.0h-1.0zM110.5 209.7h1.0v1.0h-1.0zM114.3 203.3h1.0v1.0h-1.0zM112.6 216.4h1.0v1.0h-1.0zM119.5 200.4h1.0v1.0h-1.0zM99.2 203.8h1.0v1.0h-1.0zM113.7 211.4h1.0v1.0h-1.0zM109.4 204.1h1.0v1.0h-1.0zM115.7 216.8h1.0v1.0h-1.0zM106.8 209.4h1.0v1.0h-1.0zM115.2 210.3h1.0v1.0h-1.0zM116.3 204.6h1.0v1.0h-1.0zM109.4 207.2h1.0v1.0h-1.0zM103.1 209.5h1.0v1.0h-1.0zM105.0 213.7h1.0v1.0h-1.0zM104.9 211.1h1.0v1.0h-1.0zM101.4 204.5h1.0v1.0h-1.0zM116.9 200.9h1.0v1.0h-1.0zM119.6 211.5h1.0v1.0h-1.0zM91.2 211.3h1.0v1.0h-1.0zM104.1 211.1h1.0v1.0h-1.0zM105.8 206.8h1.0v1.0h-1.0zM115.7 206.4h1.0v1.0h-1.0zM113.7 203.7h1.0v1.0h-1.0zM102.2 219.5h1.0v1.0h-1.0zM105.1 204.1h1.0v1.0h-1.0zM105.8 216.7h1.0v1.0h-1.0zM105.9 206.1h1.0v1.0h-1.0zM111.4 214.4h1.0v1.0h-1.0zM105.6 208.6h1.0v1.0h-1.0zM105.7 220.8h1.0v1.0h-1.0zM106.0 212.8h1.0v1.0h-1.0zM92.9 215.6h1.0v1.0h-1.0zM107.4 208.0h1.0v1.0h-1.0zM104.2 202.8h1.0v1.0h-1.0zM96.7 214.3h1.0v1.0h-1.0zM102.6 210.9h1.0v1.0h-1.0zM105.8 207.4h1.0v1.0h-1.0zM102.0 222.7h1.0v1.0h-1.0zM99.4 209.4h1.0v1.0h-1.0zM105.0 203.8h1.0v1.0h-1.0zM100.4 217.3h1.0v1.0h-1.0zM113.5 208.7h1.0v1.0h-1.0zM115.5 202.4h1.0v1.0h-1.0zM114.5 217.6h1.0v1.0h-1.0zM104.4 221.6h1.0v1.0h-1.0zM101.4 205.1h1.0v1.0h-1.0zM106.7 205.3h1.0v1.0h-1.0zM111.4 202.0h1.0v1.0h-1.0zM107.6 198.2h1.0v1.0h-1.0zM106.8 216.3h1.0v1.0h-1.0zM105.2 212.5h1.0v1.0h-1.0zM114.6 201.0h1.0v1.0h-1.0zM98.2 213.3h1.0v1.0h-1.0zM108.9 207.8h1.0v1.0h-1.0zM100.3 219.4h1.0v1.0h-1.0zM99.0 211.1h1.0v1.0h-1.0zM106.7 214.4h1.0v1.0h-1.0zM103.9 206.1h1.0v1.0h-1.0zM120.9 200.4h1.0v1.0h-1.0zM112.5 207.3h1.0v1.0h-1.0zM103.7 210.8h1.0v1.0h-1.0zM105.3 212.4h1.0v1.0h-1.0zM107.5 204.1h1.0v1.0h-1.0zM104.3 224.8h1.0v1.0h-1.0zM119.8 209.7h1.0v1.0h-1.0zM108.6 207.7h1.0v1.0h-1.0zM116.6 204.2h1.0v1.0h-1.0zM101.4 216.0h1.0v1.0h-1.0zM100.3 207.5h1.0v1.0h-1.0zM117.0 197.2h1.0v1.0h-1.0zM106.6 210.9h1.0v1.0h-1.0zM108.8 200.8h1.0v1.0h-1.0zM105.5 208.5h1.0v1.0h-1.0zM120.3 211.6h1.0v1.0h-1.0zM101.8 216.9h1.0v1.0h-1.0zM111.5 207.9h1.0v1.0h-1.0zM105.4 208.9h1.0v1.0h-1.0zM96.4 209.7h1.0v1.0h-1.0zM113.5 216.5h1.0v1.0h-1.0zM119.8 203.6h1.0v1.0h-1.0zM111.3 194.3h1.0v1.0h-1.0zM105.2 203.1h1.0v1.0h-1.0zM112.7 198.3h1.0v1.0h-1.0zM99.8 205.8h1.0v1.0h-1.0zM109.8 214.1h1.0v1.0h-1.0zM100.7 222.8h1.0v1.0h-1.0zM108.1 204.7h1.0v1.0h-1.0zM109.4 209.1h1.0v1.0h-1.0zM112.8 210.2h1.0v1.0h-1.0zM122.2 212.0h1.0v1.0h-1.0zM102.6 216.1h1.0v1.0h-1.0zM112.3 202.3h1.0v1.0h-1.0zM101.9 206.9h1.0v1.0h-1.0zM105.5 217.8h1.0v1.0h-1.0zM103.2 211.7h1.0v1.0h-1.0zM112.0 214.1h1.0v1.0h-1.0zM109.2 203.1h1.0v1.0h-1.0zM122.3 210.2h1.0v1.0h-1.0zM116.4 216.5h1.0v1.0h-1.0zM116.7 209.3h1.0v1.0h-1.0zM110.3 212.7h1.0v1.0h-1.0zM96.7 218.2h1.0v1.0h-1.0zM100.3 214.7h1.0v1.0h-1.0zM100.1 216.5h1.0v1.0h-1.0zM103.7 225.9h1.0v1.0h-1.0zM108.4 212.6h1.0v1.0h-1.0zM100.8 210.3h1.0v1.0h-1.0zM106.6 208.4h1.0v1.0h-1.0zM104.0 205.8h1.0v1.0h-1.0zM112.3 206.0h1.0v1.0h-1.0zM101.4 214.0h1.0v1.0h-1.0zM101.4 210.8h1.0v1.0h-1.0zM103.5 205.6h1.0v1.0h-1.0zM105.5 205.6h1.0v1.0h-1.0zM98.4 214.9h1.0v1.0h-1.0zM105.0 202.0h1.0v1.0h-1.0zM104.3 212.0h1.0v1.0h-1.0zM110.0 211.2h1.0v1.0h-1.0zM108.8 213.0h1.0v1.0h-1.0zM103.6 206.4h1.0v1.0h-1.0zM111.3 206.2h1.0v1.0h-1.0zM107.1 213.8h1.0v1.0h-1.0zM113.5 215.1h1.0v1.0h-1.0zM102.3 209.3h1.0v1.0h-1.0zM110.9 200.2h1.0v1.0h-1.0zM98.4 216.4h1.0v1.0h-1.0zM102.8 205.9h1.0v1.0h-1.0zM112.6 211.3h1.0v1.0h-1.0zM113.4 206.0h1.0v1.0h-1.0zM105.1 208.6h1.0v1.0h-1.0zM109.1 197.3h1.0v1.0h-1.0zM102.3 215.7h1.0v1.0h-1.0zM101.7 211.4h1.0v1.0h-1.0zM107.9 212.8h1.0v1.0h-1.0zM103.8 204.3h1.0v1.0h-1.0zM118.8 195.7h1.0v1.0h-1.0zM107.8 208.6h1.0v1.0h-1.0zM113.8 201.8h1.0v1.0h-1.0zM101.5 207.3h1.0v1.0h-1.0zM103.5 212.7h1.0v1.0h-1.0zM101.6 210.3h1.0v1.0h-1.0zM117.2 215.2h1.0v1.0h-1.0zM94.2 208.5h1.0v1.0h-1.0zM104.5 218.5h1.0v1.0h-1.0zM104.8 222.0h1.0v1.0h-1.0zM109.6 217.7h1.0v1.0h-1.0zM101.2 210.1h1.0v1.0h-1.0zM114.1 211.1h1.0v1.0h-1.0zM94.2 212.5h1.0v1.0h-1.0zM108.3 213.3h1.0v1.0h-1.0zM102.7 221.7h1.0v1.0h-1.0zM108.1 218.2h1.0v1.0h-1.0zM109.8 209.6h1.0v1.0h-1.0zM104.9 203.8h1.0v1.0h-1.0zM113.0 212.5h1.0v1.0h-1.0zM113.5 205.7h1.0v1.0h-1.0zM100.2 210.0h1.0v1.0h-1.0zM104.9 210.6h1.0v1.0h-1.0zM113.8 202.4h1.0v1.0h-1.0zM103.7 215.1h1.0v1.0h-1.0zM113.3 221.0h1.0v1.0h-1.0zM110.7 203.8h1.0v1.0h-1.0zM99.9 207.6h1.0v1.0h-1.0zM107.6 211.3h1.0v1.0h-1.0zM106.6 206.5h1.0v1.0h-1.0zM105.8 209.9h1.0v1.0h-1.0zM111.2 209.1h1.0v1.0h-1.0zM101.5 204.9h1.0v1.0h-1.0zM117.3 206.2h1.0v1.0h-1.0zM105.9 210.2h1.0v1.0h-1.0zM114.8 205.6h1.0v1.0h-1.0zM108.3 208.2h1.0v1.0h-1.0zM111.1 202.7h1.0v1.0h-1.0zM108.5 215.6h1.0v1.0h-1.0zM115.2 211.0h1.0v1.0h-1.0zM109.1 218.6h1.0v1.0h-1.0zM111.9 216.7h1.0v1.0h-1.0zM98.8 206.2h1.0v1.0h-1.0zM112.6 206.6h1.0v1.0h-1.0zM104.1 205.3h1.0v1.0h-1.0zM117.3 199.6h1.0v1.0h-1.0zM107.8 201.5h1.0v1.0h-1.0zM105.9 223.6h1.0v1.0h-1.0zM123.8 201.6h1.0v1.0h-1.0zM100.2 221.8h1.0v1.0h-1.0zM101.2 201.4h1.0v1.0h-1.0zM109.5 202.8h1.0v1.0h-1.0zM97.1 219.8h1.0v1.0h-1.0zM102.1 205.3h1.0v1.0h-1.0zM108.2 208.5h1.0v1.0h-1.0zM114.8 208.0h1.0v1.0h-1.0zM118.0 213.1h1.0v1.0h-1.0zM119.3 212.6h1.0v1.0h-1.0zM107.6 213.0h1.0v1.0h-1.0zM107.2 200.8h1.0v1.0h-1.0zM99.0 217.0h1.0v1.0h-1.0zM90.9 210.4h1.0v1.0h-1.0zM98.3 212.5h1.0v1.0h-1.0zM100.0 213.8h1.0v1.0h-1.0zM105.7 207.7h1.0v1.0h-1.0zM101.3 198.8h1.0v1.0h-1.0zM107.6 202.2h1.0v1.0h-1.0zM105.1 212.8h1.0v1.0h-1.0zM114.3 211.8h1.0v1.0h-1.0zM117.2 198.3h1.0v1.0h-1.0zM111.7 217.7h1.0v1.0h-1.0zM109.8 202.6h1.0v1.0h-1.0zM109.8 206.0h1.0v1.0h-1.0zM102.7 217.7h1.0v1.0h-1.0zM105.9 203.8h1.0v1.0h-1.0zM102.5 223.0h1.0v1.0h-1.0zM101.3 215.8h1.0v1.0h-1.0zM108.3 216.5h1.0v1.0h-1.0zM105.2 205.0h1.0v1.0h-1.0zM102.7 205.3h1.0v1.0h-1.0zM104.9 218.1h1.0v1.0h-1.0zM111.6 207.4h1.0v1.0h-1.0zM111.4 210.2h1.0v1.0h-1.0zM114.8 217.2h1.0v1.0h-1.0zM105.0 210.5h1.0v1.0h-1.0zM105.9 217.6h1.0v1.0h-1.0zM109.7 213.7h1.0v1.0h-1.0zM113.3 204.2h1.0v1.0h-1.0zM108.0 217.8h1.0v1.0h-1.0zM113.4 212.7h1.0v1.0h-1.0zM105.2 208.5h1.0v1.0h-1.0zM101.3 210.3h1.0v1.0h-1.0zM106.7 201.7h1.0v1.0h-1.0zM115.1 202.9h1.0v1.0h-1.0zM108.8 213.0h1.0v1.0h-1.0zM103.3 200.6h1.0v1.0h-1.0zM113.7 210.2h1.0v1.0h-1.0zM105.4 217.2h1.0v1.0h-1.0zM113.2 202.4h1.0v1.0h-1.0zM106.6 199.8h1.0v1.0h-1.0zM105.3 218.9h1.0v1.0h-1.0zM101.4 216.7h1.0v1.0h-1.0zM96.8 211.6h1.0v1.0h-1.0zM113.6 218.0h1.0v1.0h-1.0zM110.2 213.4h1.0v1.0h-1.0zM95.4 224.9h1.0v1.0h-1.0zM124.0 208.0h1.0v1.0h-1.0zM107.6 211.4h1.0v1.0h-1.0zM107.3 206.3h1.0v1.0h-1.0zM107.0 209.3h1.0v1.0h-1.0zM111.7 212.5h1.0v1.0h-1.0zM113.8 211.3h1.0v1.0h-1.0zM100.5 220.3h1.0v1.0h-1.0zM109.4 206.1h1.0v1.0h-1.0zM119.9 199.4h1.0v1.0h-1.0zM99.1 209.6h1.0v1.0h-1.0zM110.0 213.7h1.0v1.0h-1.0zM107.9 213.7h1.0v1.0h-1.0zM102.3 208.0h1.0v1.0h-1.0zM108.0 201.8h1.0v1.0h-1.0zM108.4 207.2h1.0v1.0h-1.0zM111.8 202.5h1.0v1.0h-1.0zM103.5 207.8h1.0v1.0h-1.0zM104.6 204.9h1.0v1.0h-1.0zM105.3 202.6h1.0v1.0h-1.0zM110.8 212.7h1.0v1.0h-1.0zM107.0 208.9h1.0v1.0h-1.0zM101.1 206.3h1.0v1.0h-1.0zM105.6 205.1h1.0v1.0h-1.0zM99.1 213.6h1.0v1.0h-1.0zM107.0 207.6h1.0v1.0h-1.0zM101.6 211.5h1.0v1.0h-1.0zM102.4 209.0h1.0v1.0h-1.0zM108.4 213.8h1.0v1.0h-1.0zM112.3 204.7h1.0v1.0h-1.0zM115.3 200.5h1.0v1.0h-1.0zM105.9 218.0h1.0v1.0h-1.0zM123.2 205.5h1.0v1.0h-1.0zM104.7 208.6h1.0v1.0h-1.0zM98.9 211.8h1.0v1.0h-1.0zM104.2 206.5h1.0v1.0h-1.0zM115.2 202.8h1.0v1.0h-1.0zM118.6 211.2h1.0v1.0h-1.0zM111.5 205.1h1.0v1.0h-1.0zM103.7 199.4h1.0v1.0h-1.0zM109.0 207.8h1.0v1.0h-1.0zM109.7 205.2h1.0v1.0h-1.0zM110.4 200.1h1.0v1.0h-1.0zM92.3 217.6h1.0v1.0h-1.0zM115.8 205.1h1.0v1.0h-1.0zM106.0 201.3h1.0v1.0h-1.0zM100.3 216.4h1.0v1.0h-1.0zM102.1 211.4h1.0v1.0h-1.0zM106.1 222.0h1.0v1.0h-1.0zM113.1 200.3h1.0v1.0h-1.0zM103.9 204.3h1.0v1.0h-1.0zM97.7 209.0h1.0v1.0h-1.0zM114.6 207.8h1.0v1.0h-1.0zM111.7 207.7h1.0v1.0h-1.0zM104.2 211.4h1.0v1.0h-1.0zM106.6 221.5h1.0v1.0h-1.0zM119.3 208.2h1.0v1.0h-1.0zM111.2 196.9h1.0v1.0h-1.0zM106.3 224.3h1.0v1.0h-1.0zM101.7 216.5h1.0v1.0h-1.0zM115.4 205.0h1.0v1.0h-1.0zM105.6 207.8h1.0v1.0h-1.0zM112.5 208.4h1.0v1.0h-1.0zM117.3 213.7h1.0v1.0h-1.0zM105.0 207.1h1.0v1.0h-1.0zM105.5 205.3h1.0v1.0h-1.0zM104.3 210.5h1.0v1.0h-1.0zM113.1 198.7h1.0v1.0h-1.0zM97.6 208.5h1.0v1.0h-1.0zM105.0 213.3h1.0v1.0h-1.0zM101.8 220.6h1.0v1.0h-1.0zM103.5 209.9h1.0v1.0h-1.0zM107.5 216.8h1.0v1.0h-1.0zM109.1 209.5h1.0v1.0h-1.0zM103.4 212.2h1.0v1.0h-1.0zM109.8 207.0h1.0v1.0h-1.0zM106.9 199.2h1.0v1.0h-1.0zM103.5 218.1h1.0v1.0h-1.0zM116.7 206.4h1.0v1.0h-1.0zM105.9 225.5h1.0v1.0h-1.0zM104.3 216.8h1.0v1.0h-1.0zM102.9 219.4h1.0v1.0h-1.0zM114.9 201.2h1.0v1.0h-1.0zM105.6 203.3h1.0v1.0h-1.0zM109.0 207.0h1.0v1.0h-1.0zM97.0 207.1h1.0v1.0h-1.0zM108.7 200.5h1.0v1.0h-1.0zM114.4 210.3h1.0v1.0h-1.0zM105.9 218.6h1.0v1.0h-1.0zM100.8 216.1h1.0v1.0h-1.0zM97.9 211.0h1.0v1.0h-1.0zM111.4 205.4h1.0v1.0h-1.0zM106.3 214.1h1.0v1.0h-1.0zM117.4 214.3h1.0v1.0h-1.0zM110.2 207.4h1.0v1.0h-1.0zM97.3 223.3h1.0v1.0h-1.0zM112.9 207.8h1.0v1.0h-1.0zM111.8 210.3h1.0v1.0h-1.0zM105.8 210.4h1.0v1.0h-1.0zM106.8 216.9h1.0v1.0h-1.0zM105.3 207.3h1.0v1.0h-1.0zM111.5 212.4h1.0v1.0h-1.0zM110.0 210.7h1.0v1.0h-1.0zM117.0 213.3h1.0v1.0h-1.0zM108.5 208.3h1.0v1.0h-1.0zM111.5 197.5h1.0v1.0h-1.0zM103.6 206.9h1.0v1.0h-1.0zM108.2 207.3h1.0v1.0h-1.0zM123.7 208.9h1.0v1.0h-1.0zM109.8 222.4h1.0v1.0h-1.0zM107.1 208.1h1.0v1.0h-1.0zM115.4 212.2h1.0v1.0h-1.0zM113.3 215.1h1.0v1.0h-1.0zM104.6 206.9h1.0v1.0h-1.0zM102.2 212.2h1.0v1.0h-1.0zM113.8 201.6h1.0v1.0h-1.0zM103.5 203.2h1.0v1.0h-1.0zM120.5 210.3h1.0v1.0h-1.0zM108.5 202.3h1.0v1.0h-1.0zM100.1 208.4h1.0v1.0h-1.0zM107.3 202.4h1.0v1.0h-1.0zM105.5 217.7h1.0v1.0h-1.0zM107.2 210.5h1.0v1.0h-1.0zM93.0 213.0h1.0v1.0h-1.0zM106.1 206.2h1.0v1.0h-1.0zM97.7 212.6h1.0v1.0h-1.0zM100.2 209.0h1.0v1.0h-1.0zM96.3 212.9h1.0v1.0h-1.0zM113.2 203.0h1.0v1.0h-1.0zM109.2 200.3h1.0v1.0h-1.0zM111.0 211.9h1.0v1.0h-1.0zM104.5 216.1h1.0v1.0h-1.0zM101.2 212.2h1.0v1.0h-1.0zM118.4 206.2h1.0v1.0h-1.0zM99.5 219.3h1.0v1.0h-1.0zM110.7 207.2h1.0v1.0h-1.0zM96.8 222.1h1.0v1.0h-1.0zM109.0 204.3h1.0v1.0h-1.0zM114.8 216.2h1.0v1.0h-1.0zM101.4 214.7h1.0v1.0h-1.0zM96.0 215.8h1.0v1.0h-1.0zM119.3 197.6h1.0v1.0h-1.0zM107.4 206.1h1.0v1.0h-1.0zM106.4 210.7h1.0v1.0h-1.0zM108.9 214.7h1.0v1.0h-1.0zM110.5 215.1h1.0v1.0h-1.0zM113.9 214.3h1.0v1.0h-1.0zM102.5 213.9h1.0v1.0h-1.0zM104.6 205.8h1.0v1.0h-1.0zM120.2 207.4h1.0v1.0h-1.0zM107.4 197.4h1.0v1.0h-1.0zM105.5 215.1h1.0v1.0h-1.0zM105.7 207.2h1.0v1.0h-1.0zM117.0 204.9h1.0v1.0h-1.0zM104.8 210.1h1.0v1.0h-1.0zM105.5 216.7h1.0v1.0h-1.0zM110.9 208.3h1.0v1.0h-1.0zM104.6 209.4h1.0v1.0h-1.0zM118.4 204.5h1.0v1.0h-1.0zM111.5 199.2h1.0v1.0h-1.0zM109.2 213.4h1.0v1.0h-1.0zM115.6 209.1h1.0v1.0h-1.0zM110.9 210.6h1.0v1.0h-1.0zM114.2 219.8h1.0v1.0h-1.0zM108.4 204.7h1.0v1.0h-1.0zM111.1 208.0h1.0v1.0h-1.0zM111.4 213.2h1.0v1.0h-1.0zM108.1 207.0h1.0v1.0h-1.0zM109.1 201.9h1.0v1.0h-1.0zM108.9 204.1h1.0v1.0h-1.0zM110.1 209.7h1.0v1.0h-1.0zM105.6 203.3h1.0v1.0h-1.0zM107.4 205.8h1.0v1.0h-1.0zM106.1 214.4h1.0v1.0h-1.0zM113.5 200.3h1.0v1.0h-1.0zM113.3 216.0h1.0v1.0h-1.0zM114.6 209.2h1.0v1.0h-1.0zM106.5 220.5h1.0v1.0h-1.0zM104.9 201.6h1.0v1.0h-1.0z" fill="#f07018" opacity="0.7"/>
<path d="M70.8 255.0h1.0v1.0h-1.0zM61.7 247.0h1.0v1.0h-1.0zM86.2 254.1h1.0v1.0h-1.0zM76.4 250.4h1.0v1.0h-1.0zM57.8 252.5h1.0v1.0h-1.0zM81.0 249.9h1.0v1.0h-1.0zM55.5 252.6h1.0v1.0h-1.0zM67.8 253.6h1.0v1.0h-1.0zM61.6 251.8h1.0v1.0h-1.0zM65.7 258.2h1.0v1.0h-1.0zM71.3 258.2h1.0v1.0h-1.0zM69.7 242.1h1.0v1.0h-1.0zM54.2 256.4h1.0v1.0h-1.0zM77.2 258.2h1.0v1.0h-1.0zM69.5 243.9h1.0v1.0h-1.0zM66.1 255.7h1.0v1.0h-1.0zM81.3 251.7h1.0v1.0h-1.0zM65.5 249.3h1.0v1.0h-1.0zM78.4 258.2h1.0v1.0h-1.0zM55.2 260.0h1.0v1.0h-1.0zM62.6 245.6h1.0v1.0h-1.0zM57.1 249.6h1.0v1.0h-1.0zM60.0 249.9h1.0v1.0h-1.0zM71.4 255.7h1.0v1.0h-1.0zM66.2 245.0h1.0v1.0h-1.0zM66.7 249.8h1.0v1.0h-1.0zM55.5 254.3h1.0v1.0h-1.0zM58.2 244.2h1.0v1.0h-1.0zM82.4 258.6h1.0v1.0h-1.0zM81.9 254.1h1.0v1.0h-1.0zM66.7 253.0h1.0v1.0h-1.0zM59.0 257.5h1.0v1.0h-1.0zM72.3 251.9h1.0v1.0h-1.0zM54.9 252.9h1.0v1.0h-1.0zM83.3 261.3h1.0v1.0h-1.0zM77.2 251.6h1.0v1.0h-1.0zM71.2 256.5h1.0v1.0h-1.0zM71.7 259.1h1.0v1.0h-1.0zM64.7 241.0h1.0v1.0h-1.0zM58.8 257.1h1.0v1.0h-1.0zM78.9 253.5h1.0v1.0h-1.0zM74.5 253.9h1.0v1.0h-1.0zM71.5 251.0h1.0v1.0h-1.0zM66.8 259.9h1.0v1.0h-1.0zM67.9 253.3h1.0v1.0h-1.0zM79.8 258.8h1.0v1.0h-1.0zM66.9 254.9h1.0v1.0h-1.0zM61.9 254.2h1.0v1.0h-1.0zM72.7 253.5h1.0v1.0h-1.0zM71.4 255.5h1.0v1.0h-1.0zM70.7 250.9h1.0v1.0h-1.0zM62.2 252.2h1.0v1.0h-1.0zM83.2 252.3h1.0v1.0h-1.0zM64.8 250.9h1.0v1.0h-1.0zM60.4 256.1h1.0v1.0h-1.0zM62.1 258.4h1.0v1.0h-1.0zM77.5 256.6h1.0v1.0h-1.0zM78.6 253.0h1.0v1.0h-1.0zM55.8 253.2h1.0v1.0h-1.0zM75.3 245.2h1.0v1.0h-1.0zM60.2 259.4h1.0v1.0h-1.0zM73.7 260.7h1.0v1.0h-1.0zM75.5 253.9h1.0v1.0h-1.0zM73.6 258.1h1.0v1.0h-1.0zM69.9 252.4h1.0v1.0h-1.0zM72.7 251.8h1.0v1.0h-1.0zM57.8 246.6h1.0v1.0h-1.0zM78.6 251.3h1.0v1.0h-1.0zM71.4 252.3h1.0v1.0h-1.0zM72.4 245.7h1.0v1.0h-1.0zM70.8 250.4h1.0v1.0h-1.0zM79.0 256.8h1.0v1.0h-1.0zM59.8 248.3h1.0v1.0h-1.0zM74.7 259.9h1.0v1.0h-1.0zM76.4 252.7h1.0v1.0h-1.0zM79.2 240.8h1.0v1.0h-1.0zM65.7 248.3h1.0v1.0h-1.0zM61.7 256.5h1.0v1.0h-1.0zM72.4 255.0h1.0v1.0h-1.0zM69.0 256.8h1.0v1.0h-1.0zM76.5 250.4h1.0v1.0h-1.0zM77.8 248.5h1.0v1.0h-1.0zM84.5 246.5h1.0v1.0h-1.0zM67.8 247.7h1.0v1.0h-1.0zM70.4 260.6h1.0v1.0h-1.0zM64.0 263.1h1.0v1.0h-1.0zM81.7 255.6h1.0v1.0h-1.0zM65.3 258.4h1.0v1.0h-1.0zM78.0 253.3h1.0v1.0h-1.0zM59.2 252.3h1.0v1.0h-1.0zM74.9 262.7h1.0v1.0h-1.0zM55.7 254.4h1.0v1.0h-1.0zM80.5 249.9h1.0v1.0h-1.0zM66.4 247.0h1.0v1.0h-1.0zM76.4 258.0h1.0v1.0h-1.0zM75.0 254.8h1.0v1.0h-1.0zM78.3 252.8h1.0v1.0h-1.0zM76.0 257.9h1.0v1.0h-1.0zM80.8 256.3h1.0v1.0h-1.0zM70.8 257.3h1.0v1.0h-1.0zM57.4 244.0h1.0v1.0h-1.0zM83.4 254.2h1.0v1.0h-1.0zM61.5 250.4h1.0v1.0h-1.0zM68.9 253.9h1.0v1.0h-1.0zM63.8 258.9h1.0v1.0h-1.0zM61.2 262.5h1.0v1.0h-1.0zM75.6 244.4h1.0v1.0h-1.0zM60.0 253.8h1.0v1.0h-1.0zM72.4 251.2h1.0v1.0h-1.0zM70.2 254.4h1.0v1.0h-1.0zM60.7 253.8h1.0v1.0h-1.0zM61.7 257.1h1.0v1.0h-1.0zM81.2 259.1h1.0v1.0h-1.0zM64.9 253.1h1.0v1.0h-1.0zM71.8 252.4h1.0v1.0h-1.0zM73.4 259.4h1.0v1.0h-1.0zM74.6 253.4h1.0v1.0h-1.0zM68.4 263.2h1.0v1.0h-1.0zM59.9 264.3h1.0v1.0h-1.0zM76.2 254.0h1.0v1.0h-1.0zM63.9 263.4h1.0v1.0h-1.0zM80.2 258.4h1.0v1.0h-1.0zM70.9 251.8h1.0v1.0h-1.0zM64.1 253.9h1.0v1.0h-1.0zM74.6 256.3h1.0v1.0h-1.0zM69.0 246.3h1.0v1.0h-1.0zM74.8 256.8h1.0v1.0h-1.0zM70.3 247.3h1.0v1.0h-1.0zM71.8 257.6h1.0v1.0h-1.0zM74.3 260.7h1.0v1.0h-1.0zM61.5 249.8h1.0v1.0h-1.0zM71.6 246.8h1.0v1.0h-1.0zM65.0 261.0h1.0v1.0h-1.0zM72.6 252.9h1.0v1.0h-1.0zM65.4 253.8h1.0v1.0h-1.0zM69.8 247.7h1.0v1.0h-1.0zM76.7 246.6h1.0v1.0h-1.0zM80.8 251.7h1.0v1.0h-1.0zM72.5 248.8h1.0v1.0h-1.0zM85.3 261.0h1.0v1.0h-1.0zM81.4 250.2h1.0v1.0h-1.0zM81.0 251.1h1.0v1.0h-1.0zM69.7 246.1h1.0v1.0h-1.0zM70.6 255.7h1.0v1.0h-1.0zM69.6 247.5h1.0v1.0h-1.0zM77.7 258.5h1.0v1.0h-1.0zM69.4 257.8h1.0v1.0h-1.0zM78.4 248.1h1.0v1.0h-1.0zM69.8 243.4h1.0v1.0h-1.0zM61.4 255.8h1.0v1.0h-1.0zM62.7 255.6h1.0v1.0h-1.0zM73.2 242.3h1.0v1.0h-1.0zM66.0 261.8h1.0v1.0h-1.0zM70.2 254.2h1.0v1.0h-1.0zM64.2 244.8h1.0v1.0h-1.0zM68.6 248.8h1.0v1.0h-1.0zM71.0 242.9h1.0v1.0h-1.0zM81.9 262.9h1.0v1.0h-1.0zM63.8 255.3h1.0v1.0h-1.0zM62.5 258.2h1.0v1.0h-1.0zM63.0 252.7h1.0v1.0h-1.0zM81.2 256.4h1.0v1.0h-1.0zM67.3 245.2h1.0v1.0h-1.0zM56.6 260.1h1.0v1.0h-1.0zM74.4 253.8h1.0v1.0h-1.0zM80.7 254.3h1.0v1.0h-1.0zM64.0 252.9h1.0v1.0h-1.0zM69.3 253.4h1.0v1.0h-1.0zM72.4 252.1h1.0v1.0h-1.0zM64.3 248.1h1.0v1.0h-1.0zM54.2 251.0h1.0v1.0h-1.0zM57.2 243.4h1.0v1.0h-1.0zM62.1 242.4h1.0v1.0h-1.0zM81.8 260.3h1.0v1.0h-1.0zM61.9 264.7h1.0v1.0h-1.0zM70.3 248.0h1.0v1.0h-1.0zM55.3 252.1h1.0v1.0h-1.0zM79.9 255.9h1.0v1.0h-1.0zM57.7 249.9h1.0v1.0h-1.0zM63.7 259.8h1.0v1.0h-1.0zM69.3 248.1h1.0v1.0h-1.0zM62.3 242.7h1.0v1.0h-1.0zM62.9 258.4h1.0v1.0h-1.0zM53.8 254.6h1.0v1.0h-1.0zM69.1 258.0h1.0v1.0h-1.0zM60.4 258.5h1.0v1.0h-1.0zM83.3 266.1h1.0v1.0h-1.0zM56.2 253.3h1.0v1.0h-1.0zM68.3 254.2h1.0v1.0h-1.0zM61.7 258.2h1.0v1.0h-1.0zM62.0 250.3h1.0v1.0h-1.0zM76.3 254.2h1.0v1.0h-1.0zM63.6 260.3h1.0v1.0h-1.0zM74.5 259.1h1.0v1.0h-1.0zM68.6 260.5h1.0v1.0h-1.0zM66.1 247.4h1.0v1.0h-1.0zM70.0 245.8h1.0v1.0h-1.0zM80.8 257.5h1.0v1.0h-1.0zM55.7 254.4h1.0v1.0h-1.0zM77.3 251.5h1.0v1.0h-1.0zM73.6 250.3h1.0v1.0h-1.0zM69.5 253.0h1.0v1.0h-1.0zM74.2 248.2h1.0v1.0h-1.0zM60.4 255.3h1.0v1.0h-1.0zM65.7 256.4h1.0v1.0h-1.0zM65.8 246.3h1.0v1.0h-1.0zM76.4 255.0h1.0v1.0h-1.0zM76.3 251.6h1.0v1.0h-1.0zM67.0 260.5h1.0v1.0h-1.0zM55.6 263.1h1.0v1.0h-1.0zM74.4 253.2h1.0v1.0h-1.0zM70.8 256.8h1.0v1.0h-1.0zM63.5 255.0h1.0v1.0h-1.0zM61.9 243.3h1.0v1.0h-1.0zM71.8 254.0h1.0v1.0h-1.0zM75.6 256.6h1.0v1.0h-1.0zM76.0 257.9h1.0v1.0h-1.0zM61.0 260.2h1.0v1.0h-1.0zM59.3 257.3h1.0v1.0h-1.0zM77.9 259.1h1.0v1.0h-1.0zM83.2 245.9h1.0v1.0h-1.0zM73.3 256.1h1.0v1.0h-1.0zM80.7 248.6h1.0v1.0h-1.0zM70.2 251.5h1.0v1.0h-1.0zM68.7 252.7h1.0v1.0h-1.0zM68.7 243.7h1.0v1.0h-1.0zM69.7 253.9h1.0v1.0h-1.0zM64.1 249.9h1.0v1.0h-1.0zM62.6 262.3h1.0v1.0h-1.0zM77.9 252.5h1.0v1.0h-1.0zM61.7 256.1h1.0v1.0h-1.0zM64.9 261.7h1.0v1.0h-1.0zM79.5 252.8h1.0v1.0h-1.0zM75.3 249.1h1.0v1.0h-1.0zM56.5 258.2h1.0v1.0h-1.0zM84.0 251.8h1.0v1.0h-1.0zM65.5 243.6h1.0v1.0h-1.0zM61.7 252.4h1.0v1.0h-1.0zM80.4 253.8h1.0v1.0h-1.0zM69.9 253.6h1.0v1.0h-1.0zM77.3 253.3h1.0v1.0h-1.0zM71.4 253.1h1.0v1.0h-1.0zM60.5 260.9h1.0v1.0h-1.0zM64.1 246.2h1.0v1.0h-1.0zM66.3 253.7h1.0v1.0h-1.0zM77.0 245.4h1.0v1.0h-1.0zM59.2 254.5h1.0v1.0h-1.0zM73.3 247.4h1.0v1.0h-1.0zM60.3 254.5h1.0v1.0h-1.0zM68.8 244.6h1.0v1.0h-1.0zM62.5 261.7h1.0v1.0h-1.0zM61.0 259.3h1.0v1.0h-1.0zM56.9 261.7h1.0v1.0h-1.0zM83.7 250.0h1.0v1.0h-1.0zM64.2 257.0h1.0v1.0h-1.0zM59.4 256.5h1.0v1.0h-1.0zM80.4 255.0h1.0v1.0h-1.0zM72.8 252.6h1.0v1.0h-1.0zM78.6 249.0h1.0v1.0h-1.0zM83.6 253.4h1.0v1.0h-1.0zM67.2 244.5h1.0v1.0h-1.0zM66.3 254.8h1.0v1.0h-1.0zM80.6 244.6h1.0v1.0h-1.0zM68.9 249.7h1.0v1.0h-1.0zM59.8 253.5h1.0v1.0h-1.0zM63.5 258.3h1.0v1.0h-1.0zM53.8 242.7h1.0v1.0h-1.0zM74.5 251.6h1.0v1.0h-1.0zM71.1 248.2h1.0v1.0h-1.0zM61.0 249.4h1.0v1.0h-1.0zM69.5 248.9h1.0v1.0h-1.0zM66.4 248.7h1.0v1.0h-1.0zM72.0 247.2h1.0v1.0h-1.0zM69.8 254.0h1.0v1.0h-1.0zM78.2 249.4h1.0v1.0h-1.0zM60.3 245.3h1.0v1.0h-1.0zM76.5 250.0h1.0v1.0h-1.0zM78.4 253.1h1.0v1.0h-1.0zM67.7 243.2h1.0v1.0h-1.0zM64.2 257.9h1.0v1.0h-1.0zM64.8 257.2h1.0v1.0h-1.0zM56.0 259.1h1.0v1.0h-1.0zM72.7 246.7h1.0v1.0h-1.0zM65.5 249.9h1.0v1.0h-1.0zM71.6 242.4h1.0v1.0h-1.0zM62.6 257.9h1.0v1.0h-1.0zM71.3 257.6h1.0v1.0h-1.0zM77.3 247.2h1.0v1.0h-1.0zM58.5 256.1h1.0v1.0h-1.0zM70.3 253.9h1.0v1.0h-1.0zM63.1 259.1h1.0v1.0h-1.0zM74.2 259.8h1.0v1.0h-1.0zM67.0 257.3h1.0v1.0h-1.0zM69.5 248.3h1.0v1.0h-1.0zM69.3 244.4h1.0v1.0h-1.0zM68.5 254.5h1.0v1.0h-1.0zM75.9 247.7h1.0v1.0h-1.0zM58.7 249.5h1.0v1.0h-1.0zM63.5 249.7h1.0v1.0h-1.0zM85.1 247.1h1.0v1.0h-1.0zM69.0 253.1h1.0v1.0h-1.0zM63.7 249.5h1.0v1.0h-1.0zM55.7 248.9h1.0v1.0h-1.0zM81.1 261.3h1.0v1.0h-1.0zM67.6 257.4h1.0v1.0h-1.0zM73.9 254.1h1.0v1.0h-1.0zM68.8 260.2h1.0v1.0h-1.0zM74.9 252.3h1.0v1.0h-1.0zM68.0 258.7h1.0v1.0h-1.0zM64.9 249.5h1.0v1.0h-1.0zM67.7 250.8h1.0v1.0h-1.0zM80.8 255.5h1.0v1.0h-1.0zM69.3 250.6h1.0v1.0h-1.0zM82.1 255.9h1.0v1.0h-1.0zM68.2 250.5h1.0v1.0h-1.0zM67.6 254.5h1.0v1.0h-1.0zM76.7 256.2h1.0v1.0h-1.0zM83.4 245.1h1.0v1.0h-1.0zM70.2 245.7h1.0v1.0h-1.0zM61.2 250.2h1.0v1.0h-1.0zM64.5 248.1h1.0v1.0h-1.0zM57.0 259.8h1.0v1.0h-1.0zM67.3 258.8h1.0v1.0h-1.0zM60.6 240.7h1.0v1.0h-1.0zM64.9 258.4h1.0v1.0h-1.0zM65.2 255.7h1.0v1.0h-1.0zM60.8 261.2h1.0v1.0h-1.0zM73.7 259.3h1.0v1.0h-1.0zM67.6 260.6h1.0v1.0h-1.0zM70.6 250.8h1.0v1.0h-1.0zM64.5 253.8h1.0v1.0h-1.0zM62.3 246.9h1.0v1.0h-1.0zM71.1 257.4h1.0v1.0h-1.0zM67.5 258.1h1.0v1.0h-1.0zM83.5 246.5h1.0v1.0h-1.0zM72.2 248.2h1.0v1.0h-1.0zM64.5 254.5h1.0v1.0h-1.0zM77.1 256.5h1.0v1.0h-1.0zM75.5 263.5h1.0v1.0h-1.0zM66.9 259.5h1.0v1.0h-1.0zM82.3 256.2h1.0v1.0h-1.0zM54.8 252.6h1.0v1.0h-1.0zM67.5 244.6h1.0v1.0h-1.0zM69.5 257.7h1.0v1.0h-1.0zM67.8 252.5h1.0v1.0h-1.0zM82.5 250.1h1.0v1.0h-1.0zM62.0 253.7h1.0v1.0h-1.0zM79.6 256.8h1.0v1.0h-1.0zM70.6 250.8h1.0v1.0h-1.0zM80.5 258.4h1.0v1.0h-1.0zM55.2 255.3h1.0v1.0h-1.0zM75.2 250.0h1.0v1.0h-1.0zM59.0 251.8h1.0v1.0h-1.0zM55.1 256.6h1.0v1.0h-1.0zM65.6 243.7h1.0v1.0h-1.0zM69.8 260.0h1.0v1.0h-1.0zM59.2 251.5h1.0v1.0h-1.0zM85.5 254.5h1.0v1.0h-1.0zM65.3 254.5h1.0v1.0h-1.0zM76.6 248.0h1.0v1.0h-1.0zM69.2 244.5h1.0v1.0h-1.0zM56.5 245.0h1.0v1.0h-1.0zM77.2 255.2h1.0v1.0h-1.0zM76.2 260.2h1.0v1.0h-1.0zM70.4 254.8h1.0v1.0h-1.0zM73.4 256.1h1.0v1.0h-1.0zM60.9 252.0h1.0v1.0h-1.0zM68.7 253.7h1.0v1.0h-1.0zM63.6 252.8h1.0v1.0h-1.0zM72.4 254.5h1.0v1.0h-1.0zM75.0 258.0h1.0v1.0h-1.0zM74.7 258.8h1.0v1.0h-1.0zM77.2 261.2h1.0v1.0h-1.0zM75.3 250.1h1.0v1.0h-1.0zM80.6 257.5h1.0v1.0h-1.0zM70.4 247.2h1.0v1.0h-1.0zM73.7 251.5h1.0v1.0h-1.0zM66.6 241.7h1.0v1.0h-1.0zM83.2 247.1h1.0v1.0h-1.0zM60.6 256.1h1.0v1.0h-1.0zM74.8 249.1h1.0v1.0h-1.0zM69.9 254.9h1.0v1.0h-1.0zM71.3 256.4h1.0v1.0h-1.0zM76.6 251.5h1.0v1.0h-1.0zM56.2 265.4h1.0v1.0h-1.0zM66.7 248.0h1.0v1.0h-1.0zM76.4 256.7h1.0v1.0h-1.0zM64.7 266.5h1.0v1.0h-1.0zM69.7 255.2h1.0v1.0h-1.0zM72.7 252.2h1.0v1.0h-1.0zM72.7 246.3h1.0v1.0h-1.0zM66.6 263.7h1.0v1.0h-1.0zM77.5 251.2h1.0v1.0h-1.0zM65.1 245.2h1.0v1.0h-1.0zM69.0 252.5h1.0v1.0h-1.0zM64.5 244.9h1.0v1.0h-1.0zM71.3 255.8h1.0v1.0h-1.0zM79.7 256.3h1.0v1.0h-1.0zM83.0 260.1h1.0v1.0h-1.0zM69.1 247.7h1.0v1.0h-1.0zM73.7 258.8h1.0v1.0h-1.0zM56.8 246.7h1.0v1.0h-1.0zM75.9 250.4h1.0v1.0h-1.0zM82.4 254.7h1.0v1.0h-1.0zM65.3 246.2h1.0v1.0h-1.0zM75.1 244.0h1.0v1.0h-1.0zM58.9 246.3h1.0v1.0h-1.0zM84.5 262.9h1.0v1.0h-1.0zM68.1 251.4h1.0v1.0h-1.0zM76.0 260.4h1.0v1.0h-1.0zM63.1 265.6h1.0v1.0h-1.0zM68.2 259.7h1.0v1.0h-1.0zM64.0 264.4h1.0v1.0h-1.0zM68.2 246.5h1.0v1.0h-1.0zM86.6 249.7h1.0v1.0h-1.0zM70.0 246.6h1.0v1.0h-1.0zM75.8 254.6h1.0v1.0h-1.0zM67.5 251.3h1.0v1.0h-1.0zM65.1 249.5h1.0v1.0h-1.0zM58.0 260.1h1.0v1.0h-1.0zM77.6 245.8h1.0v1.0h-1.0zM60.1 255.7h1.0v1.0h-1.0zM67.3 252.1h1.0v1.0h-1.0zM72.1 252.5h1.0v1.0h-1.0zM79.2 258.9h1.0v1.0h-1.0zM74.7 262.2h1.0v1.0h-1.0zM68.0 250.5h1.0v1.0h-1.0zM56.7 240.5h1.0v1.0h-1.0zM73.0 247.6h1.0v1.0h-1.0zM79.0 241.9h1.0v1.0h-1.0zM68.8 251.3h1.0v1.0h-1.0zM60.8 259.7h1.0v1.0h-1.0zM66.6 256.0h1.0v1.0h-1.0zM65.5 254.3h1.0v1.0h-1.0zM66.2 253.9h1.0v1.0h-1.0zM69.1 249.7h1.0v1.0h-1.0zM73.7 252.5h1.0v1.0h-1.0zM61.7 247.7h1.0v1.0h-1.0zM73.8 260.8h1.0v1.0h-1.0zM58.8 251.2h1.0v1.0h-1.0zM73.8 259.2h1.0v1.0h-1.0zM76.1 247.0h1.0v1.0h-1.0zM70.3 258.5h1.0v1.0h-1.0zM72.0 252.2h1.0v1.0h-1.0zM59.9 254.4h1.0v1.0h-1.0zM69.4 253.7h1.0v1.0h-1.0zM82.8 260.0h1.0v1.0h-1.0zM63.2 254.8h1.0v1.0h-1.0zM67.3 254.0h1.0v1.0h-1.0zM83.9 258.5h1.0v1.0h-1.0zM70.3 249.9h1.0v1.0h-1.0zM68.6 255.5h1.0v1.0h-1.0zM65.7 259.6h1.0v1.0h-1.0zM70.2 247.0h1.0v1.0h-1.0zM67.7 252.8h1.0v1.0h-1.0zM78.4 259.6h1.0v1.0h-1.0zM82.4 262.1h1.0v1.0h-1.0zM72.7 254.1h1.0v1.0h-1.0zM78.7 253.4h1.0v1.0h-1.0zM59.2 251.0h1.0v1.0h-1.0zM75.7 256.9h1.0v1.0h-1.0zM60.6 260.1h1.0v1.0h-1.0zM72.6 245.2h1.0v1.0h-1.0zM74.0 259.0h1.0v1.0h-1.0zM74.5 251.8h1.0v1.0h-1.0zM63.2 259.7h1.0v1.0h-1.0zM71.9 253.5h1.0v1.0h-1.0zM66.6 247.8h1.0v1.0h-1.0zM54.0 251.6h1.0v1.0h-1.0zM79.5 257.7h1.0v1.0h-1.0zM64.2 261.9h1.0v1.0h-1.0zM68.0 247.9h1.0v1.0h-1.0zM78.3 261.1h1.0v1.0h-1.0zM66.7 246.8h1.0v1.0h-1.0zM69.4 240.1h1.0v1.0h-1.0zM70.5 261.9h1.0v1.0h-1.0zM72.3 249.4h1.0v1.0h-1.0zM76.0 250.8h1.0v1.0h-1.0zM80.8 251.5h1.0v1.0h-1.0zM71.6 248.3h1.0v1.0h-1.0zM59.1 255.4h1.0v1.0h-1.0zM73.0 248.1h1.0v1.0h-1.0zM74.8 251.2h1.0v1.0h-1.0zM65.3 253.1h1.0v1.0h-1.0zM73.4 257.5h1.0v1.0h-1.0zM80.6 255.6h1.0v1.0h-1.0zM63.8 249.7h1.0v1.0h-1.0zM73.2 246.9h1.0v1.0h-1.0zM68.5 251.4h1.0v1.0h-1.0zM69.2 254.5h1.0v1.0h-1.0zM78.9 262.5h1.0v1.0h-1.0zM77.5 259.1h1.0v1.0h-1.0zM60.9 259.2h1.0v1.0h-1.0zM81.1 246.0h1.0v1.0h-1.0zM70.5 249.1h1.0v1.0h-1.0zM65.1 259.4h1.0v1.0h-1.0zM72.2 251.4h1.0v1.0h-1.0zM79.8 248.3h1.0v1.0h-1.0zM62.8 250.4h1.0v1.0h-1.0zM63.6 257.3h1.0v1.0h-1.0zM68.0 247.7h1.0v1.0h-1.0zM66.1 242.5h1.0v1.0h-1.0zM71.4 254.1h1.0v1.0h-1.0zM75.2 252.2h1.0v1.0h-1.0zM73.4 248.3h1.0v1.0h-1.0zM70.2 254.4h1.0v1.0h-1.0zM59.6 256.7h1.0v1.0h-1.0zM71.2 253.8h1.0v1.0h-1.0zM65.9 264.5h1.0v1.0h-1.0zM70.0 249.3h1.0v1.0h-1.0zM62.8 256.8h1.0v1.0h-1.0zM68.2 249.1h1.0v1.0h-1.0zM63.8 258.6h1.0v1.0h-1.0zM70.7 259.3h1.0v1.0h-1.0zM69.9 247.0h1.0v1.0h-1.0zM77.4 255.3h1.0v1.0h-1.0zM64.4 251.8h1.0v1.0h-1.0zM61.7 258.1h1.0v1.0h-1.0zM66.4 256.1h1.0v1.0h-1.0zM72.2 252.1h1.0v1.0h-1.0zM73.2 252.1h1.0v1.0h-1.0zM59.9 251.2h1.0v1.0h-1.0zM60.0 257.7h1.0v1.0h-1.0zM75.5 250.3h1.0v1.0h-1.0zM75.3 254.9h1.0v1.0h-1.0zM78.3 248.4h1.0v1.0h-1.0zM70.2 248.0h1.0v1.0h-1.0zM64.2 261.0h1.0v1.0h-1.0zM74.1 257.8h1.0v1.0h-1.0zM63.3 242.3h1.0v1.0h-1.0zM55.4 255.5h1.0v1.0h-1.0zM79.4 258.5h1.0v1.0h-1.0zM63.8 260.9h1.0v1.0h-1.0zM68.4 256.9h1.0v1.0h-1.0zM68.4 262.3h1.0v1.0h-1.0zM65.6 241.7h1.0v1.0h-1.0zM67.3 254.5h1.0v1.0h-1.0zM72.4 249.6h1.0v1.0h-1.0zM68.0 247.3h1.0v1.0h-1.0zM68.0 254.0h1.0v1.0h-1.0zM72.0 262.5h1.0v1.0h-1.0zM73.7 247.1h1.0v1.0h-1.0zM70.6 253.5h1.0v1.0h-1.0zM61.5 257.5h1.0v1.0h-1.0zM86.2 257.2h1.0v1.0h-1.0zM76.6 259.4h1.0v1.0h-1.0zM68.9 258.8h1.0v1.0h-1.0zM63.1 254.5h1.0v1.0h-1.0zM76.0 260.7h1.0v1.0h-1.0zM67.6 251.9h1.0v1.0h-1.0zM74.0 253.1h1.0v1.0h-1.0zM71.2 257.9h1.0v1.0h-1.0zM63.5 258.3h1.0v1.0h-1.0zM73.2 252.0h1.0v1.0h-1.0zM59.4 250.0h1.0v1.0h-1.0zM69.6 258.6h1.0v1.0h-1.0zM53.3 257.4h1.0v1.0h-1.0zM71.6 247.3h1.0v1.0h-1.0zM77.3 255.7h1.0v1.0h-1.0zM73.7 248.1h1.0v1.0h-1.0zM60.6 258.5h1.0v1.0h-1.0zM81.9 255.5h1.0v1.0h-1.0zM68.4 251.0h1.0v1.0h-1.0zM55.5 258.9h1.0v1.0h-1.0zM69.2 260.2h1.0v1.0h-1.0zM63.9 259.3h1.0v1.0h-1.0zM64.0 256.7h1.0v1.0h-1.0zM81.6 249.6h1.0v1.0h-1.0zM77.7 253.5h1.0v1.0h-1.0zM62.1 254.6h1.0v1.0h-1.0zM75.5 249.6h1.0v1.0h-1.0zM67.7 250.4h1.0v1.0h-1.0zM63.5 252.4h1.0v1.0h-1.0zM77.0 250.8h1.0v1.0h-1.0zM80.5 251.4h1.0v1.0h-1.0zM64.2 259.4h1.0v1.0h-1.0zM81.9 249.9h1.0v1.0h-1.0zM74.9 247.1h1.0v1.0h-1.0zM66.6 251.5h1.0v1.0h-1.0zM76.0 246.7h1.0v1.0h-1.0zM65.7 249.7h1.0v1.0h-1.0zM70.8 246.8h1.0v1.0h-1.0zM71.8 245.3h1.0v1.0h-1.0zM77.0 246.3h1.0v1.0h-1.0zM54.1 262.6h1.0v1.0h-1.0zM80.5 248.9h1.0v1.0h-1.0zM60.8 256.1h1.0v1.0h-1.0zM75.6 247.0h1.0v1.0h-1.0zM55.0 255.6h1.0v1.0h-1.0zM78.5 254.2h1.0v1.0h-1.0zM70.0 261.0h1.0v1.0h-1.0zM62.9 259.5h1.0v1.0h-1.0zM77.0 250.1h1.0v1.0h-1.0zM71.0 254.1h1.0v1.0h-1.0zM74.9 248.2h1.0v1.0h-1.0zM68.0 254.0h1.0v1.0h-1.0zM70.2 253.6h1.0v1.0h-1.0zM72.1 252.5h1.0v1.0h-1.0zM65.8 259.1h1.0v1.0h-1.0zM64.6 251.8h1.0v1.0h-1.0z" fill="#d070f4" opacity="0.55"/>
<ellipse cx="70" cy="254" rx="10" ry="5" fill="#c030ee" filter="url(#b15)"/>
<path d="M63.9 249.5h1.0v1.0h-1.0zM73.1 253.8h1.0v1.0h-1.0zM69.1 255.8h1.0v1.0h-1.0zM68.8 256.7h1.0v1.0h-1.0zM82.5 255.4h1.0v1.0h-1.0zM68.2 260.5h1.0v1.0h-1.0zM74.9 247.4h1.0v1.0h-1.0zM79.2 254.8h1.0v1.0h-1.0zM75.9 249.4h1.0v1.0h-1.0zM64.1 251.4h1.0v1.0h-1.0zM73.8 249.6h1.0v1.0h-1.0zM65.1 257.8h1.0v1.0h-1.0zM65.6 254.5h1.0v1.0h-1.0zM63.8 247.3h1.0v1.0h-1.0zM69.4 253.5h1.0v1.0h-1.0zM60.1 257.8h1.0v1.0h-1.0zM75.6 257.5h1.0v1.0h-1.0zM66.5 249.5h1.0v1.0h-1.0zM69.4 254.6h1.0v1.0h-1.0zM68.8 251.7h1.0v1.0h-1.0zM63.1 251.1h1.0v1.0h-1.0zM69.4 252.1h1.0v1.0h-1.0zM81.5 252.9h1.0v1.0h-1.0zM73.1 252.2h1.0v1.0h-1.0zM68.7 250.2h1.0v1.0h-1.0zM66.7 248.1h1.0v1.0h-1.0zM55.7 259.3h1.0v1.0h-1.0zM62.7 255.7h1.0v1.0h-1.0zM69.1 251.8h1.0v1.0h-1.0zM75.0 251.8h1.0v1.0h-1.0zM73.0 252.5h1.0v1.0h-1.0zM76.7 257.8h1.0v1.0h-1.0zM70.4 258.3h1.0v1.0h-1.0zM73.5 260.1h1.0v1.0h-1.0zM69.2 247.9h1.0v1.0h-1.0zM71.4 254.9h1.0v1.0h-1.0zM67.5 253.2h1.0v1.0h-1.0zM68.1 249.1h1.0v1.0h-1.0zM81.8 251.0h1.0v1.0h-1.0zM62.6 247.8h1.0v1.0h-1.0zM64.2 253.8h1.0v1.0h-1.0zM80.1 256.3h1.0v1.0h-1.0zM65.0 249.1h1.0v1.0h-1.0zM62.3 253.7h1.0v1.0h-1.0zM75.9 252.1h1.0v1.0h-1.0zM81.0 261.6h1.0v1.0h-1.0zM71.1 245.5h1.0v1.0h-1.0zM77.5 253.6h1.0v1.0h-1.0zM74.6 257.9h1.0v1.0h-1.0zM63.1 254.2h1.0v1.0h-1.0zM71.2 251.0h1.0v1.0h-1.0zM74.8 253.5h1.0v1.0h-1.0zM67.2 261.4h1.0v1.0h-1.0zM71.1 260.4h1.0v1.0h-1.0zM68.9 258.1h1.0v1.0h-1.0zM64.8 254.6h1.0v1.0h-1.0zM77.4 245.5h1.0v1.0h-1.0zM73.7 252.9h1.0v1.0h-1.0zM77.4 254.7h1.0v1.0h-1.0zM69.5 249.0h1.0v1.0h-1.0zM67.8 251.2h1.0v1.0h-1.0zM67.9 254.9h1.0v1.0h-1.0zM60.8 258.1h1.0v1.0h-1.0zM68.2 256.3h1.0v1.0h-1.0zM55.5 251.9h1.0v1.0h-1.0zM67.9 252.5h1.0v1.0h-1.0zM65.4 255.2h1.0v1.0h-1.0zM72.8 250.1h1.0v1.0h-1.0zM56.5 256.8h1.0v1.0h-1.0zM67.8 258.2h1.0v1.0h-1.0zM75.9 253.6h1.0v1.0h-1.0zM60.2 252.6h1.0v1.0h-1.0zM65.0 258.9h1.0v1.0h-1.0zM58.4 257.6h1.0v1.0h-1.0zM59.4 251.8h1.0v1.0h-1.0zM60.3 251.3h1.0v1.0h-1.0zM66.9 255.4h1.0v1.0h-1.0zM65.9 256.7h1.0v1.0h-1.0zM81.9 254.6h1.0v1.0h-1.0zM62.1 253.3h1.0v1.0h-1.0zM69.3 252.6h1.0v1.0h-1.0zM77.8 258.5h1.0v1.0h-1.0zM83.7 256.0h1.0v1.0h-1.0zM74.5 250.8h1.0v1.0h-1.0zM65.9 257.5h1.0v1.0h-1.0zM70.9 249.6h1.0v1.0h-1.0zM66.0 241.9h1.0v1.0h-1.0zM69.9 249.2h1.0v1.0h-1.0zM69.6 249.3h1.0v1.0h-1.0zM63.6 252.0h1.0v1.0h-1.0zM61.9 251.9h1.0v1.0h-1.0zM77.2 257.1h1.0v1.0h-1.0zM74.7 252.7h1.0v1.0h-1.0zM70.8 251.0h1.0v1.0h-1.0zM68.7 250.8h1.0v1.0h-1.0zM60.0 250.1h1.0v1.0h-1.0zM83.1 255.5h1.0v1.0h-1.0zM64.8 253.6h1.0v1.0h-1.0zM66.9 258.8h1.0v1.0h-1.0zM69.8 251.5h1.0v1.0h-1.0zM74.6 255.2h1.0v1.0h-1.0zM65.3 251.0h1.0v1.0h-1.0zM70.9 247.6h1.0v1.0h-1.0zM63.7 257.9h1.0v1.0h-1.0zM75.8 258.4h1.0v1.0h-1.0zM66.9 251.7h1.0v1.0h-1.0zM68.1 252.1h1.0v1.0h-1.0zM78.7 253.1h1.0v1.0h-1.0zM79.2 251.2h1.0v1.0h-1.0zM72.5 260.3h1.0v1.0h-1.0zM64.9 251.4h1.0v1.0h-1.0zM65.8 247.7h1.0v1.0h-1.0zM67.9 251.5h1.0v1.0h-1.0zM85.0 252.1h1.0v1.0h-1.0zM55.3 257.7h1.0v1.0h-1.0zM76.4 253.8h1.0v1.0h-1.0zM71.9 256.8h1.0v1.0h-1.0zM66.1 254.1h1.0v1.0h-1.0zM70.9 260.5h1.0v1.0h-1.0zM79.6 254.6h1.0v1.0h-1.0zM60.8 257.4h1.0v1.0h-1.0zM69.6 258.6h1.0v1.0h-1.0zM70.3 254.7h1.0v1.0h-1.0zM74.4 251.1h1.0v1.0h-1.0zM65.4 263.0h1.0v1.0h-1.0zM64.0 257.6h1.0v1.0h-1.0zM74.6 257.2h1.0v1.0h-1.0zM79.3 248.7h1.0v1.0h-1.0zM76.4 245.9h1.0v1.0h-1.0zM70.3 255.3h1.0v1.0h-1.0zM76.9 258.2h1.0v1.0h-1.0zM63.6 252.9h1.0v1.0h-1.0zM68.8 251.3h1.0v1.0h-1.0zM64.3 251.4h1.0v1.0h-1.0zM77.7 259.3h1.0v1.0h-1.0zM75.0 260.6h1.0v1.0h-1.0zM70.5 249.7h1.0v1.0h-1.0zM65.5 254.8h1.0v1.0h-1.0zM76.9 258.7h1.0v1.0h-1.0zM63.8 257.7h1.0v1.0h-1.0zM66.3 256.3h1.0v1.0h-1.0zM76.2 259.8h1.0v1.0h-1.0zM66.3 254.9h1.0v1.0h-1.0zM72.8 252.3h1.0v1.0h-1.0zM70.5 256.3h1.0v1.0h-1.0zM58.7 251.5h1.0v1.0h-1.0zM85.6 255.8h1.0v1.0h-1.0zM66.1 246.8h1.0v1.0h-1.0zM63.4 256.0h1.0v1.0h-1.0zM74.5 255.7h1.0v1.0h-1.0zM73.9 251.6h1.0v1.0h-1.0zM80.8 249.6h1.0v1.0h-1.0zM73.4 252.9h1.0v1.0h-1.0zM58.3 257.5h1.0v1.0h-1.0zM68.0 256.8h1.0v1.0h-1.0zM78.6 254.6h1.0v1.0h-1.0zM65.4 253.1h1.0v1.0h-1.0zM69.4 259.7h1.0v1.0h-1.0zM75.7 260.2h1.0v1.0h-1.0zM75.1 251.0h1.0v1.0h-1.0zM76.2 257.8h1.0v1.0h-1.0zM69.1 255.8h1.0v1.0h-1.0zM67.7 249.0h1.0v1.0h-1.0zM69.3 257.0h1.0v1.0h-1.0zM67.4 245.2h1.0v1.0h-1.0zM64.5 258.3h1.0v1.0h-1.0zM71.4 258.4h1.0v1.0h-1.0zM64.8 252.3h1.0v1.0h-1.0zM63.1 250.9h1.0v1.0h-1.0zM73.4 254.5h1.0v1.0h-1.0zM66.6 255.2h1.0v1.0h-1.0zM61.0 252.5h1.0v1.0h-1.0zM59.7 248.1h1.0v1.0h-1.0zM60.6 249.7h1.0v1.0h-1.0zM80.6 259.4h1.0v1.0h-1.0zM78.5 251.7h1.0v1.0h-1.0zM74.1 249.5h1.0v1.0h-1.0zM66.2 254.9h1.0v1.0h-1.0zM59.0 254.8h1.0v1.0h-1.0zM74.1 245.9h1.0v1.0h-1.0zM53.3 252.9h1.0v1.0h-1.0zM69.1 254.6h1.0v1.0h-1.0zM62.2 256.2h1.0v1.0h-1.0zM70.7 251.1h1.0v1.0h-1.0zM81.1 255.0h1.0v1.0h-1.0zM74.9 261.3h1.0v1.0h-1.0zM66.5 253.1h1.0v1.0h-1.0zM58.1 253.1h1.0v1.0h-1.0zM72.9 263.9h1.0v1.0h-1.0zM73.7 254.8h1.0v1.0h-1.0zM61.3 250.6h1.0v1.0h-1.0zM57.3 248.6h1.0v1.0h-1.0zM70.6 255.2h1.0v1.0h-1.0zM63.7 253.1h1.0v1.0h-1.0zM64.4 256.4h1.0v1.0h-1.0zM74.2 251.8h1.0v1.0h-1.0zM66.8 249.2h1.0v1.0h-1.0zM66.7 262.6h1.0v1.0h-1.0zM69.8 257.4h1.0v1.0h-1.0zM73.8 259.8h1.0v1.0h-1.0zM67.7 250.4h1.0v1.0h-1.0zM77.0 257.6h1.0v1.0h-1.0zM65.4 258.3h1.0v1.0h-1.0zM69.8 253.8h1.0v1.0h-1.0zM82.4 256.1h1.0v1.0h-1.0zM72.0 252.7h1.0v1.0h-1.0zM71.2 258.2h1.0v1.0h-1.0zM73.0 251.0h1.0v1.0h-1.0zM72.9 253.5h1.0v1.0h-1.0zM72.0 253.2h1.0v1.0h-1.0zM55.0 247.6h1.0v1.0h-1.0zM67.3 245.3h1.0v1.0h-1.0zM59.6 262.0h1.0v1.0h-1.0zM74.6 252.2h1.0v1.0h-1.0zM72.1 245.1h1.0v1.0h-1.0zM71.6 257.9h1.0v1.0h-1.0zM71.2 248.8h1.0v1.0h-1.0zM76.5 251.9h1.0v1.0h-1.0zM66.0 254.8h1.0v1.0h-1.0zM67.8 262.1h1.0v1.0h-1.0zM68.9 262.5h1.0v1.0h-1.0zM73.0 249.1h1.0v1.0h-1.0zM69.9 254.2h1.0v1.0h-1.0zM79.7 259.1h1.0v1.0h-1.0zM66.9 263.2h1.0v1.0h-1.0zM63.8 255.4h1.0v1.0h-1.0zM80.9 250.0h1.0v1.0h-1.0zM67.5 251.0h1.0v1.0h-1.0zM73.5 255.6h1.0v1.0h-1.0zM69.6 256.6h1.0v1.0h-1.0zM64.5 252.5h1.0v1.0h-1.0zM73.1 262.0h1.0v1.0h-1.0zM69.6 254.2h1.0v1.0h-1.0zM78.9 254.3h1.0v1.0h-1.0zM78.8 254.9h1.0v1.0h-1.0zM77.8 254.7h1.0v1.0h-1.0zM63.6 250.6h1.0v1.0h-1.0zM72.8 261.5h1.0v1.0h-1.0zM82.6 252.7h1.0v1.0h-1.0zM64.1 257.7h1.0v1.0h-1.0zM59.5 257.6h1.0v1.0h-1.0zM72.5 256.5h1.0v1.0h-1.0zM61.6 255.5h1.0v1.0h-1.0zM76.3 253.8h1.0v1.0h-1.0zM76.9 254.1h1.0v1.0h-1.0zM72.2 252.7h1.0v1.0h-1.0zM60.6 253.4h1.0v1.0h-1.0zM73.3 251.0h1.0v1.0h-1.0zM56.5 247.8h1.0v1.0h-1.0zM78.9 253.1h1.0v1.0h-1.0zM64.6 258.9h1.0v1.0h-1.0zM68.7 248.0h1.0v1.0h-1.0zM66.9 250.5h1.0v1.0h-1.0zM68.6 250.4h1.0v1.0h-1.0zM70.4 255.8h1.0v1.0h-1.0zM66.0 253.2h1.0v1.0h-1.0zM68.8 257.3h1.0v1.0h-1.0zM65.0 257.0h1.0v1.0h-1.0zM78.5 253.2h1.0v1.0h-1.0zM63.3 252.8h1.0v1.0h-1.0zM57.7 251.8h1.0v1.0h-1.0zM61.7 253.3h1.0v1.0h-1.0zM67.3 256.1h1.0v1.0h-1.0zM70.7 255.7h1.0v1.0h-1.0zM69.6 255.1h1.0v1.0h-1.0zM62.1 256.6h1.0v1.0h-1.0zM78.8 258.4h1.0v1.0h-1.0zM60.7 255.7h1.0v1.0h-1.0zM58.7 257.0h1.0v1.0h-1.0zM68.5 252.2h1.0v1.0h-1.0zM64.8 253.1h1.0v1.0h-1.0zM69.9 250.2h1.0v1.0h-1.0zM70.3 255.0h1.0v1.0h-1.0zM73.5 253.8h1.0v1.0h-1.0zM69.9 263.2h1.0v1.0h-1.0zM76.8 255.3h1.0v1.0h-1.0zM60.4 256.5h1.0v1.0h-1.0zM73.8 243.4h1.0v1.0h-1.0zM68.8 255.5h1.0v1.0h-1.0zM70.2 254.4h1.0v1.0h-1.0zM68.8 259.5h1.0v1.0h-1.0zM72.5 252.9h1.0v1.0h-1.0zM68.3 262.3h1.0v1.0h-1.0zM64.0 251.9h1.0v1.0h-1.0zM72.1 254.6h1.0v1.0h-1.0zM72.0 259.4h1.0v1.0h-1.0zM77.7 255.7h1.0v1.0h-1.0zM70.2 253.8h1.0v1.0h-1.0zM68.3 258.0h1.0v1.0h-1.0zM61.2 249.8h1.0v1.0h-1.0zM66.8 250.2h1.0v1.0h-1.0zM64.8 258.8h1.0v1.0h-1.0zM54.4 256.3h1.0v1.0h-1.0zM60.9 253.0h1.0v1.0h-1.0zM66.0 250.0h1.0v1.0h-1.0zM59.7 254.3h1.0v1.0h-1.0zM67.2 258.4h1.0v1.0h-1.0zM82.7 252.8h1.0v1.0h-1.0zM64.4 252.9h1.0v1.0h-1.0zM73.1 257.7h1.0v1.0h-1.0zM63.3 255.9h1.0v1.0h-1.0zM69.7 258.6h1.0v1.0h-1.0zM67.1 253.2h1.0v1.0h-1.0zM64.0 248.7h1.0v1.0h-1.0zM71.8 256.8h1.0v1.0h-1.0zM77.7 255.1h1.0v1.0h-1.0zM66.7 250.3h1.0v1.0h-1.0zM61.9 251.1h1.0v1.0h-1.0zM72.2 254.4h1.0v1.0h-1.0zM54.1 253.6h1.0v1.0h-1.0zM67.9 249.8h1.0v1.0h-1.0zM69.8 256.1h1.0v1.0h-1.0zM62.8 248.6h1.0v1.0h-1.0zM67.7 255.1h1.0v1.0h-1.0zM68.1 260.2h1.0v1.0h-1.0zM70.9 250.0h1.0v1.0h-1.0zM75.3 251.4h1.0v1.0h-1.0zM74.7 254.4h1.0v1.0h-1.0zM78.4 250.0h1.0v1.0h-1.0zM74.9 255.7h1.0v1.0h-1.0zM63.7 256.8h1.0v1.0h-1.0zM85.6 255.4h1.0v1.0h-1.0zM64.6 253.4h1.0v1.0h-1.0zM78.9 255.0h1.0v1.0h-1.0zM80.2 251.4h1.0v1.0h-1.0zM79.0 247.7h1.0v1.0h-1.0zM68.8 252.8h1.0v1.0h-1.0zM66.5 258.9h1.0v1.0h-1.0zM65.8 255.4h1.0v1.0h-1.0zM82.8 257.3h1.0v1.0h-1.0zM67.1 251.1h1.0v1.0h-1.0zM56.0 255.5h1.0v1.0h-1.0zM76.1 258.4h1.0v1.0h-1.0zM71.6 262.6h1.0v1.0h-1.0zM75.3 244.8h1.0v1.0h-1.0zM63.8 257.2h1.0v1.0h-1.0zM67.2 257.4h1.0v1.0h-1.0zM85.3 253.7h1.0v1.0h-1.0zM59.7 254.4h1.0v1.0h-1.0zM76.2 251.7h1.0v1.0h-1.0zM80.9 250.5h1.0v1.0h-1.0zM68.6 257.7h1.0v1.0h-1.0zM68.5 251.8h1.0v1.0h-1.0zM69.8 256.6h1.0v1.0h-1.0zM82.0 259.4h1.0v1.0h-1.0zM83.0 253.9h1.0v1.0h-1.0zM58.4 253.8h1.0v1.0h-1.0zM67.1 250.0h1.0v1.0h-1.0zM66.4 253.7h1.0v1.0h-1.0zM70.3 257.7h1.0v1.0h-1.0zM63.6 258.6h1.0v1.0h-1.0zM70.3 256.9h1.0v1.0h-1.0zM78.6 249.0h1.0v1.0h-1.0zM81.1 251.1h1.0v1.0h-1.0zM72.7 258.4h1.0v1.0h-1.0zM76.4 247.7h1.0v1.0h-1.0zM71.1 258.5h1.0v1.0h-1.0zM69.1 253.7h1.0v1.0h-1.0zM70.5 260.6h1.0v1.0h-1.0zM66.2 250.2h1.0v1.0h-1.0zM62.3 251.9h1.0v1.0h-1.0zM68.3 255.4h1.0v1.0h-1.0zM69.4 247.1h1.0v1.0h-1.0zM59.0 256.7h1.0v1.0h-1.0zM75.0 248.6h1.0v1.0h-1.0zM76.5 244.3h1.0v1.0h-1.0zM86.2 256.4h1.0v1.0h-1.0zM58.4 256.0h1.0v1.0h-1.0zM69.7 252.2h1.0v1.0h-1.0zM67.4 253.1h1.0v1.0h-1.0zM69.3 250.4h1.0v1.0h-1.0zM66.0 256.2h1.0v1.0h-1.0zM73.7 248.7h1.0v1.0h-1.0zM66.5 260.3h1.0v1.0h-1.0zM75.0 260.6h1.0v1.0h-1.0zM60.5 249.8h1.0v1.0h-1.0zM54.8 246.2h1.0v1.0h-1.0zM67.4 249.8h1.0v1.0h-1.0zM62.4 251.2h1.0v1.0h-1.0zM68.7 257.3h1.0v1.0h-1.0zM73.9 247.0h1.0v1.0h-1.0zM80.4 252.7h1.0v1.0h-1.0zM63.0 253.9h1.0v1.0h-1.0zM67.2 248.4h1.0v1.0h-1.0zM80.9 251.7h1.0v1.0h-1.0zM65.8 256.2h1.0v1.0h-1.0zM81.7 255.9h1.0v1.0h-1.0zM63.7 255.8h1.0v1.0h-1.0zM77.7 255.5h1.0v1.0h-1.0zM74.5 252.1h1.0v1.0h-1.0zM69.5 247.3h1.0v1.0h-1.0zM65.0 249.4h1.0v1.0h-1.0zM70.0 260.0h1.0v1.0h-1.0zM54.2 248.7h1.0v1.0h-1.0zM63.5 253.6h1.0v1.0h-1.0zM78.1 250.9h1.0v1.0h-1.0zM64.5 258.9h1.0v1.0h-1.0zM72.6 256.1h1.0v1.0h-1.0zM75.8 251.0h1.0v1.0h-1.0zM71.6 251.4h1.0v1.0h-1.0zM64.9 254.5h1.0v1.0h-1.0zM73.0 248.9h1.0v1.0h-1.0zM64.6 256.4h1.0v1.0h-1.0zM71.2 256.7h1.0v1.0h-1.0zM67.8 250.8h1.0v1.0h-1.0zM75.5 256.4h1.0v1.0h-1.0zM64.7 256.7h1.0v1.0h-1.0zM81.0 252.9h1.0v1.0h-1.0zM63.2 255.0h1.0v1.0h-1.0zM70.6 256.3h1.0v1.0h-1.0zM60.1 255.0h1.0v1.0h-1.0zM76.3 256.8h1.0v1.0h-1.0zM74.4 258.8h1.0v1.0h-1.0zM64.2 258.9h1.0v1.0h-1.0zM71.5 250.0h1.0v1.0h-1.0zM67.9 255.1h1.0v1.0h-1.0zM72.3 259.4h1.0v1.0h-1.0zM71.3 252.0h1.0v1.0h-1.0zM85.3 252.7h1.0v1.0h-1.0zM64.2 257.7h1.0v1.0h-1.0zM67.1 250.8h1.0v1.0h-1.0zM62.5 258.8h1.0v1.0h-1.0zM62.5 254.4h1.0v1.0h-1.0zM66.8 253.2h1.0v1.0h-1.0zM64.3 254.6h1.0v1.0h-1.0zM74.2 258.2h1.0v1.0h-1.0zM67.5 249.3h1.0v1.0h-1.0zM59.6 254.0h1.0v1.0h-1.0zM70.2 254.5h1.0v1.0h-1.0zM60.2 251.4h1.0v1.0h-1.0zM64.8 256.7h1.0v1.0h-1.0zM67.1 256.5h1.0v1.0h-1.0zM73.6 246.3h1.0v1.0h-1.0zM68.4 259.1h1.0v1.0h-1.0zM66.4 254.5h1.0v1.0h-1.0zM69.1 249.1h1.0v1.0h-1.0zM85.3 253.5h1.0v1.0h-1.0zM74.5 252.2h1.0v1.0h-1.0zM79.8 258.6h1.0v1.0h-1.0zM78.3 257.8h1.0v1.0h-1.0zM74.9 259.6h1.0v1.0h-1.0zM72.8 254.6h1.0v1.0h-1.0zM75.7 250.4h1.0v1.0h-1.0zM71.1 251.2h1.0v1.0h-1.0zM68.1 250.2h1.0v1.0h-1.0zM64.1 254.8h1.0v1.0h-1.0zM70.9 257.4h1.0v1.0h-1.0zM69.4 256.6h1.0v1.0h-1.0zM74.8 251.2h1.0v1.0h-1.0zM58.1 251.3h1.0v1.0h-1.0z" fill="#c020ea" opacity="0.8"/>
<path d="M98.0 248.9h1.0v1.0h-1.0zM117.7 240.7h1.0v1.0h-1.0zM103.8 245.6h1.0v1.0h-1.0zM105.5 242.6h1.0v1.0h-1.0zM107.6 248.5h1.0v1.0h-1.0zM96.8 246.3h1.0v1.0h-1.0zM113.4 242.8h1.0v1.0h-1.0zM90.4 262.5h1.0v1.0h-1.0zM114.3 245.2h1.0v1.0h-1.0zM108.0 250.3h1.0v1.0h-1.0zM97.1 252.2h1.0v1.0h-1.0zM90.8 247.9h1.0v1.0h-1.0zM101.0 253.5h1.0v1.0h-1.0zM101.3 244.4h1.0v1.0h-1.0zM106.8 248.4h1.0v1.0h-1.0zM106.0 246.9h1.0v1.0h-1.0zM97.9 256.2h1.0v1.0h-1.0zM111.0 240.9h1.0v1.0h-1.0zM91.1 258.4h1.0v1.0h-1.0zM102.9 249.7h1.0v1.0h-1.0zM92.1 258.2h1.0v1.0h-1.0zM101.5 251.0h1.0v1.0h-1.0zM103.1 247.0h1.0v1.0h-1.0zM103.2 249.9h1.0v1.0h-1.0zM105.8 250.1h1.0v1.0h-1.0zM89.7 251.2h1.0v1.0h-1.0zM97.8 256.7h1.0v1.0h-1.0zM94.8 257.7h1.0v1.0h-1.0zM108.7 251.3h1.0v1.0h-1.0zM118.1 243.7h1.0v1.0h-1.0zM102.6 255.2h1.0v1.0h-1.0zM103.3 253.9h1.0v1.0h-1.0zM99.0 257.4h1.0v1.0h-1.0zM102.8 240.7h1.0v1.0h-1.0zM108.7 246.4h1.0v1.0h-1.0zM92.9 251.9h1.0v1.0h-1.0zM97.7 256.7h1.0v1.0h-1.0zM102.7 249.2h1.0v1.0h-1.0zM99.9 246.5h1.0v1.0h-1.0zM94.9 250.4h1.0v1.0h-1.0zM98.2 245.9h1.0v1.0h-1.0zM96.8 256.4h1.0v1.0h-1.0zM103.6 249.2h1.0v1.0h-1.0zM102.8 248.4h1.0v1.0h-1.0zM90.5 258.2h1.0v1.0h-1.0zM118.0 246.1h1.0v1.0h-1.0zM90.3 256.6h1.0v1.0h-1.0zM97.3 250.3h1.0v1.0h-1.0zM103.2 242.0h1.0v1.0h-1.0zM98.2 249.0h1.0v1.0h-1.0zM92.0 256.5h1.0v1.0h-1.0zM113.2 247.5h1.0v1.0h-1.0zM108.3 250.9h1.0v1.0h-1.0zM99.5 253.4h1.0v1.0h-1.0zM110.6 244.6h1.0v1.0h-1.0zM98.8 244.7h1.0v1.0h-1.0zM107.2 249.5h1.0v1.0h-1.0zM102.1 255.8h1.0v1.0h-1.0zM100.7 253.9h1.0v1.0h-1.0zM111.1 242.7h1.0v1.0h-1.0zM93.0 255.1h1.0v1.0h-1.0zM99.5 248.1h1.0v1.0h-1.0zM99.0 247.6h1.0v1.0h-1.0zM101.1 248.4h1.0v1.0h-1.0zM113.7 240.6h1.0v1.0h-1.0zM104.7 249.1h1.0v1.0h-1.0zM112.7 241.3h1.0v1.0h-1.0zM96.3 259.9h1.0v1.0h-1.0zM94.7 250.8h1.0v1.0h-1.0zM96.8 247.3h1.0v1.0h-1.0zM109.8 253.8h1.0v1.0h-1.0zM98.8 247.6h1.0v1.0h-1.0zM89.1 257.7h1.0v1.0h-1.0zM95.7 254.7h1.0v1.0h-1.0zM105.0 250.6h1.0v1.0h-1.0zM101.0 250.1h1.0v1.0h-1.0zM97.3 249.6h1.0v1.0h-1.0zM101.2 252.5h1.0v1.0h-1.0zM107.5 246.7h1.0v1.0h-1.0zM109.8 242.6h1.0v1.0h-1.0zM115.4 249.1h1.0v1.0h-1.0zM111.6 253.4h1.0v1.0h-1.0zM90.4 253.7h1.0v1.0h-1.0zM103.8 253.9h1.0v1.0h-1.0zM100.6 244.4h1.0v1.0h-1.0zM109.8 246.1h1.0v1.0h-1.0zM103.5 247.8h1.0v1.0h-1.0zM99.1 244.6h1.0v1.0h-1.0zM105.4 245.7h1.0v1.0h-1.0zM99.7 255.0h1.0v1.0h-1.0zM106.6 242.5h1.0v1.0h-1.0zM98.6 251.1h1.0v1.0h-1.0zM100.7 245.5h1.0v1.0h-1.0zM100.6 254.8h1.0v1.0h-1.0zM110.0 253.4h1.0v1.0h-1.0zM97.8 248.9h1.0v1.0h-1.0zM107.3 247.8h1.0v1.0h-1.0zM102.9 251.7h1.0v1.0h-1.0zM98.3 257.5h1.0v1.0h-1.0zM114.7 248.7h1.0v1.0h-1.0zM95.5 253.4h1.0v1.0h-1.0zM107.9 250.9h1.0v1.0h-1.0zM94.5 257.0h1.0v1.0h-1.0zM105.8 251.0h1.0v1.0h-1.0zM96.6 251.7h1.0v1.0h-1.0zM96.4 250.6h1.0v1.0h-1.0zM97.7 250.0h1.0v1.0h-1.0zM100.7 250.7h1.0v1.0h-1.0zM95.1 251.8h1.0v1.0h-1.0zM99.3 253.1h1.0v1.0h-1.0zM103.5 247.6h1.0v1.0h-1.0zM93.4 245.6h1.0v1.0h-1.0zM90.0 256.2h1.0v1.0h-1.0zM92.6 260.6h1.0v1.0h-1.0zM98.7 249.3h1.0v1.0h-1.0zM98.7 248.6h1.0v1.0h-1.0zM94.9 252.8h1.0v1.0h-1.0zM88.4 255.6h1.0v1.0h-1.0zM99.3 246.7h1.0v1.0h-1.0zM108.2 249.1h1.0v1.0h-1.0zM108.7 244.2h1.0v1.0h-1.0zM90.0 248.9h1.0v1.0h-1.0zM112.6 243.6h1.0v1.0h-1.0zM101.6 247.5h1.0v1.0h-1.0zM98.8 258.1h1.0v1.0h-1.0zM101.1 246.0h1.0v1.0h-1.0zM105.6 254.3h1.0v1.0h-1.0zM107.2 251.2h1.0v1.0h-1.0zM98.7 255.6h1.0v1.0h-1.0zM93.6 247.6h1.0v1.0h-1.0zM97.9 250.2h1.0v1.0h-1.0zM109.8 242.4h1.0v1.0h-1.0zM109.2 243.5h1.0v1.0h-1.0zM89.9 246.7h1.0v1.0h-1.0zM99.7 244.1h1.0v1.0h-1.0zM101.7 250.1h1.0v1.0h-1.0zM96.8 243.0h1.0v1.0h-1.0zM95.8 254.1h1.0v1.0h-1.0zM100.1 248.0h1.0v1.0h-1.0zM101.6 252.9h1.0v1.0h-1.0zM99.8 247.1h1.0v1.0h-1.0zM106.3 245.1h1.0v1.0h-1.0zM102.9 253.9h1.0v1.0h-1.0zM110.5 253.8h1.0v1.0h-1.0zM108.2 248.1h1.0v1.0h-1.0zM98.4 252.0h1.0v1.0h-1.0zM105.3 244.8h1.0v1.0h-1.0zM108.1 241.7h1.0v1.0h-1.0zM91.3 251.6h1.0v1.0h-1.0zM97.7 245.3h1.0v1.0h-1.0zM105.0 248.1h1.0v1.0h-1.0zM110.8 241.8h1.0v1.0h-1.0zM98.2 255.6h1.0v1.0h-1.0zM100.7 259.1h1.0v1.0h-1.0zM90.1 245.6h1.0v1.0h-1.0zM96.4 258.3h1.0v1.0h-1.0zM95.1 244.0h1.0v1.0h-1.0zM93.2 248.7h1.0v1.0h-1.0zM103.4 254.4h1.0v1.0h-1.0zM106.6 249.0h1.0v1.0h-1.0zM101.0 258.9h1.0v1.0h-1.0zM105.6 255.5h1.0v1.0h-1.0zM102.4 253.5h1.0v1.0h-1.0zM104.1 248.5h1.0v1.0h-1.0zM94.4 250.8h1.0v1.0h-1.0zM100.1 248.7h1.0v1.0h-1.0zM97.3 248.4h1.0v1.0h-1.0zM106.9 246.8h1.0v1.0h-1.0zM99.1 249.9h1.0v1.0h-1.0zM110.5 244.1h1.0v1.0h-1.0zM111.3 242.3h1.0v1.0h-1.0zM112.3 248.7h1.0v1.0h-1.0zM96.1 254.1h1.0v1.0h-1.0zM109.1 242.7h1.0v1.0h-1.0zM98.2 252.6h1.0v1.0h-1.0zM98.3 249.8h1.0v1.0h-1.0zM100.2 251.9h1.0v1.0h-1.0zM106.2 254.9h1.0v1.0h-1.0zM97.4 259.6h1.0v1.0h-1.0zM99.0 244.3h1.0v1.0h-1.0zM96.5 250.3h1.0v1.0h-1.0zM94.9 251.8h1.0v1.0h-1.0zM105.3 250.3h1.0v1.0h-1.0zM106.9 247.2h1.0v1.0h-1.0zM98.1 256.7h1.0v1.0h-1.0zM113.8 247.0h1.0v1.0h-1.0zM101.3 246.2h1.0v1.0h-1.0zM116.9 246.0h1.0v1.0h-1.0zM105.0 241.4h1.0v1.0h-1.0zM98.7 250.1h1.0v1.0h-1.0zM112.3 245.0h1.0v1.0h-1.0zM106.8 256.8h1.0v1.0h-1.0zM90.7 250.3h1.0v1.0h-1.0zM105.5 249.0h1.0v1.0h-1.0zM100.3 249.6h1.0v1.0h-1.0zM101.1 251.7h1.0v1.0h-1.0zM96.2 250.7h1.0v1.0h-1.0zM101.9 244.9h1.0v1.0h-1.0zM105.1 248.0h1.0v1.0h-1.0zM90.6 260.2h1.0v1.0h-1.0zM90.7 263.4h1.0v1.0h-1.0zM94.2 258.2h1.0v1.0h-1.0zM99.5 258.0h1.0v1.0h-1.0zM98.3 255.9h1.0v1.0h-1.0zM97.5 243.0h1.0v1.0h-1.0zM103.1 251.5h1.0v1.0h-1.0zM103.2 256.9h1.0v1.0h-1.0zM94.2 246.2h1.0v1.0h-1.0zM102.1 246.6h1.0v1.0h-1.0zM99.2 250.8h1.0v1.0h-1.0zM93.5 257.9h1.0v1.0h-1.0zM99.1 259.0h1.0v1.0h-1.0zM102.0 254.6h1.0v1.0h-1.0zM97.7 248.4h1.0v1.0h-1.0zM95.8 248.1h1.0v1.0h-1.0zM103.6 249.8h1.0v1.0h-1.0zM91.4 246.8h1.0v1.0h-1.0zM93.2 244.8h1.0v1.0h-1.0zM93.0 246.3h1.0v1.0h-1.0zM105.7 243.1h1.0v1.0h-1.0zM95.3 251.7h1.0v1.0h-1.0zM100.3 252.3h1.0v1.0h-1.0zM106.1 251.1h1.0v1.0h-1.0zM97.3 257.2h1.0v1.0h-1.0zM103.0 246.2h1.0v1.0h-1.0zM111.9 240.6h1.0v1.0h-1.0zM103.8 254.8h1.0v1.0h-1.0zM100.9 251.7h1.0v1.0h-1.0zM101.0 253.2h1.0v1.0h-1.0zM101.8 249.9h1.0v1.0h-1.0zM105.6 239.8h1.0v1.0h-1.0zM102.0 248.4h1.0v1.0h-1.0zM115.6 245.9h1.0v1.0h-1.0zM94.8 255.5h1.0v1.0h-1.0zM97.0 246.3h1.0v1.0h-1.0zM97.8 253.6h1.0v1.0h-1.0zM109.5 251.7h1.0v1.0h-1.0zM101.9 249.1h1.0v1.0h-1.0zM101.6 255.4h1.0v1.0h-1.0zM99.0 256.2h1.0v1.0h-1.0zM93.7 252.8h1.0v1.0h-1.0zM106.2 251.4h1.0v1.0h-1.0zM101.6 247.6h1.0v1.0h-1.0zM93.3 251.2h1.0v1.0h-1.0zM112.6 242.3h1.0v1.0h-1.0zM106.8 247.9h1.0v1.0h-1.0zM91.3 254.3h1.0v1.0h-1.0zM106.0 242.9h1.0v1.0h-1.0zM90.9 252.2h1.0v1.0h-1.0zM105.8 245.6h1.0v1.0h-1.0zM103.4 251.3h1.0v1.0h-1.0zM100.1 252.5h1.0v1.0h-1.0zM110.1 245.8h1.0v1.0h-1.0zM102.6 244.7h1.0v1.0h-1.0zM94.3 252.2h1.0v1.0h-1.0zM106.5 245.0h1.0v1.0h-1.0zM89.1 258.9h1.0v1.0h-1.0zM91.7 254.2h1.0v1.0h-1.0zM103.9 244.7h1.0v1.0h-1.0zM102.7 254.5h1.0v1.0h-1.0zM97.9 254.6h1.0v1.0h-1.0zM101.0 245.9h1.0v1.0h-1.0zM95.2 249.5h1.0v1.0h-1.0zM110.5 251.8h1.0v1.0h-1.0zM101.9 242.7h1.0v1.0h-1.0zM96.2 250.1h1.0v1.0h-1.0zM102.3 243.6h1.0v1.0h-1.0zM96.7 249.7h1.0v1.0h-1.0zM114.6 248.0h1.0v1.0h-1.0zM106.1 248.6h1.0v1.0h-1.0zM90.0 258.5h1.0v1.0h-1.0zM94.7 243.8h1.0v1.0h-1.0zM105.8 246.8h1.0v1.0h-1.0zM100.0 252.8h1.0v1.0h-1.0zM98.2 253.1h1.0v1.0h-1.0zM110.2 245.2h1.0v1.0h-1.0zM97.3 251.6h1.0v1.0h-1.0zM105.1 246.8h1.0v1.0h-1.0zM100.7 247.2h1.0v1.0h-1.0zM99.4 253.2h1.0v1.0h-1.0zM93.6 252.1h1.0v1.0h-1.0zM88.6 251.7h1.0v1.0h-1.0zM100.6 252.7h1.0v1.0h-1.0zM92.0 253.1h1.0v1.0h-1.0zM92.8 254.7h1.0v1.0h-1.0zM102.1 251.7h1.0v1.0h-1.0zM98.4 244.7h1.0v1.0h-1.0zM95.6 246.1h1.0v1.0h-1.0zM94.7 252.2h1.0v1.0h-1.0zM108.5 244.4h1.0v1.0h-1.0zM94.0 253.7h1.0v1.0h-1.0zM107.7 252.0h1.0v1.0h-1.0zM99.2 254.1h1.0v1.0h-1.0zM97.3 255.9h1.0v1.0h-1.0zM94.9 248.7h1.0v1.0h-1.0zM103.0 247.3h1.0v1.0h-1.0zM105.3 244.6h1.0v1.0h-1.0zM102.1 245.3h1.0v1.0h-1.0zM99.2 260.5h1.0v1.0h-1.0zM91.6 248.1h1.0v1.0h-1.0zM112.7 243.7h1.0v1.0h-1.0zM107.3 246.9h1.0v1.0h-1.0zM95.1 261.5h1.0v1.0h-1.0zM92.4 255.2h1.0v1.0h-1.0zM105.1 247.6h1.0v1.0h-1.0zM102.5 252.0h1.0v1.0h-1.0zM97.3 256.0h1.0v1.0h-1.0zM93.4 256.4h1.0v1.0h-1.0zM107.1 248.7h1.0v1.0h-1.0zM97.3 251.4h1.0v1.0h-1.0zM106.0 244.1h1.0v1.0h-1.0zM102.8 249.7h1.0v1.0h-1.0zM97.9 253.4h1.0v1.0h-1.0zM100.6 244.6h1.0v1.0h-1.0zM95.9 252.5h1.0v1.0h-1.0zM90.1 252.2h1.0v1.0h-1.0zM95.8 242.5h1.0v1.0h-1.0zM113.4 249.4h1.0v1.0h-1.0zM96.4 256.1h1.0v1.0h-1.0zM91.9 260.5h1.0v1.0h-1.0zM97.1 252.2h1.0v1.0h-1.0zM95.5 252.6h1.0v1.0h-1.0zM102.6 249.7h1.0v1.0h-1.0zM93.6 256.4h1.0v1.0h-1.0zM104.3 248.9h1.0v1.0h-1.0zM108.2 244.1h1.0v1.0h-1.0zM109.9 246.0h1.0v1.0h-1.0zM111.8 244.1h1.0v1.0h-1.0zM98.1 252.2h1.0v1.0h-1.0zM108.5 253.8h1.0v1.0h-1.0zM96.5 248.5h1.0v1.0h-1.0zM105.9 253.9h1.0v1.0h-1.0zM105.5 247.0h1.0v1.0h-1.0zM109.9 246.7h1.0v1.0h-1.0zM101.3 252.8h1.0v1.0h-1.0zM95.6 241.9h1.0v1.0h-1.0zM101.7 253.1h1.0v1.0h-1.0zM103.4 251.7h1.0v1.0h-1.0zM101.3 254.7h1.0v1.0h-1.0zM100.9 256.9h1.0v1.0h-1.0zM100.4 254.0h1.0v1.0h-1.0zM95.7 253.5h1.0v1.0h-1.0zM103.3 249.9h1.0v1.0h-1.0zM112.0 246.2h1.0v1.0h-1.0zM108.7 248.8h1.0v1.0h-1.0zM108.5 243.2h1.0v1.0h-1.0zM97.2 255.9h1.0v1.0h-1.0zM93.7 254.7h1.0v1.0h-1.0zM104.4 249.7h1.0v1.0h-1.0zM103.4 251.7h1.0v1.0h-1.0zM98.2 253.1h1.0v1.0h-1.0zM96.0 250.0h1.0v1.0h-1.0zM101.6 245.0h1.0v1.0h-1.0zM100.6 251.6h1.0v1.0h-1.0zM97.3 247.4h1.0v1.0h-1.0zM99.2 252.7h1.0v1.0h-1.0zM107.2 256.5h1.0v1.0h-1.0zM103.4 246.3h1.0v1.0h-1.0zM102.5 259.0h1.0v1.0h-1.0zM100.9 256.3h1.0v1.0h-1.0zM108.3 245.4h1.0v1.0h-1.0zM98.5 247.9h1.0v1.0h-1.0zM101.6 250.2h1.0v1.0h-1.0zM108.9 244.5h1.0v1.0h-1.0zM99.3 253.6h1.0v1.0h-1.0zM106.9 246.3h1.0v1.0h-1.0zM96.2 254.5h1.0v1.0h-1.0zM103.2 254.5h1.0v1.0h-1.0zM109.0 244.1h1.0v1.0h-1.0zM103.9 241.0h1.0v1.0h-1.0zM88.6 257.3h1.0v1.0h-1.0zM96.9 247.0h1.0v1.0h-1.0zM91.9 258.7h1.0v1.0h-1.0zM100.5 255.4h1.0v1.0h-1.0zM99.4 259.0h1.0v1.0h-1.0zM99.8 250.1h1.0v1.0h-1.0zM103.4 250.8h1.0v1.0h-1.0zM88.4 250.6h1.0v1.0h-1.0zM98.2 252.7h1.0v1.0h-1.0zM90.5 250.8h1.0v1.0h-1.0zM94.2 254.2h1.0v1.0h-1.0zM96.7 254.5h1.0v1.0h-1.0zM103.0 245.2h1.0v1.0h-1.0zM97.7 245.7h1.0v1.0h-1.0zM100.8 253.9h1.0v1.0h-1.0zM92.4 245.4h1.0v1.0h-1.0zM104.0 247.7h1.0v1.0h-1.0zM99.8 252.7h1.0v1.0h-1.0zM102.9 253.6h1.0v1.0h-1.0zM96.5 241.8h1.0v1.0h-1.0zM96.2 250.5h1.0v1.0h-1.0zM96.8 253.5h1.0v1.0h-1.0zM98.1 257.1h1.0v1.0h-1.0zM95.1 252.3h1.0v1.0h-1.0zM97.2 261.2h1.0v1.0h-1.0zM92.6 248.7h1.0v1.0h-1.0zM97.0 255.1h1.0v1.0h-1.0zM100.1 249.7h1.0v1.0h-1.0zM98.3 250.0h1.0v1.0h-1.0zM113.7 247.0h1.0v1.0h-1.0zM103.3 253.7h1.0v1.0h-1.0zM93.0 247.5h1.0v1.0h-1.0zM97.1 258.3h1.0v1.0h-1.0zM107.7 244.9h1.0v1.0h-1.0zM90.3 258.4h1.0v1.0h-1.0zM108.5 242.3h1.0v1.0h-1.0zM112.5 242.2h1.0v1.0h-1.0zM105.8 247.4h1.0v1.0h-1.0zM97.4 248.7h1.0v1.0h-1.0zM105.4 251.3h1.0v1.0h-1.0zM106.3 246.8h1.0v1.0h-1.0zM93.4 262.8h1.0v1.0h-1.0zM113.4 244.6h1.0v1.0h-1.0zM91.1 260.7h1.0v1.0h-1.0zM101.0 250.4h1.0v1.0h-1.0zM106.7 249.6h1.0v1.0h-1.0zM100.9 259.3h1.0v1.0h-1.0zM92.3 253.7h1.0v1.0h-1.0zM98.7 252.2h1.0v1.0h-1.0zM118.2 241.7h1.0v1.0h-1.0zM107.1 250.7h1.0v1.0h-1.0zM102.3 247.3h1.0v1.0h-1.0zM105.0 249.9h1.0v1.0h-1.0zM111.3 250.0h1.0v1.0h-1.0zM111.8 248.3h1.0v1.0h-1.0zM101.4 247.2h1.0v1.0h-1.0zM100.8 248.5h1.0v1.0h-1.0zM104.5 255.0h1.0v1.0h-1.0zM104.1 253.3h1.0v1.0h-1.0zM102.1 251.3h1.0v1.0h-1.0zM90.0 254.8h1.0v1.0h-1.0zM100.4 250.0h1.0v1.0h-1.0zM98.1 252.6h1.0v1.0h-1.0zM95.5 251.3h1.0v1.0h-1.0zM93.0 247.6h1.0v1.0h-1.0zM95.8 250.2h1.0v1.0h-1.0zM112.9 250.3h1.0v1.0h-1.0zM97.0 254.2h1.0v1.0h-1.0zM91.2 246.4h1.0v1.0h-1.0zM102.6 252.1h1.0v1.0h-1.0zM94.6 252.5h1.0v1.0h-1.0zM108.3 248.1h1.0v1.0h-1.0zM101.4 252.6h1.0v1.0h-1.0zM90.0 255.4h1.0v1.0h-1.0zM95.0 243.7h1.0v1.0h-1.0zM107.0 247.0h1.0v1.0h-1.0zM107.9 256.7h1.0v1.0h-1.0zM108.5 253.7h1.0v1.0h-1.0zM103.1 251.0h1.0v1.0h-1.0zM105.5 251.4h1.0v1.0h-1.0zM89.9 257.7h1.0v1.0h-1.0zM107.8 245.7h1.0v1.0h-1.0zM92.8 251.0h1.0v1.0h-1.0zM95.3 254.7h1.0v1.0h-1.0zM106.1 248.3h1.0v1.0h-1.0zM97.6 243.3h1.0v1.0h-1.0zM96.6 247.2h1.0v1.0h-1.0zM95.6 253.7h1.0v1.0h-1.0zM93.1 250.7h1.0v1.0h-1.0zM90.9 252.8h1.0v1.0h-1.0zM97.7 256.0h1.0v1.0h-1.0zM105.1 246.2h1.0v1.0h-1.0zM94.6 253.5h1.0v1.0h-1.0zM104.1 248.2h1.0v1.0h-1.0zM98.8 251.1h1.0v1.0h-1.0zM91.4 255.0h1.0v1.0h-1.0zM104.6 249.0h1.0v1.0h-1.0zM90.9 253.9h1.0v1.0h-1.0zM99.1 252.3h1.0v1.0h-1.0zM96.7 255.6h1.0v1.0h-1.0zM108.6 251.0h1.0v1.0h-1.0zM101.8 255.4h1.0v1.0h-1.0zM99.7 249.9h1.0v1.0h-1.0zM88.6 254.9h1.0v1.0h-1.0zM109.6 242.5h1.0v1.0h-1.0zM106.2 242.4h1.0v1.0h-1.0zM102.4 257.9h1.0v1.0h-1.0zM100.3 245.1h1.0v1.0h-1.0zM102.3 249.0h1.0v1.0h-1.0zM106.3 245.8h1.0v1.0h-1.0zM104.7 253.4h1.0v1.0h-1.0zM102.2 249.8h1.0v1.0h-1.0zM105.4 247.6h1.0v1.0h-1.0zM96.4 252.9h1.0v1.0h-1.0zM108.7 245.0h1.0v1.0h-1.0zM103.9 246.1h1.0v1.0h-1.0zM94.1 253.5h1.0v1.0h-1.0zM89.4 250.7h1.0v1.0h-1.0zM90.5 251.4h1.0v1.0h-1.0zM104.8 249.0h1.0v1.0h-1.0zM103.5 246.4h1.0v1.0h-1.0zM108.3 245.6h1.0v1.0h-1.0zM89.6 251.6h1.0v1.0h-1.0zM105.6 246.0h1.0v1.0h-1.0zM105.4 245.9h1.0v1.0h-1.0zM98.1 248.8h1.0v1.0h-1.0zM95.6 249.2h1.0v1.0h-1.0zM111.8 245.8h1.0v1.0h-1.0zM109.9 251.8h1.0v1.0h-1.0zM99.1 250.1h1.0v1.0h-1.0zM96.1 252.5h1.0v1.0h-1.0zM103.7 249.1h1.0v1.0h-1.0zM93.4 248.7h1.0v1.0h-1.0zM113.2 253.1h1.0v1.0h-1.0zM90.1 251.4h1.0v1.0h-1.0zM99.6 253.3h1.0v1.0h-1.0zM99.0 252.0h1.0v1.0h-1.0zM102.8 254.6h1.0v1.0h-1.0zM89.6 259.4h1.0v1.0h-1.0zM103.4 251.6h1.0v1.0h-1.0zM97.9 254.2h1.0v1.0h-1.0zM105.4 251.6h1.0v1.0h-1.0zM89.6 260.1h1.0v1.0h-1.0zM100.5 254.5h1.0v1.0h-1.0zM99.8 247.4h1.0v1.0h-1.0zM106.0 246.2h1.0v1.0h-1.0zM98.2 256.2h1.0v1.0h-1.0zM103.5 257.0h1.0v1.0h-1.0zM109.5 242.1h1.0v1.0h-1.0zM104.7 247.6h1.0v1.0h-1.0zM97.6 248.9h1.0v1.0h-1.0zM114.2 244.4h1.0v1.0h-1.0zM88.9 258.8h1.0v1.0h-1.0zM99.2 252.4h1.0v1.0h-1.0zM96.8 251.5h1.0v1.0h-1.0zM94.4 250.9h1.0v1.0h-1.0zM102.4 255.3h1.0v1.0h-1.0zM104.2 253.4h1.0v1.0h-1.0zM92.6 254.7h1.0v1.0h-1.0zM103.1 253.5h1.0v1.0h-1.0zM94.9 251.6h1.0v1.0h-1.0zM95.8 257.2h1.0v1.0h-1.0zM108.5 245.3h1.0v1.0h-1.0zM98.8 252.0h1.0v1.0h-1.0zM92.7 252.8h1.0v1.0h-1.0zM106.8 251.4h1.0v1.0h-1.0zM94.5 249.8h1.0v1.0h-1.0zM98.9 244.4h1.0v1.0h-1.0zM102.3 250.2h1.0v1.0h-1.0zM89.2 253.6h1.0v1.0h-1.0zM94.6 251.4h1.0v1.0h-1.0zM92.9 259.2h1.0v1.0h-1.0zM92.2 256.9h1.0v1.0h-1.0zM101.5 256.3h1.0v1.0h-1.0zM99.4 250.8h1.0v1.0h-1.0zM100.4 242.1h1.0v1.0h-1.0zM119.0 242.4h1.0v1.0h-1.0zM97.3 246.6h1.0v1.0h-1.0zM98.8 258.1h1.0v1.0h-1.0zM93.8 254.8h1.0v1.0h-1.0zM108.1 251.6h1.0v1.0h-1.0zM96.6 244.1h1.0v1.0h-1.0zM103.1 251.9h1.0v1.0h-1.0zM97.3 249.7h1.0v1.0h-1.0zM95.8 249.5h1.0v1.0h-1.0zM93.5 258.5h1.0v1.0h-1.0zM101.9 243.0h1.0v1.0h-1.0zM90.2 250.0h1.0v1.0h-1.0zM98.6 253.1h1.0v1.0h-1.0zM94.7 251.3h1.0v1.0h-1.0zM105.6 247.8h1.0v1.0h-1.0zM105.7 245.8h1.0v1.0h-1.0zM103.8 254.7h1.0v1.0h-1.0zM97.3 250.1h1.0v1.0h-1.0zM98.6 253.1h1.0v1.0h-1.0zM90.2 254.4h1.0v1.0h-1.0zM95.2 258.6h1.0v1.0h-1.0zM97.3 248.3h1.0v1.0h-1.0zM100.9 249.2h1.0v1.0h-1.0zM100.2 251.5h1.0v1.0h-1.0zM109.5 245.2h1.0v1.0h-1.0zM114.4 250.4h1.0v1.0h-1.0zM112.3 246.8h1.0v1.0h-1.0zM102.1 245.3h1.0v1.0h-1.0zM110.5 241.5h1.0v1.0h-1.0zM93.5 253.0h1.0v1.0h-1.0zM101.7 251.4h1.0v1.0h-1.0zM90.6 252.6h1.0v1.0h-1.0zM103.8 254.3h1.0v1.0h-1.0zM106.0 250.1h1.0v1.0h-1.0zM97.8 249.0h1.0v1.0h-1.0zM95.8 251.8h1.0v1.0h-1.0zM104.1 246.8h1.0v1.0h-1.0zM116.3 240.1h1.0v1.0h-1.0zM106.4 247.3h1.0v1.0h-1.0zM98.7 249.4h1.0v1.0h-1.0zM112.1 244.7h1.0v1.0h-1.0zM104.2 249.5h1.0v1.0h-1.0zM105.8 250.9h1.0v1.0h-1.0zM113.0 242.5h1.0v1.0h-1.0zM93.3 260.5h1.0v1.0h-1.0zM110.0 247.1h1.0v1.0h-1.0zM97.6 252.6h1.0v1.0h-1.0zM110.2 243.4h1.0v1.0h-1.0zM111.4 246.0h1.0v1.0h-1.0zM97.0 250.0h1.0v1.0h-1.0zM89.4 252.2h1.0v1.0h-1.0zM92.7 254.3h1.0v1.0h-1.0zM105.6 248.6h1.0v1.0h-1.0zM101.4 251.8h1.0v1.0h-1.0zM112.7 248.3h1.0v1.0h-1.0zM112.4 245.6h1.0v1.0h-1.0zM102.7 246.7h1.0v1.0h-1.0zM104.6 245.1h1.0v1.0h-1.0zM103.6 246.5h1.0v1.0h-1.0zM97.0 257.0h1.0v1.0h-1.0zM101.0 253.6h1.0v1.0h-1.0zM97.9 243.3h1.0v1.0h-1.0zM111.6 245.4h1.0v1.0h-1.0zM94.7 256.7h1.0v1.0h-1.0zM90.8 250.8h1.0v1.0h-1.0zM109.0 244.2h1.0v1.0h-1.0zM108.9 245.9h1.0v1.0h-1.0zM98.2 251.6h1.0v1.0h-1.0zM95.9 256.8h1.0v1.0h-1.0zM108.6 247.6h1.0v1.0h-1.0zM104.7 251.1h1.0v1.0h-1.0zM108.0 251.5h1.0v1.0h-1.0zM97.4 251.6h1.0v1.0h-1.0zM97.1 257.0h1.0v1.0h-1.0zM90.7 256.7h1.0v1.0h-1.0zM110.1 249.2h1.0v1.0h-1.0zM96.0 250.1h1.0v1.0h-1.0zM108.6 243.2h1.0v1.0h-1.0zM92.9 257.4h1.0v1.0h-1.0zM98.9 244.8h1.0v1.0h-1.0zM93.7 250.2h1.0v1.0h-1.0zM93.1 258.5h1.0v1.0h-1.0zM91.9 255.2h1.0v1.0h-1.0zM95.2 254.9h1.0v1.0h-1.0zM88.5 248.2h1.0v1.0h-1.0zM103.9 255.3h1.0v1.0h-1.0zM88.8 253.4h1.0v1.0h-1.0zM95.8 248.1h1.0v1.0h-1.0zM107.6 247.9h1.0v1.0h-1.0zM88.8 253.9h1.0v1.0h-1.0zM110.5 243.5h1.0v1.0h-1.0zM95.8 248.6h1.0v1.0h-1.0zM101.2 247.7h1.0v1.0h-1.0zM107.0 244.3h1.0v1.0h-1.0zM88.2 257.0h1.0v1.0h-1.0zM102.1 250.8h1.0v1.0h-1.0zM95.3 250.4h1.0v1.0h-1.0zM93.4 252.3h1.0v1.0h-1.0zM96.2 254.4h1.0v1.0h-1.0zM99.9 253.0h1.0v1.0h-1.0zM112.9 244.5h1.0v1.0h-1.0zM97.6 253.1h1.0v1.0h-1.0zM116.6 242.7h1.0v1.0h-1.0zM113.3 250.7h1.0v1.0h-1.0z" fill="#70f070" opacity="0.6"/>
<ellipse cx="99.5" cy="250.5" rx="10" ry="4.8" fill="#30ee30" filter="url(#b15)" transform="rotate(-25 99.5 250.5)"/>
<path d="M93.5 253.4h1.0v1.0h-1.0zM106.2 248.4h1.0v1.0h-1.0zM99.8 256.5h1.0v1.0h-1.0zM100.9 256.1h1.0v1.0h-1.0zM94.0 256.8h1.0v1.0h-1.0zM96.1 244.5h1.0v1.0h-1.0zM94.4 250.7h1.0v1.0h-1.0zM98.7 252.8h1.0v1.0h-1.0zM102.7 250.9h1.0v1.0h-1.0zM94.8 257.0h1.0v1.0h-1.0zM105.5 248.6h1.0v1.0h-1.0zM95.8 251.4h1.0v1.0h-1.0zM97.7 249.0h1.0v1.0h-1.0zM98.9 248.7h1.0v1.0h-1.0zM102.4 247.6h1.0v1.0h-1.0zM101.6 250.6h1.0v1.0h-1.0zM99.8 251.8h1.0v1.0h-1.0zM93.3 259.7h1.0v1.0h-1.0zM95.1 253.9h1.0v1.0h-1.0zM99.0 249.3h1.0v1.0h-1.0zM108.5 250.7h1.0v1.0h-1.0zM97.4 252.7h1.0v1.0h-1.0zM102.7 253.9h1.0v1.0h-1.0zM104.5 248.3h1.0v1.0h-1.0zM97.5 247.7h1.0v1.0h-1.0zM100.4 252.6h1.0v1.0h-1.0zM96.8 253.2h1.0v1.0h-1.0zM99.6 249.0h1.0v1.0h-1.0zM92.2 255.9h1.0v1.0h-1.0zM112.8 247.7h1.0v1.0h-1.0zM93.0 249.5h1.0v1.0h-1.0zM100.3 252.0h1.0v1.0h-1.0zM107.3 241.0h1.0v1.0h-1.0zM109.1 247.8h1.0v1.0h-1.0zM99.7 251.4h1.0v1.0h-1.0zM97.0 250.4h1.0v1.0h-1.0zM104.7 243.8h1.0v1.0h-1.0zM98.3 252.4h1.0v1.0h-1.0zM89.9 253.0h1.0v1.0h-1.0zM107.3 249.0h1.0v1.0h-1.0zM102.8 251.4h1.0v1.0h-1.0zM100.2 251.2h1.0v1.0h-1.0zM94.5 251.4h1.0v1.0h-1.0zM109.1 243.8h1.0v1.0h-1.0zM98.0 247.2h1.0v1.0h-1.0zM96.0 249.3h1.0v1.0h-1.0zM92.2 253.4h1.0v1.0h-1.0zM93.8 253.7h1.0v1.0h-1.0zM108.9 240.1h1.0v1.0h-1.0zM98.0 244.8h1.0v1.0h-1.0zM98.3 251.9h1.0v1.0h-1.0zM100.1 253.7h1.0v1.0h-1.0zM99.8 245.3h1.0v1.0h-1.0zM107.2 245.2h1.0v1.0h-1.0zM98.4 251.7h1.0v1.0h-1.0zM94.1 252.4h1.0v1.0h-1.0zM107.2 243.1h1.0v1.0h-1.0zM89.8 252.2h1.0v1.0h-1.0zM98.0 247.2h1.0v1.0h-1.0zM101.1 246.1h1.0v1.0h-1.0zM102.1 249.4h1.0v1.0h-1.0zM99.8 246.4h1.0v1.0h-1.0zM97.8 252.3h1.0v1.0h-1.0zM89.3 250.6h1.0v1.0h-1.0zM104.3 254.6h1.0v1.0h-1.0zM102.6 249.2h1.0v1.0h-1.0zM93.0 251.3h1.0v1.0h-1.0zM97.6 252.3h1.0v1.0h-1.0zM97.6 258.1h1.0v1.0h-1.0zM106.3 241.9h1.0v1.0h-1.0zM92.5 252.6h1.0v1.0h-1.0zM104.4 250.0h1.0v1.0h-1.0zM106.4 249.9h1.0v1.0h-1.0zM113.1 248.4h1.0v1.0h-1.0zM101.5 254.2h1.0v1.0h-1.0zM96.5 249.8h1.0v1.0h-1.0zM93.4 253.0h1.0v1.0h-1.0zM101.4 252.5h1.0v1.0h-1.0zM107.0 249.8h1.0v1.0h-1.0zM105.8 247.7h1.0v1.0h-1.0zM93.7 254.3h1.0v1.0h-1.0zM104.6 252.6h1.0v1.0h-1.0zM98.1 249.5h1.0v1.0h-1.0zM97.0 252.2h1.0v1.0h-1.0zM98.7 250.1h1.0v1.0h-1.0zM100.4 249.3h1.0v1.0h-1.0zM100.8 248.2h1.0v1.0h-1.0zM90.5 252.3h1.0v1.0h-1.0zM109.4 244.9h1.0v1.0h-1.0zM104.0 252.8h1.0v1.0h-1.0zM96.0 252.2h1.0v1.0h-1.0zM107.5 248.4h1.0v1.0h-1.0zM88.0 252.3h1.0v1.0h-1.0zM94.9 252.2h1.0v1.0h-1.0zM100.6 248.8h1.0v1.0h-1.0zM97.3 248.7h1.0v1.0h-1.0zM102.1 250.1h1.0v1.0h-1.0zM100.9 248.5h1.0v1.0h-1.0zM101.7 248.8h1.0v1.0h-1.0zM100.6 249.5h1.0v1.0h-1.0zM95.3 248.5h1.0v1.0h-1.0zM88.7 249.8h1.0v1.0h-1.0zM101.5 259.2h1.0v1.0h-1.0zM89.9 251.0h1.0v1.0h-1.0zM98.9 260.9h1.0v1.0h-1.0zM97.9 247.5h1.0v1.0h-1.0zM101.3 255.9h1.0v1.0h-1.0zM105.8 245.0h1.0v1.0h-1.0zM98.4 248.9h1.0v1.0h-1.0zM103.2 245.0h1.0v1.0h-1.0zM100.7 250.6h1.0v1.0h-1.0zM102.1 250.8h1.0v1.0h-1.0zM99.8 245.1h1.0v1.0h-1.0zM97.2 248.3h1.0v1.0h-1.0zM101.9 248.9h1.0v1.0h-1.0zM99.8 253.5h1.0v1.0h-1.0zM98.4 255.6h1.0v1.0h-1.0zM103.6 244.7h1.0v1.0h-1.0zM95.8 255.1h1.0v1.0h-1.0zM96.2 254.9h1.0v1.0h-1.0zM95.9 251.2h1.0v1.0h-1.0zM104.7 244.1h1.0v1.0h-1.0zM99.4 249.1h1.0v1.0h-1.0zM99.9 255.2h1.0v1.0h-1.0zM101.7 245.7h1.0v1.0h-1.0zM104.3 247.5h1.0v1.0h-1.0zM99.9 253.6h1.0v1.0h-1.0zM97.3 253.9h1.0v1.0h-1.0zM100.0 247.6h1.0v1.0h-1.0zM97.3 247.1h1.0v1.0h-1.0zM105.5 248.9h1.0v1.0h-1.0zM104.3 245.6h1.0v1.0h-1.0zM103.7 245.5h1.0v1.0h-1.0zM100.5 250.0h1.0v1.0h-1.0zM95.7 252.4h1.0v1.0h-1.0zM99.2 247.9h1.0v1.0h-1.0zM94.9 248.0h1.0v1.0h-1.0zM106.5 248.5h1.0v1.0h-1.0zM97.0 253.2h1.0v1.0h-1.0zM94.3 248.6h1.0v1.0h-1.0zM101.0 254.5h1.0v1.0h-1.0zM100.7 250.4h1.0v1.0h-1.0zM108.6 242.9h1.0v1.0h-1.0zM115.8 241.9h1.0v1.0h-1.0zM98.6 246.7h1.0v1.0h-1.0zM92.3 251.9h1.0v1.0h-1.0zM112.5 243.5h1.0v1.0h-1.0zM95.6 252.4h1.0v1.0h-1.0zM93.4 251.5h1.0v1.0h-1.0zM103.5 242.7h1.0v1.0h-1.0zM97.3 250.2h1.0v1.0h-1.0zM96.2 251.1h1.0v1.0h-1.0zM89.1 252.4h1.0v1.0h-1.0zM96.1 248.4h1.0v1.0h-1.0zM106.0 254.2h1.0v1.0h-1.0zM103.4 246.6h1.0v1.0h-1.0zM106.8 249.5h1.0v1.0h-1.0zM94.5 253.7h1.0v1.0h-1.0zM95.8 253.2h1.0v1.0h-1.0zM104.1 252.3h1.0v1.0h-1.0zM93.2 252.0h1.0v1.0h-1.0zM99.0 246.9h1.0v1.0h-1.0zM101.3 251.8h1.0v1.0h-1.0zM91.4 251.3h1.0v1.0h-1.0zM92.9 248.7h1.0v1.0h-1.0zM93.1 256.4h1.0v1.0h-1.0zM95.3 250.5h1.0v1.0h-1.0zM104.4 251.8h1.0v1.0h-1.0zM106.7 241.9h1.0v1.0h-1.0zM103.2 244.0h1.0v1.0h-1.0zM95.5 250.4h1.0v1.0h-1.0zM95.9 257.3h1.0v1.0h-1.0zM98.1 254.2h1.0v1.0h-1.0zM98.0 250.6h1.0v1.0h-1.0zM101.8 250.9h1.0v1.0h-1.0zM101.8 244.5h1.0v1.0h-1.0zM101.8 250.6h1.0v1.0h-1.0zM102.3 249.3h1.0v1.0h-1.0zM101.3 246.0h1.0v1.0h-1.0zM105.2 244.9h1.0v1.0h-1.0zM106.7 251.0h1.0v1.0h-1.0zM98.7 249.7h1.0v1.0h-1.0zM103.3 248.2h1.0v1.0h-1.0zM92.5 253.4h1.0v1.0h-1.0zM92.3 251.3h1.0v1.0h-1.0zM108.9 249.7h1.0v1.0h-1.0zM96.5 251.1h1.0v1.0h-1.0zM95.4 251.6h1.0v1.0h-1.0zM91.0 255.0h1.0v1.0h-1.0zM99.1 248.7h1.0v1.0h-1.0zM95.6 259.3h1.0v1.0h-1.0zM96.6 249.9h1.0v1.0h-1.0zM95.8 250.1h1.0v1.0h-1.0zM106.2 250.2h1.0v1.0h-1.0zM101.3 250.8h1.0v1.0h-1.0zM92.7 245.4h1.0v1.0h-1.0zM107.3 250.0h1.0v1.0h-1.0zM100.2 250.9h1.0v1.0h-1.0zM100.1 250.2h1.0v1.0h-1.0zM97.6 244.4h1.0v1.0h-1.0zM102.1 249.6h1.0v1.0h-1.0zM104.4 249.7h1.0v1.0h-1.0zM97.4 252.8h1.0v1.0h-1.0zM100.0 248.9h1.0v1.0h-1.0zM96.9 249.9h1.0v1.0h-1.0zM97.4 249.7h1.0v1.0h-1.0zM104.4 257.4h1.0v1.0h-1.0zM98.4 254.0h1.0v1.0h-1.0zM88.1 244.4h1.0v1.0h-1.0zM96.4 250.9h1.0v1.0h-1.0zM94.9 247.8h1.0v1.0h-1.0zM94.3 250.5h1.0v1.0h-1.0zM99.8 249.2h1.0v1.0h-1.0zM92.4 251.5h1.0v1.0h-1.0zM107.3 245.3h1.0v1.0h-1.0zM99.4 253.4h1.0v1.0h-1.0zM94.6 250.2h1.0v1.0h-1.0zM114.9 249.1h1.0v1.0h-1.0zM96.1 251.9h1.0v1.0h-1.0zM99.6 250.8h1.0v1.0h-1.0zM101.6 248.8h1.0v1.0h-1.0zM99.8 246.2h1.0v1.0h-1.0zM97.2 255.5h1.0v1.0h-1.0zM100.3 248.2h1.0v1.0h-1.0zM99.8 253.3h1.0v1.0h-1.0zM89.6 249.8h1.0v1.0h-1.0zM95.4 250.4h1.0v1.0h-1.0zM98.5 248.9h1.0v1.0h-1.0zM99.6 250.6h1.0v1.0h-1.0zM92.6 250.7h1.0v1.0h-1.0zM92.2 253.5h1.0v1.0h-1.0zM100.4 252.0h1.0v1.0h-1.0zM94.2 250.5h1.0v1.0h-1.0zM90.1 254.3h1.0v1.0h-1.0zM104.9 249.9h1.0v1.0h-1.0zM102.5 250.1h1.0v1.0h-1.0zM101.0 252.6h1.0v1.0h-1.0zM105.9 254.2h1.0v1.0h-1.0zM97.5 253.4h1.0v1.0h-1.0zM103.8 250.2h1.0v1.0h-1.0zM100.5 246.3h1.0v1.0h-1.0zM105.0 246.0h1.0v1.0h-1.0zM95.4 249.1h1.0v1.0h-1.0zM102.1 246.7h1.0v1.0h-1.0zM101.5 251.4h1.0v1.0h-1.0zM99.6 249.3h1.0v1.0h-1.0zM102.3 253.3h1.0v1.0h-1.0zM96.5 248.2h1.0v1.0h-1.0zM95.7 249.0h1.0v1.0h-1.0zM97.7 250.5h1.0v1.0h-1.0zM94.5 250.7h1.0v1.0h-1.0zM88.2 248.1h1.0v1.0h-1.0zM93.4 252.9h1.0v1.0h-1.0zM103.7 243.7h1.0v1.0h-1.0zM100.2 254.6h1.0v1.0h-1.0zM97.5 253.7h1.0v1.0h-1.0zM100.7 247.2h1.0v1.0h-1.0zM104.5 247.0h1.0v1.0h-1.0zM100.9 248.7h1.0v1.0h-1.0zM97.8 251.3h1.0v1.0h-1.0zM106.3 243.2h1.0v1.0h-1.0zM92.9 252.7h1.0v1.0h-1.0zM104.3 248.2h1.0v1.0h-1.0zM98.0 252.4h1.0v1.0h-1.0zM107.6 245.1h1.0v1.0h-1.0zM90.2 252.5h1.0v1.0h-1.0zM103.2 245.3h1.0v1.0h-1.0zM105.2 251.3h1.0v1.0h-1.0zM103.3 246.6h1.0v1.0h-1.0zM91.9 254.7h1.0v1.0h-1.0zM100.4 252.1h1.0v1.0h-1.0zM91.6 244.2h1.0v1.0h-1.0zM105.1 251.5h1.0v1.0h-1.0zM97.5 251.0h1.0v1.0h-1.0zM101.5 251.9h1.0v1.0h-1.0zM98.0 249.3h1.0v1.0h-1.0zM93.6 255.2h1.0v1.0h-1.0zM99.5 240.3h1.0v1.0h-1.0zM100.9 248.2h1.0v1.0h-1.0zM92.0 251.2h1.0v1.0h-1.0zM92.0 251.4h1.0v1.0h-1.0zM96.0 253.0h1.0v1.0h-1.0zM93.4 246.9h1.0v1.0h-1.0zM95.7 247.5h1.0v1.0h-1.0zM103.1 248.6h1.0v1.0h-1.0zM89.8 250.8h1.0v1.0h-1.0zM98.8 250.4h1.0v1.0h-1.0zM88.9 253.3h1.0v1.0h-1.0zM100.6 252.9h1.0v1.0h-1.0zM105.0 248.2h1.0v1.0h-1.0zM91.9 251.7h1.0v1.0h-1.0zM102.6 246.7h1.0v1.0h-1.0zM105.9 245.5h1.0v1.0h-1.0zM92.8 254.9h1.0v1.0h-1.0zM98.4 251.6h1.0v1.0h-1.0zM97.3 251.1h1.0v1.0h-1.0zM95.8 257.1h1.0v1.0h-1.0zM102.6 249.0h1.0v1.0h-1.0zM101.6 252.1h1.0v1.0h-1.0zM96.1 251.9h1.0v1.0h-1.0zM100.1 248.5h1.0v1.0h-1.0zM94.7 251.3h1.0v1.0h-1.0zM97.3 249.8h1.0v1.0h-1.0zM88.3 254.1h1.0v1.0h-1.0zM102.6 249.6h1.0v1.0h-1.0zM108.4 250.0h1.0v1.0h-1.0zM97.0 249.1h1.0v1.0h-1.0zM101.7 248.5h1.0v1.0h-1.0zM90.1 253.7h1.0v1.0h-1.0zM97.4 250.4h1.0v1.0h-1.0zM102.4 250.0h1.0v1.0h-1.0zM110.1 244.8h1.0v1.0h-1.0zM98.5 251.6h1.0v1.0h-1.0zM96.6 249.8h1.0v1.0h-1.0zM108.6 243.2h1.0v1.0h-1.0zM100.9 244.7h1.0v1.0h-1.0zM100.9 244.3h1.0v1.0h-1.0zM92.6 255.9h1.0v1.0h-1.0zM107.4 248.2h1.0v1.0h-1.0zM100.3 246.8h1.0v1.0h-1.0zM97.0 247.2h1.0v1.0h-1.0zM98.5 250.4h1.0v1.0h-1.0zM99.7 252.6h1.0v1.0h-1.0zM95.5 245.2h1.0v1.0h-1.0zM92.6 248.9h1.0v1.0h-1.0zM97.0 249.9h1.0v1.0h-1.0zM98.8 254.6h1.0v1.0h-1.0zM99.1 247.3h1.0v1.0h-1.0zM97.3 248.5h1.0v1.0h-1.0zM97.7 252.6h1.0v1.0h-1.0zM92.8 254.5h1.0v1.0h-1.0zM108.8 251.8h1.0v1.0h-1.0zM107.9 247.9h1.0v1.0h-1.0zM91.6 258.7h1.0v1.0h-1.0zM98.7 251.3h1.0v1.0h-1.0zM97.0 248.4h1.0v1.0h-1.0zM102.4 245.3h1.0v1.0h-1.0zM91.5 254.5h1.0v1.0h-1.0zM96.9 248.7h1.0v1.0h-1.0zM101.7 253.8h1.0v1.0h-1.0zM97.4 250.6h1.0v1.0h-1.0zM102.1 252.3h1.0v1.0h-1.0zM104.7 250.7h1.0v1.0h-1.0zM95.4 253.2h1.0v1.0h-1.0zM99.0 245.5h1.0v1.0h-1.0zM105.8 250.0h1.0v1.0h-1.0zM106.5 247.9h1.0v1.0h-1.0zM103.0 249.0h1.0v1.0h-1.0zM99.9 252.9h1.0v1.0h-1.0zM99.3 252.2h1.0v1.0h-1.0zM98.8 254.1h1.0v1.0h-1.0zM102.6 244.5h1.0v1.0h-1.0zM108.1 248.9h1.0v1.0h-1.0zM96.2 249.6h1.0v1.0h-1.0zM109.9 247.3h1.0v1.0h-1.0zM101.8 251.3h1.0v1.0h-1.0zM95.7 256.6h1.0v1.0h-1.0zM110.5 244.6h1.0v1.0h-1.0zM105.2 243.8h1.0v1.0h-1.0zM97.2 251.3h1.0v1.0h-1.0zM99.3 252.1h1.0v1.0h-1.0zM101.2 250.9h1.0v1.0h-1.0zM98.3 251.6h1.0v1.0h-1.0zM96.0 257.2h1.0v1.0h-1.0zM99.3 254.0h1.0v1.0h-1.0zM99.6 249.9h1.0v1.0h-1.0zM98.0 247.1h1.0v1.0h-1.0zM110.4 248.1h1.0v1.0h-1.0zM99.7 248.9h1.0v1.0h-1.0zM106.0 247.3h1.0v1.0h-1.0zM96.5 249.7h1.0v1.0h-1.0zM107.4 248.7h1.0v1.0h-1.0zM98.2 248.9h1.0v1.0h-1.0zM106.0 249.1h1.0v1.0h-1.0zM97.2 253.7h1.0v1.0h-1.0zM103.8 246.1h1.0v1.0h-1.0zM105.3 251.7h1.0v1.0h-1.0zM97.7 247.1h1.0v1.0h-1.0zM105.0 247.6h1.0v1.0h-1.0zM97.9 250.0h1.0v1.0h-1.0zM97.5 253.4h1.0v1.0h-1.0zM93.1 253.9h1.0v1.0h-1.0zM105.3 251.5h1.0v1.0h-1.0zM103.0 250.0h1.0v1.0h-1.0zM98.0 250.5h1.0v1.0h-1.0zM94.2 256.9h1.0v1.0h-1.0zM98.4 247.8h1.0v1.0h-1.0zM103.6 253.4h1.0v1.0h-1.0zM100.5 249.1h1.0v1.0h-1.0zM93.0 254.3h1.0v1.0h-1.0zM97.7 249.0h1.0v1.0h-1.0zM102.3 245.7h1.0v1.0h-1.0zM103.0 242.2h1.0v1.0h-1.0zM95.7 247.4h1.0v1.0h-1.0zM97.7 253.2h1.0v1.0h-1.0zM92.0 256.7h1.0v1.0h-1.0zM95.3 250.3h1.0v1.0h-1.0zM104.4 246.7h1.0v1.0h-1.0zM106.9 247.4h1.0v1.0h-1.0zM98.5 247.9h1.0v1.0h-1.0z" fill="#28e828" opacity="0.8"/>
<rect x="52.6" y="47.4" width="108.8" height="82.1" fill="none" stroke="#4a4a4a" stroke-width="1.3"/>
<path d="M85.4 47.4V129.5M52.6 100.8H161.4" stroke="#4a4a4a" stroke-width="1.2"/>
<rect x="52.6" y="182.6" width="115.7" height="86.8" fill="none" stroke="#4a4a4a" stroke-width="1.3"/>
<path d="M87.5 182.6V269.4M52.6 239.1H168.3" stroke="#4a4a4a" stroke-width="1.2"/>
<path d="M50.2 68.1H52.6M50.2 64.8H52.6M50.2 62.5H52.6M50.2 60.7H52.6M50.2 59.3H52.6M50.2 58.1H52.6M50.2 57.0H52.6M50.2 56.0H52.6M50.2 87.0H52.6M50.2 83.6H52.6M50.2 81.2H52.6M50.2 79.3H52.6M50.2 77.8H52.6M50.2 76.6H52.6M50.2 75.5H52.6M50.2 74.5H52.6M50.2 106.1H52.6M50.2 102.7H52.6M50.2 100.3H52.6M50.2 98.4H52.6M50.2 96.9H52.6M50.2 95.7H52.6M50.2 94.6H52.6M50.2 93.6H52.6M47.6 55.2H52.6M47.6 73.6H52.6M47.6 92.7H52.6M47.6 111.8H52.6M50.2 111.8H52.6M50.2 113.6H52.6M50.2 115.5H52.6M50.2 117.3H52.6M50.2 119.2H52.6M50.2 121.0H52.6M50.2 122.8H52.6M50.2 124.7H52.6M50.2 126.5H52.6M47.6 126.0H52.6" stroke="#333" stroke-width="0.9" fill="none"/>
<rect x="48.2" y="118.1" width="4.4" height="2.6" fill="#333"/>
<path d="M109.9 129.5V132.1M114.3 129.5V132.1M117.4 129.5V132.1M119.8 129.5V132.1M121.8 129.5V132.1M123.5 129.5V132.1M125.0 129.5V132.1M126.3 129.5V132.1M134.5 129.5V132.1M138.7 129.5V132.1M141.7 129.5V132.1M144.0 129.5V132.1M145.8 129.5V132.1M147.4 129.5V132.1M148.8 129.5V132.1M150.0 129.5V132.1M88.1 129.5V132.1M91.5 129.5V132.1M94.1 129.5V132.1M96.3 129.5V132.1M98.1 129.5V132.1M99.7 129.5V132.1M101.1 129.5V132.1M53.0 129.5V134.7M64.8 129.5V134.7M75.1 129.5V134.7M102.3 129.5V134.7M127.4 129.5V134.7M151.1 129.5V134.7M53.0 129.5V132.1M54.5 129.5V132.1M55.9 129.5V132.1M57.4 129.5V132.1M58.9 129.5V132.1M60.4 129.5V132.1M61.8 129.5V132.1M63.3 129.5V132.1M64.8 129.5V132.1M66.3 129.5V132.1M67.7 129.5V132.1M69.2 129.5V132.1M70.7 129.5V132.1M72.2 129.5V132.1M73.6 129.5V132.1M75.1 129.5V132.1" stroke="#333" stroke-width="0.9" fill="none"/>
<rect x="54.0" y="129.5" width="21.1" height="2.6" fill="#555" opacity="0.6"/>
<text x="32.60" y="58.5" font-size="8.8" font-weight="normal" fill="#222" stroke="#222" stroke-width="0.15" textLength="8.70" lengthAdjust="spacingAndGlyphs" >10</text>
<text x="41.6" y="54.6" font-size="6.4" fill="#222">5</text>
<text x="32.60" y="76.9" font-size="8.8" font-weight="normal" fill="#222" stroke="#222" stroke-width="0.15" textLength="8.70" lengthAdjust="spacingAndGlyphs" >10</text>
<text x="41.6" y="73.0" font-size="6.4" fill="#222">4</text>
<text x="32.60" y="96.0" font-size="8.8" font-weight="normal" fill="#222" stroke="#222" stroke-width="0.15" textLength="8.70" lengthAdjust="spacingAndGlyphs" >10</text>
<text x="41.6" y="92.1" font-size="6.4" fill="#222">3</text>
<text x="32.60" y="115.1" font-size="8.8" font-weight="normal" fill="#222" stroke="#222" stroke-width="0.15" textLength="8.70" lengthAdjust="spacingAndGlyphs" >10</text>
<text x="41.6" y="111.2" font-size="6.4" fill="#222">2</text>
<text x="37.32" y="124.0" font-size="8.8" font-weight="normal" fill="#222" stroke="#222" stroke-width="0.15" textLength="3.96" lengthAdjust="spacingAndGlyphs" >0</text>
<text transform="translate(36.0,141.70) scale(1.0,1) rotate(-90)" x="-0.33" y="0" font-size="7.8" fill="#222" stroke="#222" stroke-width="0.3" textLength="14.82" lengthAdjust="spacingAndGlyphs">-140</text>
<text x="44.99" y="148.9" font-size="7.4" font-weight="normal" fill="#222" stroke="#222" stroke-width="0.15" textLength="14.05" lengthAdjust="spacingAndGlyphs" >-121</text>
<text x="61.62" y="146.3" font-size="8.8" font-weight="normal" fill="#222" stroke="#222" stroke-width="0.15" textLength="3.96" lengthAdjust="spacingAndGlyphs" >0</text>
<text x="68.48" y="146.3" font-size="8.8" font-weight="normal" fill="#222" stroke="#222" stroke-width="0.15" textLength="9.04" lengthAdjust="spacingAndGlyphs" >10</text>
<text x="77.8" y="141.9" font-size="6.4" fill="#222">2</text>
<text x="95.49" y="146.3" font-size="8.8" font-weight="normal" fill="#222" stroke="#222" stroke-width="0.15" textLength="8.92" lengthAdjust="spacingAndGlyphs" >10</text>
<text x="104.7" y="141.9" font-size="6.4" fill="#222">3</text>
<text x="120.27" y="146.3" font-size="8.8" font-weight="normal" fill="#222" stroke="#222" stroke-width="0.15" textLength="9.26" lengthAdjust="spacingAndGlyphs" >10</text>
<text x="129.8" y="141.9" font-size="6.4" fill="#222">4</text>
<text x="144.97" y="146.3" font-size="8.8" font-weight="normal" fill="#222" stroke="#222" stroke-width="0.15" textLength="9.26" lengthAdjust="spacingAndGlyphs" >10</text>
<text x="154.5" y="141.9" font-size="6.4" fill="#222">5</text>
<path d="M50.2 204.5H52.6M50.2 201.2H52.6M50.2 198.8H52.6M50.2 197.0H52.6M50.2 195.5H52.6M50.2 194.2H52.6M50.2 193.1H52.6M50.2 192.2H52.6M50.2 224.3H52.6M50.2 220.8H52.6M50.2 218.2H52.6M50.2 216.3H52.6M50.2 214.7H52.6M50.2 213.3H52.6M50.2 212.2H52.6M50.2 211.1H52.6M50.2 245.2H52.6M50.2 241.5H52.6M50.2 238.8H52.6M50.2 236.8H52.6M50.2 235.1H52.6M50.2 233.7H52.6M50.2 232.5H52.6M50.2 231.4H52.6M47.6 191.3H52.6M47.6 210.2H52.6M47.6 230.4H52.6M47.6 251.6H52.6M50.2 251.6H52.6M50.2 253.6H52.6M50.2 255.6H52.6M50.2 257.6H52.6M50.2 259.6H52.6M50.2 261.5H52.6M50.2 263.5H52.6M50.2 265.5H52.6M50.2 267.5H52.6M47.6 267.0H52.6" stroke="#333" stroke-width="0.9" fill="none"/>
<rect x="48.2" y="258.2" width="4.4" height="2.6" fill="#333"/>
<path d="M112.7 269.4V272.0M117.4 269.4V272.0M120.8 269.4V272.0M123.4 269.4V272.0M125.5 269.4V272.0M127.3 269.4V272.0M128.9 269.4V272.0M130.3 269.4V272.0M139.3 269.4V272.0M143.9 269.4V272.0M147.2 269.4V272.0M149.7 269.4V272.0M151.7 269.4V272.0M153.5 269.4V272.0M155.0 269.4V272.0M156.3 269.4V272.0M89.9 269.4V272.0M93.4 269.4V272.0M96.1 269.4V272.0M98.4 269.4V272.0M100.2 269.4V272.0M101.9 269.4V272.0M103.3 269.4V272.0M52.8 269.4V274.6M65.2 269.4V274.6M76.5 269.4V274.6M104.6 269.4V274.6M131.5 269.4V274.6M157.5 269.4V274.6M52.8 269.4V272.0M54.4 269.4V272.0M56.0 269.4V272.0M57.5 269.4V272.0M59.1 269.4V272.0M60.7 269.4V272.0M62.3 269.4V272.0M63.9 269.4V272.0M65.4 269.4V272.0M67.0 269.4V272.0M68.6 269.4V272.0M70.2 269.4V272.0M71.8 269.4V272.0M73.3 269.4V272.0M74.9 269.4V272.0M76.5 269.4V272.0" stroke="#333" stroke-width="0.9" fill="none"/>
<rect x="53.8" y="269.4" width="22.7" height="2.6" fill="#555" opacity="0.6"/>
<text x="32.60" y="194.6" font-size="8.8" font-weight="normal" fill="#222" stroke="#222" stroke-width="0.15" textLength="8.70" lengthAdjust="spacingAndGlyphs" >10</text>
<text x="41.6" y="190.7" font-size="6.4" fill="#222">5</text>
<text x="32.60" y="213.5" font-size="8.8" font-weight="normal" fill="#222" stroke="#222" stroke-width="0.15" textLength="8.70" lengthAdjust="spacingAndGlyphs" >10</text>
<text x="41.6" y="209.6" font-size="6.4" fill="#222">4</text>
<text x="32.60" y="233.7" font-size="8.8" font-weight="normal" fill="#222" stroke="#222" stroke-width="0.15" textLength="8.70" lengthAdjust="spacingAndGlyphs" >10</text>
<text x="41.6" y="229.8" font-size="6.4" fill="#222">3</text>
<text x="32.60" y="254.9" font-size="8.8" font-weight="normal" fill="#222" stroke="#222" stroke-width="0.15" textLength="8.70" lengthAdjust="spacingAndGlyphs" >10</text>
<text x="41.6" y="251.0" font-size="6.4" fill="#222">2</text>
<text x="37.32" y="264.1" font-size="8.8" font-weight="normal" fill="#222" stroke="#222" stroke-width="0.15" textLength="3.96" lengthAdjust="spacingAndGlyphs" >0</text>
<text transform="translate(36.0,281.20) scale(1.0,1) rotate(-90)" x="-0.34" y="0" font-size="7.8" fill="#222" stroke="#222" stroke-width="0.3" textLength="15.24" lengthAdjust="spacingAndGlyphs">-140</text>
<text x="44.79" y="291.2" font-size="7.4" font-weight="normal" fill="#222" stroke="#222" stroke-width="0.15" textLength="14.05" lengthAdjust="spacingAndGlyphs" >-121</text>
<text x="62.02" y="288.6" font-size="8.8" font-weight="normal" fill="#222" stroke="#222" stroke-width="0.15" textLength="3.96" lengthAdjust="spacingAndGlyphs" >0</text>
<text x="67.55" y="288.6" font-size="8.8" font-weight="normal" fill="#222" stroke="#222" stroke-width="0.15" textLength="9.48" lengthAdjust="spacingAndGlyphs" >10</text>
<text x="77.3" y="284.2" font-size="6.4" fill="#222">2</text>
<text x="96.60" y="288.6" font-size="8.8" font-weight="normal" fill="#222" stroke="#222" stroke-width="0.15" textLength="8.81" lengthAdjust="spacingAndGlyphs" >10</text>
<text x="105.7" y="284.2" font-size="6.4" fill="#222">3</text>
<text x="124.95" y="288.6" font-size="8.8" font-weight="normal" fill="#222" stroke="#222" stroke-width="0.15" textLength="9.48" lengthAdjust="spacingAndGlyphs" >10</text>
<text x="134.7" y="284.2" font-size="6.4" fill="#222">4</text>
<text x="151.38" y="288.6" font-size="8.8" font-weight="normal" fill="#222" stroke="#222" stroke-width="0.15" textLength="9.04" lengthAdjust="spacingAndGlyphs" >10</text>
<text x="160.7" y="284.2" font-size="6.4" fill="#222">5</text>
<path d="M165.2 269.4V274.6" stroke="#333" stroke-width="0.9"/>
<text x="61.3" y="79.3" font-size="6.2" fill="#3a3a3a">Q1</text>
<text x="107.2" y="79.3" font-size="6.2" fill="#3a3a3a">Q2</text>
<text x="60.5" y="110.8" font-size="6.2" fill="#3a3a3a">Q3</text>
<text x="107.2" y="110.8" font-size="6.2" fill="#3a3a3a">Q4</text>
<text x="62.0" y="216.0" font-size="6.2" fill="#3a3a3a">Q1</text>
<text x="110.5" y="215.0" font-size="6.2" fill="#3a3a3a">Q2</text>
<text x="61.0" y="250.2" font-size="6.2" fill="#3a3a3a">Q3</text>
<text x="110.5" y="250.2" font-size="6.2" fill="#3a3a3a">Q4</text>
<text x="57.62" y="64.3" font-size="9.8" font-weight="bold" fill="#151515" stroke="#151515" stroke-width="0.15" textLength="23.83" lengthAdjust="spacingAndGlyphs" >0.7 %</text>
<text x="130.28" y="65.7" font-size="9.8" font-weight="bold" fill="#151515" stroke="#151515" stroke-width="0.15" textLength="23.36" lengthAdjust="spacingAndGlyphs" >3.7 %</text>
<text x="57.46" y="127.8" font-size="9.8" font-weight="bold" fill="#151515" stroke="#151515" stroke-width="0.15" textLength="21.80" lengthAdjust="spacingAndGlyphs" >93 %</text>
<text x="125.97" y="127.7" font-size="9.8" font-weight="bold" fill="#151515" stroke="#151515" stroke-width="0.15" textLength="23.79" lengthAdjust="spacingAndGlyphs" >2.6 %</text>
<text x="57.35" y="199.5" font-size="9.8" font-weight="bold" fill="#151515" stroke="#151515" stroke-width="0.15" textLength="24.00" lengthAdjust="spacingAndGlyphs" >4.3 %</text>
<text x="134.07" y="208.1" font-size="9.8" font-weight="bold" fill="#151515" stroke="#151515" stroke-width="0.15" textLength="29.78" lengthAdjust="spacingAndGlyphs" >35.7 %</text>
<text x="67.07" y="258.9" font-size="9.8" font-weight="bold" fill="#151515" stroke="#151515" stroke-width="0.15" textLength="29.89" lengthAdjust="spacingAndGlyphs" >36.2 %</text>
<text x="121.26" y="258.5" font-size="9.8" font-weight="bold" fill="#151515" stroke="#151515" stroke-width="0.15" textLength="29.80" lengthAdjust="spacingAndGlyphs" >23.8 %</text>
<text transform="translate(23.2,98.50) scale(1.12,1) rotate(-90)" x="-0.89" y="0" font-size="11.8" fill="#1a1a1a" stroke="#1a1a1a" stroke-width="0.3" textLength="21.22" lengthAdjust="spacingAndGlyphs">PI-A</text>
<text transform="translate(23.2,235.00) scale(1.12,1) rotate(-90)" x="-0.89" y="0" font-size="11.8" fill="#1a1a1a" stroke="#1a1a1a" stroke-width="0.3" textLength="21.22" lengthAdjust="spacingAndGlyphs">PI-A</text>
<text x="92.63" y="304.0" font-size="12.6" font-weight="normal" fill="#1a1a1a" stroke="#1a1a1a" stroke-width="0.3" textLength="34.09" lengthAdjust="spacingAndGlyphs" >FITC-A</text>
<text x="178.92" y="47.3" font-size="11.2" font-weight="normal" fill="#1a1a1a" stroke="#1a1a1a" stroke-width="0.3" textLength="70.27" lengthAdjust="spacingAndGlyphs" >KPT9274 µM</text>
<text x="260.26" y="44.6" font-size="11.2" font-weight="normal" fill="#1a1a1a" stroke="#1a1a1a" stroke-width="0.3" textLength="6.28" lengthAdjust="spacingAndGlyphs" >0</text>
<text x="275.86" y="44.6" font-size="11.2" font-weight="normal" fill="#1a1a1a" stroke="#1a1a1a" stroke-width="0.3" textLength="15.59" lengthAdjust="spacingAndGlyphs" >0.1</text>
<text x="299.14" y="44.6" font-size="11.2" font-weight="normal" fill="#1a1a1a" stroke="#1a1a1a" stroke-width="0.3" textLength="16.46" lengthAdjust="spacingAndGlyphs" >0.5</text>
<path d="M326.37 44.60V36.76L325.81 36.76Q325.25 38.55 323.90 39.00" stroke="#1a1a1a" stroke-width="1.06" fill="none"/>
<text x="191.59" y="69.6" font-size="11.2" font-weight="normal" fill="#1a1a1a" stroke="#1a1a1a" stroke-width="0.3" textLength="57.13" lengthAdjust="spacingAndGlyphs" >Caspase 3</text>
<text x="204.89" y="101.3" font-size="11.2" font-weight="normal" fill="#1a1a1a" stroke="#1a1a1a" stroke-width="0.3" textLength="43.98" lengthAdjust="spacingAndGlyphs" >Cleaved</text>
<text x="191.49" y="114.7" font-size="11.2" font-weight="normal" fill="#1a1a1a" stroke="#1a1a1a" stroke-width="0.3" textLength="57.13" lengthAdjust="spacingAndGlyphs" >Caspase 3</text>
<text x="216.63" y="153.4" font-size="11.2" font-weight="normal" fill="#1a1a1a" stroke="#1a1a1a" stroke-width="0.3" textLength="32.09" lengthAdjust="spacingAndGlyphs" >PARP</text>
<text x="191.49" y="182.8" font-size="11.2" font-weight="normal" fill="#1a1a1a" stroke="#1a1a1a" stroke-width="0.3" textLength="57.17" lengthAdjust="spacingAndGlyphs" >Caspase 9</text>
<text x="204.89" y="202.0" font-size="11.2" font-weight="normal" fill="#1a1a1a" stroke="#1a1a1a" stroke-width="0.3" textLength="43.98" lengthAdjust="spacingAndGlyphs" >Cleaved</text>
<text x="191.49" y="216.5" font-size="11.2" font-weight="normal" fill="#1a1a1a" stroke="#1a1a1a" stroke-width="0.3" textLength="57.17" lengthAdjust="spacingAndGlyphs" >Caspase 9</text>
<text x="191.69" y="251.9" font-size="11.2" font-weight="normal" fill="#1a1a1a" stroke="#1a1a1a" stroke-width="0.3" textLength="57.13" lengthAdjust="spacingAndGlyphs" >Caspase 8</text>
<text x="205.09" y="284.3" font-size="11.2" font-weight="normal" fill="#1a1a1a" stroke="#1a1a1a" stroke-width="0.3" textLength="43.98" lengthAdjust="spacingAndGlyphs" >Cleaved</text>
<text x="191.69" y="298.6" font-size="11.2" font-weight="normal" fill="#1a1a1a" stroke="#1a1a1a" stroke-width="0.3" textLength="57.13" lengthAdjust="spacingAndGlyphs" >Caspase 8</text>
<text x="222.78" y="340.4" font-size="11.2" font-weight="normal" fill="#1a1a1a" stroke="#1a1a1a" stroke-width="0.3" textLength="26.29" lengthAdjust="spacingAndGlyphs" >Actin</text>
<rect x="253.8" y="53.3" width="82.6" height="25.8" fill="#cdcdcd"/>
<clipPath id="cp53"><rect x="253.8" y="53.3" width="82.6" height="25.8"/></clipPath>
<g clip-path="url(#cp53)">
<rect x="253.80" y="53.30" width="82.60" height="4.00" fill="#d8d8d8" filter="url(#b1)"/>
<rect x="256.3" y="57.3" width="15.1" height="12.0" fill="#666" opacity="0.22" filter="url(#b3)"/>
<rect x="276.0" y="57.3" width="14.8" height="12.0" fill="#666" opacity="0.22" filter="url(#b3)"/>
<rect x="295.6" y="57.2" width="15.0" height="12.0" fill="#666" opacity="0.22" filter="url(#b3)"/>
<rect x="316.0" y="54.8" width="15.0" height="12.0" fill="#666" opacity="0.22" filter="url(#b3)"/>
<path d="M257.23 58.90Q263.80 64.70 270.37 58.90Q275.29 63.00 270.37 67.10Q263.80 69.30 257.23 67.10Q252.31 63.00 257.23 58.90Z" fill="#050505" opacity="1.0" filter="url(#b1)"/>
<path d="M276.97 59.10Q283.40 64.90 289.83 59.10Q294.51 63.00 289.83 66.90Q283.40 69.10 276.97 66.90Q272.29 63.00 276.97 59.10Z" fill="#080808" opacity="1.0" filter="url(#b1)"/>
<path d="M296.52 59.60Q303.10 65.00 309.68 59.60Q313.76 63.00 309.68 66.40Q303.10 68.20 296.52 66.40Q292.44 63.00 296.52 59.60Z" fill="#141414" opacity="1.0" filter="url(#b1)" transform="rotate(-2 303.1 64.8)"/>
<path d="M317.14 58.10Q323.65 62.70 330.16 58.10Q333.52 60.90 330.16 63.70Q323.65 64.70 317.14 63.70Q313.78 60.90 317.14 58.10Z" fill="#2c2c2c" opacity="1.0" filter="url(#b1)" transform="rotate(-8 323.6 62.3)"/>
</g>
<rect x="253.8" y="84.6" width="82.6" height="42.0" fill="#bfbfbf"/>
<clipPath id="cp84"><rect x="253.8" y="84.6" width="82.6" height="42.0"/></clipPath>
<g clip-path="url(#cp84)">
<rect x="253.80" y="102.00" width="82.60" height="8.00" fill="#c8c8c8" filter="url(#b2)"/>
<rect x="256.00" y="92.50" width="14.00" height="3.20" rx="1.60" fill="#a4a4a4" opacity="1.0" filter="url(#b15)"/>
<rect x="256.00" y="98.90" width="14.00" height="2.80" rx="1.40" fill="#b4b4b4" opacity="1.0" filter="url(#b15)"/>
<rect x="256.0" y="107.0" width="14.0" height="8.0" fill="#666" opacity="0.18" filter="url(#b3)"/>
<rect x="275.50" y="92.50" width="15.00" height="3.20" rx="1.60" fill="#a4a4a4" opacity="1.0" filter="url(#b15)"/>
<rect x="275.50" y="98.90" width="15.00" height="2.80" rx="1.40" fill="#b4b4b4" opacity="1.0" filter="url(#b15)"/>
<rect x="275.5" y="107.0" width="15.0" height="8.0" fill="#666" opacity="0.18" filter="url(#b3)"/>
<rect x="295.00" y="92.40" width="15.00" height="2.80" rx="1.40" fill="#a0a0a0" opacity="1.0" filter="url(#b1)"/>
<rect x="295.50" y="97.25" width="15.00" height="4.50" rx="2.25" fill="#737373" opacity="1.0" filter="url(#b1)"/>
<rect x="316.0" y="91.0" width="19.0" height="12.0" fill="#666" opacity="0.3" filter="url(#b3)"/>
<path d="M317.5 99.5Q317 97.2 320 97.3Q326 97 330 93.5Q335 91.5 335.5 95Q336 99.5 330 101Q324 102.5 320 102Q317.6 101.8 317.5 99.5Z" fill="#050505" filter="url(#b1)"/>
<path d="M256.34 114.00Q262.75 116.60 269.16 114.00Q272.52 116.80 269.16 119.60Q262.75 120.20 256.34 119.60Q252.98 116.80 256.34 114.00Z" fill="#1a1a1a" opacity="1.0" filter="url(#b1)"/>
<path d="M276.14 114.00Q282.90 116.60 289.66 114.00Q293.02 116.80 289.66 119.60Q282.90 120.20 276.14 119.60Q272.78 116.80 276.14 114.00Z" fill="#1e1e1e" opacity="1.0" filter="url(#b1)"/>
<rect x="294.0" y="105.0" width="42.0" height="16.0" fill="#666" opacity="0.3" filter="url(#b3)"/>
<path d="M294.5 114Q294.5 110.5 300 110.5Q304 111.5 307 110.5Q313 110 313 115Q313.5 121 304 121Q294.5 121 294.5 117Z" fill="#000" filter="url(#b1)"/>
<path d="M315 112Q315 108 320 108Q326 108.5 330 106.5Q336 106 336 111Q336 118 326 118.5Q315 119.5 315 115Z" fill="#000" filter="url(#b1)"/>
</g>
<rect x="253.8" y="133.5" width="82.6" height="33.5" fill="#c6c6c6"/>
<clipPath id="cp133"><rect x="253.8" y="133.5" width="82.6" height="33.5"/></clipPath>
<g clip-path="url(#cp133)">
<rect x="253.80" y="147.00" width="82.60" height="14.00" fill="#d0d0d0" filter="url(#b2)"/>
<path d="M257.94 137.90Q264.70 141.70 271.46 137.90Q276.02 141.70 271.46 145.50Q264.70 144.50 257.94 145.50Q253.38 141.70 257.94 137.90Z" fill="#050505" opacity="1.0" filter="url(#b05)"/>
<path d="M278.14 137.90Q284.65 141.70 291.16 137.90Q295.72 141.70 291.16 145.50Q284.65 144.50 278.14 145.50Q273.58 141.70 278.14 137.90Z" fill="#050505" opacity="1.0" filter="url(#b05)"/>
<path d="M298.91 138.00Q306.05 141.80 313.19 138.00Q317.63 141.70 313.19 145.40Q306.05 144.40 298.91 145.40Q294.47 141.70 298.91 138.00Z" fill="#050505" opacity="1.0" filter="url(#b05)"/>
<path d="M321.19 136.20Q327.80 139.80 334.41 136.20Q338.37 139.50 334.41 142.80Q327.80 142.00 321.19 142.80Q317.23 139.50 321.19 136.20Z" fill="#050505" opacity="1.0" filter="url(#b05)" transform="rotate(-8 327.8 140.2)"/>
<rect x="257.00" y="157.70" width="13.50" height="2.60" rx="1.30" fill="#999" opacity="1.0" filter="url(#b1)"/>
<rect x="277.00" y="157.70" width="14.00" height="2.60" rx="1.30" fill="#a2a2a2" opacity="1.0" filter="url(#b1)"/>
<path d="M298.34 156.20Q305.40 158.20 312.46 156.20Q314.62 158.00 312.46 159.80Q305.40 159.80 298.34 159.80Q296.18 158.00 298.34 156.20Z" fill="#0a0a0a" opacity="1.0" filter="url(#b05)"/>
<path d="M319.94 154.20Q327.00 156.20 334.06 154.20Q336.22 156.00 334.06 157.80Q327.00 157.80 319.94 157.80Q317.78 156.00 319.94 154.20Z" fill="#0a0a0a" opacity="1.0" filter="url(#b05)" transform="rotate(-8 327.0 156.5)"/>
</g>
<rect x="253.8" y="171.8" width="82.6" height="37.7" fill="#d2cece"/>
<clipPath id="cp171"><rect x="253.8" y="171.8" width="82.6" height="37.7"/></clipPath>
<g clip-path="url(#cp171)">
<rect x="254.7" y="170.8" width="17.4" height="14.6" rx="6.5" ry="5.5" fill="#000" filter="url(#b1)"/>
<rect x="274.7" y="170.8" width="16.4" height="15.2" rx="6.5" ry="5.5" fill="#000" filter="url(#b1)"/>
<rect x="293.7" y="170.8" width="17.4" height="15.9" rx="6.5" ry="5.5" fill="#000" filter="url(#b1)"/>
<rect x="312.0" y="170.8" width="18.5" height="14.7" rx="6.5" ry="5.5" fill="#000" filter="url(#b1)"/>
<rect x="295.50" y="185.75" width="14.00" height="4.50" rx="2.25" fill="#3a3a3a" opacity="1.0" filter="url(#b15)"/>
<rect x="313.50" y="185.75" width="15.00" height="4.50" rx="2.25" fill="#3a3a3a" opacity="1.0" filter="url(#b15)"/>
<rect x="296.00" y="188.60" width="13.00" height="4.00" rx="2.00" fill="#808080" opacity="1.0" filter="url(#b15)"/>
<rect x="313.50" y="188.10" width="14.50" height="5.00" rx="2.50" fill="#707070" opacity="1.0" filter="url(#b15)"/>
<rect x="314.50" y="193.50" width="14.00" height="3.00" rx="1.50" fill="#7a7a7a" opacity="1.0" filter="url(#b1)"/>
<rect x="259.50" y="199.50" width="11.30" height="2.60" rx="1.30" fill="#727272" opacity="1.0" filter="url(#b1)"/>
<rect x="278.50" y="199.10" width="11.30" height="3.00" rx="1.50" fill="#555" opacity="1.0" filter="url(#b1)"/>
<rect x="296.70" y="198.80" width="12.10" height="3.00" rx="1.50" fill="#555" opacity="1.0" filter="url(#b1)"/>
<rect x="315.00" y="197.30" width="13.70" height="3.40" rx="1.70" fill="#404040" opacity="1.0" filter="url(#b1)" transform="rotate(-3 321.9 199.0)"/>
</g>
<rect x="253.8" y="228.8" width="82.6" height="87.6" fill="#d8d3d1"/>
<clipPath id="cp228"><rect x="253.8" y="228.8" width="82.6" height="87.6"/></clipPath>
<g clip-path="url(#cp228)">
<path d="M263 235.6C268.5 235.6 271 240 272 246C273 252 272.5 258 263 258C253.5 258 253 252 254 246C255 240 257.5 235.6 263 235.6Z" fill="#000" filter="url(#b1)"/>
<path d="M262.2 237L262.5 229.5L263.4 237Z" fill="#222" filter="url(#b05)"/>
<path d="M273.8 251C273.8 244 276 239.6 279 239.6C281 239.6 282 241 282.5 241C283 241 284.5 239.4 286.5 239.6C289.5 239.8 291.2 244 291.2 251C291.2 258 288 259.5 282.5 259.5C277 259.5 273.8 258 273.8 251Z" fill="#000" filter="url(#b1)"/>
<rect x="297.00" y="242.00" width="9.00" height="2.00" rx="1.00" fill="#a09a96" opacity="1.0" filter="url(#b1)"/>
<rect x="292.70" y="245.30" width="17.20" height="13.40" rx="5.50" fill="#000" opacity="1.0" filter="url(#b1)"/>
<rect x="311.20" y="246.80" width="17.70" height="11.40" rx="5.00" fill="#000" opacity="1.0" filter="url(#b1)"/>
<rect x="295.30" y="262.10" width="13.20" height="6.20" rx="3.00" fill="#000" opacity="1.0" filter="url(#b05)"/>
<rect x="312.00" y="260.35" width="17.20" height="8.50" rx="4.00" fill="#000" opacity="1.0" filter="url(#b05)"/>
<rect x="301.00" y="290.85" width="4.00" height="1.50" rx="0.75" fill="#b8b0ad" opacity="1.0" filter="url(#b1)"/>
<rect x="297.00" y="300.10" width="12.70" height="4.60" rx="2.30" fill="#000" opacity="1.0" filter="url(#b05)"/>
<rect x="313.10" y="298.40" width="17.90" height="6.00" rx="3.00" fill="#000" opacity="1.0" filter="url(#b05)"/>
<rect x="300.50" y="308.70" width="7.50" height="1.80" rx="0.90" fill="#555" opacity="1.0" filter="url(#b1)"/>
<rect x="316.00" y="308.30" width="10.00" height="1.80" rx="0.90" fill="#555" opacity="1.0" filter="url(#b1)"/>
</g>
<rect x="253.8" y="325.0" width="82.6" height="20.6" fill="#cccccc"/>
<clipPath id="cp325"><rect x="253.8" y="325.0" width="82.6" height="20.6"/></clipPath>
<g clip-path="url(#cp325)">
<g filter="url(#b1)" transform="rotate(-1 265.0 337.0)" fill="#000"><rect x="257.2" y="334.6" width="15.6" height="5.2" rx="2.4"/><ellipse cx="259.2" cy="337.1" rx="2.8" ry="3.0"/><ellipse cx="271.0" cy="335.8" rx="2.6" ry="3.6"/></g>
<g filter="url(#b1)" transform="rotate(-1 285.1 337.0)" fill="#000"><rect x="277.4" y="334.6" width="15.3" height="5.2" rx="2.4"/><ellipse cx="279.4" cy="337.1" rx="2.8" ry="3.0"/><ellipse cx="290.9" cy="335.8" rx="2.6" ry="3.6"/></g>
<g filter="url(#b1)" transform="rotate(-1 305.7 336.9)" fill="#000"><rect x="297.6" y="334.5" width="16.2" height="5.2" rx="2.4"/><ellipse cx="299.6" cy="337.0" rx="2.8" ry="3.0"/><ellipse cx="312.0" cy="335.7" rx="2.6" ry="3.6"/></g>
<g filter="url(#b1)" transform="rotate(-4 326.6 335.4)" fill="#000"><rect x="319.0" y="333.0" width="15.2" height="5.2" rx="2.4"/><ellipse cx="321.0" cy="335.5" rx="2.8" ry="3.0"/><ellipse cx="332.4" cy="334.2" rx="2.6" ry="3.6"/></g>
</g>
<path d="M399.0 35.6V144.4M398.4 143.8H505.5" stroke="#000" stroke-width="1.8" fill="none"/>
<line x1="394.5" y1="143.8" x2="399.0" y2="143.8" stroke="#000" stroke-width="1.5" />
<text x="384.44" y="147.5" font-size="11" font-weight="normal" fill="#1a1a1a" stroke="#1a1a1a" stroke-width="0.3" textLength="5.12" lengthAdjust="spacingAndGlyphs" >0</text>
<line x1="394.5" y1="119.93" x2="399.0" y2="119.93" stroke="#000" stroke-width="1.5" />
<text x="369.18" y="123.6" font-size="11" font-weight="normal" fill="#1a1a1a" stroke="#1a1a1a" stroke-width="0.3" textLength="20.50" lengthAdjust="spacingAndGlyphs" >200</text>
<line x1="394.5" y1="96.05" x2="399.0" y2="96.05" stroke="#000" stroke-width="1.5" />
<text x="369.52" y="99.8" font-size="11" font-weight="normal" fill="#1a1a1a" stroke="#1a1a1a" stroke-width="0.3" textLength="20.15" lengthAdjust="spacingAndGlyphs" >400</text>
<line x1="394.5" y1="72.17" x2="399.0" y2="72.17" stroke="#000" stroke-width="1.5" />
<text x="369.18" y="75.9" font-size="11" font-weight="normal" fill="#1a1a1a" stroke="#1a1a1a" stroke-width="0.3" textLength="20.50" lengthAdjust="spacingAndGlyphs" >600</text>
<line x1="394.5" y1="48.3" x2="399.0" y2="48.3" stroke="#000" stroke-width="1.5" />
<text x="369.27" y="52.0" font-size="11" font-weight="normal" fill="#1a1a1a" stroke="#1a1a1a" stroke-width="0.3" textLength="20.41" lengthAdjust="spacingAndGlyphs" >800</text>
<line x1="410.6" y1="143.8" x2="410.6" y2="148.4" stroke="#000" stroke-width="1.5" />
<line x1="425.2" y1="143.8" x2="425.2" y2="148.4" stroke="#000" stroke-width="1.5" />
<line x1="439.9" y1="143.8" x2="439.9" y2="148.4" stroke="#000" stroke-width="1.5" />
<line x1="464.4" y1="143.8" x2="464.4" y2="148.4" stroke="#000" stroke-width="1.5" />
<line x1="479.0" y1="143.8" x2="479.0" y2="148.4" stroke="#000" stroke-width="1.5" />
<line x1="493.7" y1="143.8" x2="493.7" y2="148.4" stroke="#000" stroke-width="1.5" />
<rect x="405.25" y="132.21" width="10.70" height="11.59" fill="#a8002c" stroke="#8a0024" stroke-width="0.7"/>
<rect x="419.85" y="126.24" width="10.70" height="17.56" fill="#a8002c" stroke="#8a0024" stroke-width="0.7"/>
<path d="M425.20 126.89V125.30M422.20 125.30H428.20" stroke="#111" stroke-width="1.5" fill="none"/>
<rect x="434.55" y="109.53" width="10.70" height="34.27" fill="#a8002c" stroke="#8a0024" stroke-width="0.7"/>
<path d="M439.90 110.18V108.58M436.90 108.58H442.90" stroke="#111" stroke-width="1.5" fill="none"/>
<rect x="459.05" y="132.21" width="10.70" height="11.59" fill="#2e4b80" stroke="#243c66" stroke-width="0.7"/>
<rect x="473.65" y="92.82" width="10.70" height="50.98" fill="#2e4b80" stroke="#243c66" stroke-width="0.7"/>
<path d="M479.00 93.47V91.87M476.00 91.87H482.00" stroke="#111" stroke-width="1.5" fill="none"/>
<rect x="488.35" y="72.52" width="10.70" height="71.28" fill="#2e4b80" stroke="#243c66" stroke-width="0.7"/>
<path d="M493.70 73.17V71.58M490.70 71.58H496.70" stroke="#111" stroke-width="1.5" fill="none"/>
<text transform="translate(361.2,148.70) scale(1.12,1) rotate(-90)" x="-0.64" y="0" font-size="12.3" fill="#1a1a1a" stroke="#1a1a1a" stroke-width="0.3" textLength="113.57" lengthAdjust="spacingAndGlyphs">Caspase 3/7 activity</text>
<path d="M399.0 153.6V262.40000000000003M398.4 261.8H505.5" stroke="#000" stroke-width="1.8" fill="none"/>
<line x1="394.5" y1="261.8" x2="399.0" y2="261.8" stroke="#000" stroke-width="1.5" />
<text x="384.44" y="265.5" font-size="11" font-weight="normal" fill="#1a1a1a" stroke="#1a1a1a" stroke-width="0.3" textLength="5.12" lengthAdjust="spacingAndGlyphs" >0</text>
<line x1="394.5" y1="237.85" x2="399.0" y2="237.85" stroke="#000" stroke-width="1.5" />
<text x="369.18" y="241.6" font-size="11" font-weight="normal" fill="#1a1a1a" stroke="#1a1a1a" stroke-width="0.3" textLength="20.50" lengthAdjust="spacingAndGlyphs" >200</text>
<line x1="394.5" y1="213.9" x2="399.0" y2="213.9" stroke="#000" stroke-width="1.5" />
<text x="369.52" y="217.6" font-size="11" font-weight="normal" fill="#1a1a1a" stroke="#1a1a1a" stroke-width="0.3" textLength="20.15" lengthAdjust="spacingAndGlyphs" >400</text>
<line x1="394.5" y1="189.95" x2="399.0" y2="189.95" stroke="#000" stroke-width="1.5" />
<text x="369.18" y="193.6" font-size="11" font-weight="normal" fill="#1a1a1a" stroke="#1a1a1a" stroke-width="0.3" textLength="20.50" lengthAdjust="spacingAndGlyphs" >600</text>
<line x1="394.5" y1="166.0" x2="399.0" y2="166.0" stroke="#000" stroke-width="1.5" />
<text x="369.27" y="169.7" font-size="11" font-weight="normal" fill="#1a1a1a" stroke="#1a1a1a" stroke-width="0.3" textLength="20.41" lengthAdjust="spacingAndGlyphs" >800</text>
<line x1="410.6" y1="261.8" x2="410.6" y2="266.40000000000003" stroke="#000" stroke-width="1.5" />
<line x1="425.2" y1="261.8" x2="425.2" y2="266.40000000000003" stroke="#000" stroke-width="1.5" />
<line x1="439.9" y1="261.8" x2="439.9" y2="266.40000000000003" stroke="#000" stroke-width="1.5" />
<line x1="464.4" y1="261.8" x2="464.4" y2="266.40000000000003" stroke="#000" stroke-width="1.5" />
<line x1="479.0" y1="261.8" x2="479.0" y2="266.40000000000003" stroke="#000" stroke-width="1.5" />
<line x1="493.7" y1="261.8" x2="493.7" y2="266.40000000000003" stroke="#000" stroke-width="1.5" />
<rect x="405.25" y="250.18" width="10.70" height="11.62" fill="#a8002c" stroke="#8a0024" stroke-width="0.7"/>
<rect x="419.85" y="243.83" width="10.70" height="17.97" fill="#a8002c" stroke="#8a0024" stroke-width="0.7"/>
<path d="M425.20 244.48V242.52M422.20 242.52H428.20" stroke="#111" stroke-width="1.5" fill="none"/>
<rect x="434.55" y="234.37" width="10.70" height="27.43" fill="#a8002c" stroke="#8a0024" stroke-width="0.7"/>
<path d="M439.90 235.02V230.67M436.90 230.67H442.90" stroke="#111" stroke-width="1.5" fill="none"/>
<rect x="459.05" y="250.18" width="10.70" height="11.62" fill="#2e4b80" stroke="#243c66" stroke-width="0.7"/>
<rect x="473.65" y="224.07" width="10.70" height="37.73" fill="#2e4b80" stroke="#243c66" stroke-width="0.7"/>
<path d="M479.00 224.72V223.36M476.00 223.36H482.00" stroke="#111" stroke-width="1.5" fill="none"/>
<rect x="488.35" y="189.46" width="10.70" height="72.34" fill="#2e4b80" stroke="#243c66" stroke-width="0.7"/>
<path d="M493.70 190.11V181.21M490.70 181.21H496.70" stroke="#111" stroke-width="1.5" fill="none"/>
<text transform="translate(361.2,257.00) scale(1.12,1) rotate(-90)" x="-0.62" y="0" font-size="12.3" fill="#1a1a1a" stroke="#1a1a1a" stroke-width="0.3" textLength="99.35" lengthAdjust="spacingAndGlyphs">Caspase 8 activity</text>
<path d="M399.0 271.4V379.8M398.4 379.2H505.5" stroke="#000" stroke-width="1.8" fill="none"/>
<line x1="394.5" y1="379.2" x2="399.0" y2="379.2" stroke="#000" stroke-width="1.5" />
<text x="384.44" y="382.9" font-size="11" font-weight="normal" fill="#1a1a1a" stroke="#1a1a1a" stroke-width="0.3" textLength="5.12" lengthAdjust="spacingAndGlyphs" >0</text>
<line x1="394.5" y1="355.2" x2="399.0" y2="355.2" stroke="#000" stroke-width="1.5" />
<text x="369.18" y="358.9" font-size="11" font-weight="normal" fill="#1a1a1a" stroke="#1a1a1a" stroke-width="0.3" textLength="20.50" lengthAdjust="spacingAndGlyphs" >200</text>
<line x1="394.5" y1="331.2" x2="399.0" y2="331.2" stroke="#000" stroke-width="1.5" />
<text x="369.52" y="334.9" font-size="11" font-weight="normal" fill="#1a1a1a" stroke="#1a1a1a" stroke-width="0.3" textLength="20.15" lengthAdjust="spacingAndGlyphs" >400</text>
<line x1="394.5" y1="307.2" x2="399.0" y2="307.2" stroke="#000" stroke-width="1.5" />
<text x="369.18" y="310.9" font-size="11" font-weight="normal" fill="#1a1a1a" stroke="#1a1a1a" stroke-width="0.3" textLength="20.50" lengthAdjust="spacingAndGlyphs" >600</text>
<line x1="394.5" y1="283.2" x2="399.0" y2="283.2" stroke="#000" stroke-width="1.5" />
<text x="369.27" y="286.9" font-size="11" font-weight="normal" fill="#1a1a1a" stroke="#1a1a1a" stroke-width="0.3" textLength="20.41" lengthAdjust="spacingAndGlyphs" >800</text>
<line x1="410.6" y1="379.2" x2="410.6" y2="383.8" stroke="#000" stroke-width="1.5" />
<line x1="425.2" y1="379.2" x2="425.2" y2="383.8" stroke="#000" stroke-width="1.5" />
<line x1="439.9" y1="379.2" x2="439.9" y2="383.8" stroke="#000" stroke-width="1.5" />
<line x1="464.4" y1="379.2" x2="464.4" y2="383.8" stroke="#000" stroke-width="1.5" />
<line x1="479.0" y1="379.2" x2="479.0" y2="383.8" stroke="#000" stroke-width="1.5" />
<line x1="493.7" y1="379.2" x2="493.7" y2="383.8" stroke="#000" stroke-width="1.5" />
<rect x="405.25" y="367.55" width="10.70" height="11.65" fill="#a8002c" stroke="#8a0024" stroke-width="0.7"/>
<rect x="419.85" y="363.59" width="10.70" height="15.61" fill="#a8002c" stroke="#8a0024" stroke-width="0.7"/>
<path d="M425.20 364.24V362.52M422.20 362.52H428.20" stroke="#111" stroke-width="1.5" fill="none"/>
<rect x="434.55" y="349.67" width="10.70" height="29.53" fill="#a8002c" stroke="#8a0024" stroke-width="0.7"/>
<path d="M439.90 350.32V345.84M436.90 345.84H442.90" stroke="#111" stroke-width="1.5" fill="none"/>
<rect x="459.05" y="367.55" width="10.70" height="11.65" fill="#2e4b80" stroke="#243c66" stroke-width="0.7"/>
<rect x="473.65" y="326.87" width="10.70" height="52.33" fill="#2e4b80" stroke="#243c66" stroke-width="0.7"/>
<path d="M479.00 327.52V323.28M476.00 323.28H482.00" stroke="#111" stroke-width="1.5" fill="none"/>
<rect x="488.35" y="283.91" width="10.70" height="95.29" fill="#2e4b80" stroke="#243c66" stroke-width="0.7"/>
<path d="M493.70 284.56V280.80M490.70 280.80H496.70" stroke="#111" stroke-width="1.5" fill="none"/>
<text transform="translate(361.2,376.50) scale(1.12,1) rotate(-90)" x="-0.63" y="0" font-size="12.3" fill="#1a1a1a" stroke="#1a1a1a" stroke-width="0.3" textLength="100.05" lengthAdjust="spacingAndGlyphs">Caspase 9 activity</text>
<rect x="410.20" y="36.30" width="10.90" height="11.00" fill="#a8002c" />
<rect x="410.20" y="52.80" width="10.90" height="11.00" fill="#2e4b80" />
<text x="425.64" y="45.6" font-size="10.8" font-weight="normal" fill="#1a1a1a" stroke="#1a1a1a" stroke-width="0.3" textLength="18.58" lengthAdjust="spacingAndGlyphs" >48h</text>
<text x="425.32" y="61.7" font-size="10.8" font-weight="normal" fill="#1a1a1a" stroke="#1a1a1a" stroke-width="0.3" textLength="18.92" lengthAdjust="spacingAndGlyphs" >72h</text>
<text x="407.55" y="398.9" font-size="10.4" font-weight="normal" fill="#1a1a1a" stroke="#1a1a1a" stroke-width="0.3" textLength="6.40" lengthAdjust="spacingAndGlyphs" >0</text>
<text x="416.75" y="398.9" font-size="10.4" font-weight="normal" fill="#1a1a1a" stroke="#1a1a1a" stroke-width="0.3" textLength="16.14" lengthAdjust="spacingAndGlyphs" >0.5</text>
<path d="M440.51 398.90V391.62L439.99 391.62Q439.47 393.28 437.30 393.70" stroke="#1a1a1a" stroke-width="0.99" fill="none"/>
<text x="461.05" y="398.9" font-size="10.4" font-weight="normal" fill="#1a1a1a" stroke="#1a1a1a" stroke-width="0.3" textLength="6.40" lengthAdjust="spacingAndGlyphs" >0</text>
<text x="470.03" y="398.9" font-size="10.4" font-weight="normal" fill="#1a1a1a" stroke="#1a1a1a" stroke-width="0.3" textLength="16.67" lengthAdjust="spacingAndGlyphs" >0.5</text>
<path d="M494.41 398.90V391.62L493.89 391.62Q493.37 393.28 491.30 393.70" stroke="#1a1a1a" stroke-width="0.99" fill="none"/>
<text x="395.06" y="418.8" font-size="13.8" font-weight="normal" fill="#1a1a1a" stroke="#1a1a1a" stroke-width="0.3" textLength="113.52" lengthAdjust="spacingAndGlyphs" >KPT9274 dose (µM)</text>
<path d="M79.2 453V589.4M78.60000000000001 588.8H264.4" stroke="#000" stroke-width="1.8" fill="none"/>
<line x1="74.60000000000001" y1="566.2" x2="79.2" y2="566.2" stroke="#000" stroke-width="1.5" />
<text x="49.83" y="570.0" font-size="11" font-weight="normal" fill="#1a1a1a" stroke="#1a1a1a" stroke-width="0.3" textLength="19.12" lengthAdjust="spacingAndGlyphs" >100</text>
<line x1="74.60000000000001" y1="521.2" x2="79.2" y2="521.2" stroke="#000" stroke-width="1.5" />
<text x="50.13" y="525.0" font-size="11" font-weight="normal" fill="#1a1a1a" stroke="#1a1a1a" stroke-width="0.3" textLength="18.81" lengthAdjust="spacingAndGlyphs" >200</text>
<line x1="74.60000000000001" y1="476.2" x2="79.2" y2="476.2" stroke="#000" stroke-width="1.5" />
<text x="50.27" y="480.0" font-size="11" font-weight="normal" fill="#1a1a1a" stroke="#1a1a1a" stroke-width="0.3" textLength="18.66" lengthAdjust="spacingAndGlyphs" >300</text>
<line x1="79.2" y1="566.2" x2="264.4" y2="566.2" stroke="#000" stroke-width="1.4" stroke-dasharray="4,2.6"/>
<line x1="101.8" y1="588.8" x2="101.8" y2="593.4" stroke="#000" stroke-width="1.5" />
<rect x="85.25" y="474.75" width="8.30" height="113.45" fill="#a8002c" stroke="#8a0024" stroke-width="0.7"/>
<path d="M89.40 475.40V470.80M86.90 470.80H91.90" stroke="#111" stroke-width="1.5" fill="none"/>
<rect x="97.65" y="461.25" width="8.30" height="126.95" fill="#2e4b80" stroke="#243c66" stroke-width="0.7"/>
<path d="M101.80 461.90V457.75M99.30 457.75H104.30" stroke="#111" stroke-width="1.5" fill="none"/>
<rect x="110.05" y="464.40" width="8.30" height="123.80" fill="#68a848" stroke="#5a9040" stroke-width="0.7"/>
<path d="M114.20 465.05V461.35M111.70 461.35H116.70" stroke="#111" stroke-width="1.5" fill="none"/>
<line x1="148.0" y1="588.8" x2="148.0" y2="593.4" stroke="#000" stroke-width="1.5" />
<rect x="131.45" y="558.45" width="8.30" height="29.75" fill="#a8002c" stroke="#8a0024" stroke-width="0.7"/>
<path d="M135.60 559.10V555.85M133.10 555.85H138.10" stroke="#111" stroke-width="1.5" fill="none"/>
<rect x="143.85" y="554.18" width="8.30" height="34.02" fill="#2e4b80" stroke="#243c66" stroke-width="0.7"/>
<path d="M148.00 554.83V552.48M145.50 552.48H150.50" stroke="#111" stroke-width="1.5" fill="none"/>
<rect x="156.25" y="556.43" width="8.30" height="31.77" fill="#68a848" stroke="#5a9040" stroke-width="0.7"/>
<path d="M160.40 557.08V554.28M157.90 554.28H162.90" stroke="#111" stroke-width="1.5" fill="none"/>
<line x1="194.1" y1="588.8" x2="194.1" y2="593.4" stroke="#000" stroke-width="1.5" />
<rect x="177.55" y="552.15" width="8.30" height="36.05" fill="#a8002c" stroke="#8a0024" stroke-width="0.7"/>
<path d="M181.70 552.80V547.75M179.20 547.75H184.20" stroke="#111" stroke-width="1.5" fill="none"/>
<rect x="189.95" y="552.38" width="8.30" height="35.82" fill="#2e4b80" stroke="#243c66" stroke-width="0.7"/>
<path d="M194.10 553.03V551.58M191.60 551.58H196.60" stroke="#111" stroke-width="1.5" fill="none"/>
<rect x="202.35" y="552.38" width="8.30" height="35.82" fill="#68a848" stroke="#5a9040" stroke-width="0.7"/>
<path d="M206.50 553.03V551.58M204.00 551.58H209.00" stroke="#111" stroke-width="1.5" fill="none"/>
<line x1="240.3" y1="588.8" x2="240.3" y2="593.4" stroke="#000" stroke-width="1.5" />
<rect x="223.75" y="477.45" width="8.30" height="110.75" fill="#a8002c" stroke="#8a0024" stroke-width="0.7"/>
<path d="M227.90 478.10V474.40M225.40 474.40H230.40" stroke="#111" stroke-width="1.5" fill="none"/>
<rect x="236.15" y="464.85" width="8.30" height="123.35" fill="#2e4b80" stroke="#243c66" stroke-width="0.7"/>
<path d="M240.30 465.50V461.80M237.80 461.80H242.80" stroke="#111" stroke-width="1.5" fill="none"/>
<rect x="248.55" y="461.25" width="8.30" height="126.95" fill="#68a848" stroke="#5a9040" stroke-width="0.7"/>
<path d="M252.70 461.90V460.45M250.20 460.45H255.20" stroke="#111" stroke-width="1.5" fill="none"/>
<text x="83.13" y="608.6" font-size="11" font-weight="normal" fill="#1a1a1a" stroke="#1a1a1a" stroke-width="0.3" textLength="36.04" lengthAdjust="spacingAndGlyphs" >MM #1</text>
<text x="129.52" y="608.6" font-size="11" font-weight="normal" fill="#1a1a1a" stroke="#1a1a1a" stroke-width="0.3" textLength="36.37" lengthAdjust="spacingAndGlyphs" >MM #2</text>
<text x="175.92" y="608.6" font-size="11" font-weight="normal" fill="#1a1a1a" stroke="#1a1a1a" stroke-width="0.3" textLength="36.50" lengthAdjust="spacingAndGlyphs" >MM #3</text>
<text x="221.92" y="608.6" font-size="11" font-weight="normal" fill="#1a1a1a" stroke="#1a1a1a" stroke-width="0.3" textLength="36.43" lengthAdjust="spacingAndGlyphs" >MM #4</text>
<rect x="126.00" y="454.40" width="15.30" height="7.60" fill="#a8002c" />
<rect x="126.00" y="466.30" width="15.30" height="7.60" fill="#2e4b80" />
<rect x="126.00" y="478.30" width="15.30" height="7.60" fill="#68a848" />
<text x="145.83" y="461.6" font-size="10.6" font-weight="normal" fill="#1a1a1a" stroke="#1a1a1a" stroke-width="0.3" textLength="32.66" lengthAdjust="spacingAndGlyphs" >casp 3</text>
<text x="145.83" y="473.6" font-size="10.6" font-weight="normal" fill="#1a1a1a" stroke="#1a1a1a" stroke-width="0.3" textLength="32.65" lengthAdjust="spacingAndGlyphs" >casp 8</text>
<text x="145.83" y="485.6" font-size="10.6" font-weight="normal" fill="#1a1a1a" stroke="#1a1a1a" stroke-width="0.3" textLength="32.70" lengthAdjust="spacingAndGlyphs" >casp 9</text>
<text transform="translate(25.3,580.10) scale(1.12,1) rotate(-90)" x="-0.45" y="0" font-size="13.5" fill="#1a1a1a" stroke="#1a1a1a" stroke-width="0.3" textLength="118.18" lengthAdjust="spacingAndGlyphs">% of caspase activity</text>
<text transform="translate(41.8,601.50) scale(1.12,1) rotate(-90)" x="-0.54" y="0" font-size="13.5" fill="#1a1a1a" stroke="#1a1a1a" stroke-width="0.3" textLength="161.02" lengthAdjust="spacingAndGlyphs">compare to untreated (=100)</text>
<path d="M326.9 464.6V588.6M326.29999999999995 588.0H503.5" stroke="#000" stroke-width="1.8" fill="none"/>
<line x1="321.7" y1="588.0" x2="326.9" y2="588.0" stroke="#000" stroke-width="1.5" />
<text x="311.33" y="591.8" font-size="11" font-weight="normal" fill="#1a1a1a" stroke="#1a1a1a" stroke-width="0.3" textLength="6.63" lengthAdjust="spacingAndGlyphs" >0</text>
<line x1="321.7" y1="529.6" x2="326.9" y2="529.6" stroke="#000" stroke-width="1.5" />
<text x="304.00" y="533.4" font-size="11" font-weight="normal" fill="#1a1a1a" stroke="#1a1a1a" stroke-width="0.3" textLength="14.00" lengthAdjust="spacingAndGlyphs" >50</text>
<line x1="321.7" y1="471.2" x2="326.9" y2="471.2" stroke="#000" stroke-width="1.5" />
<text x="297.88" y="475.0" font-size="11" font-weight="normal" fill="#1a1a1a" stroke="#1a1a1a" stroke-width="0.3" textLength="20.09" lengthAdjust="spacingAndGlyphs" >100</text>
<line x1="353.8" y1="588.0" x2="353.8" y2="592.8" stroke="#000" stroke-width="1.5" />
<rect x="340.25" y="530.53" width="27.1" height="56.87" fill="#a8002c" stroke="#8a0024" stroke-width="0.7"/>
<path d="M353.80 535.79V524.46M347.00 524.46H360.60M347.00 535.79H360.60" stroke="#111" stroke-width="1.4" fill="none"/>
<line x1="394.8" y1="588.0" x2="394.8" y2="592.8" stroke="#000" stroke-width="1.5" />
<rect x="381.25" y="475.05" width="27.1" height="112.35" fill="#a8002c" stroke="#8a0024" stroke-width="0.7"/>
<path d="M394.80 475.29V474.12M388.00 474.12H401.60M388.00 475.29H401.60" stroke="#111" stroke-width="1.4" fill="none"/>
<line x1="435.2" y1="588.0" x2="435.2" y2="592.8" stroke="#000" stroke-width="1.5" />
<rect x="421.65" y="531.94" width="27.1" height="55.46" fill="#a8002c" stroke="#8a0024" stroke-width="0.7"/>
<path d="M435.20 534.16V528.32M428.40 528.32H442.00M428.40 534.16H442.00" stroke="#111" stroke-width="1.4" fill="none"/>
<line x1="475.5" y1="588.0" x2="475.5" y2="592.8" stroke="#000" stroke-width="1.5" />
<rect x="461.95" y="508.23" width="27.1" height="79.17" fill="#a8002c" stroke="#8a0024" stroke-width="0.7"/>
<path d="M475.50 510.44V504.02M468.70 504.02H482.30M468.70 510.44H482.30" stroke="#111" stroke-width="1.4" fill="none"/>
<path d="M396.2 458.6H476.9M396.2 454.3V463M476.9 454.3V463" stroke="#000" stroke-width="1.8" fill="none"/>
<text x="412.48" y="454.3" font-size="10" font-weight="normal" fill="#1a1a1a" stroke="#1a1a1a" stroke-width="0.3" textLength="46.76" lengthAdjust="spacingAndGlyphs" >p=0.0001</text>
<text transform="translate(290.2,594.50) scale(1.12,1) rotate(-90)" x="-0.45" y="0" font-size="13.5" fill="#1a1a1a" stroke="#1a1a1a" stroke-width="0.3" textLength="137.11" lengthAdjust="spacingAndGlyphs">% of annexinV/PI + cells</text>
<text x="279.85" y="611.9" font-size="11" font-weight="normal" fill="#1a1a1a" stroke="#1a1a1a" stroke-width="0.3" textLength="38.37" lengthAdjust="spacingAndGlyphs" >Vehicle</text>
<text x="278.98" y="629.2" font-size="11" font-weight="normal" fill="#1a1a1a" stroke="#1a1a1a" stroke-width="0.3" textLength="21.78" lengthAdjust="spacingAndGlyphs" >KPT</text>
<text x="279.82" y="646.8" font-size="11" font-weight="normal" fill="#1a1a1a" stroke="#1a1a1a" stroke-width="0.3" textLength="30.45" lengthAdjust="spacingAndGlyphs" >zVAD</text>
<path d="M350.7 609.2H356.9M353.8 606.1V612.3" stroke="#222" stroke-width="1.2"/>
<path d="M393.1 609.4H396.5" stroke="#333" stroke-width="1.2"/>
<path d="M433.5 609.4H436.9" stroke="#333" stroke-width="1.2"/>
<path d="M473.8 609.4H477.2" stroke="#333" stroke-width="1.2"/>
<path d="M352.1 626.7H355.5" stroke="#333" stroke-width="1.2"/>
<path d="M391.7 626.5H397.9M394.8 623.4V629.6" stroke="#222" stroke-width="1.2"/>
<path d="M433.5 626.7H436.9" stroke="#333" stroke-width="1.2"/>
<path d="M472.4 626.5H478.6M475.5 623.4V629.6" stroke="#222" stroke-width="1.2"/>
<path d="M352.1 644.3H355.5" stroke="#333" stroke-width="1.2"/>
<path d="M393.1 644.3H396.5" stroke="#333" stroke-width="1.2"/>
<path d="M432.1 644.1H438.3M435.2 641.0V647.2" stroke="#222" stroke-width="1.2"/>
<path d="M472.4 644.1H478.6M475.5 641.0V647.2" stroke="#222" stroke-width="1.2"/>
<rect x="1" y="1" width="518" height="658" fill="none" stroke="#000" stroke-width="2"/>
</svg></body></html>
